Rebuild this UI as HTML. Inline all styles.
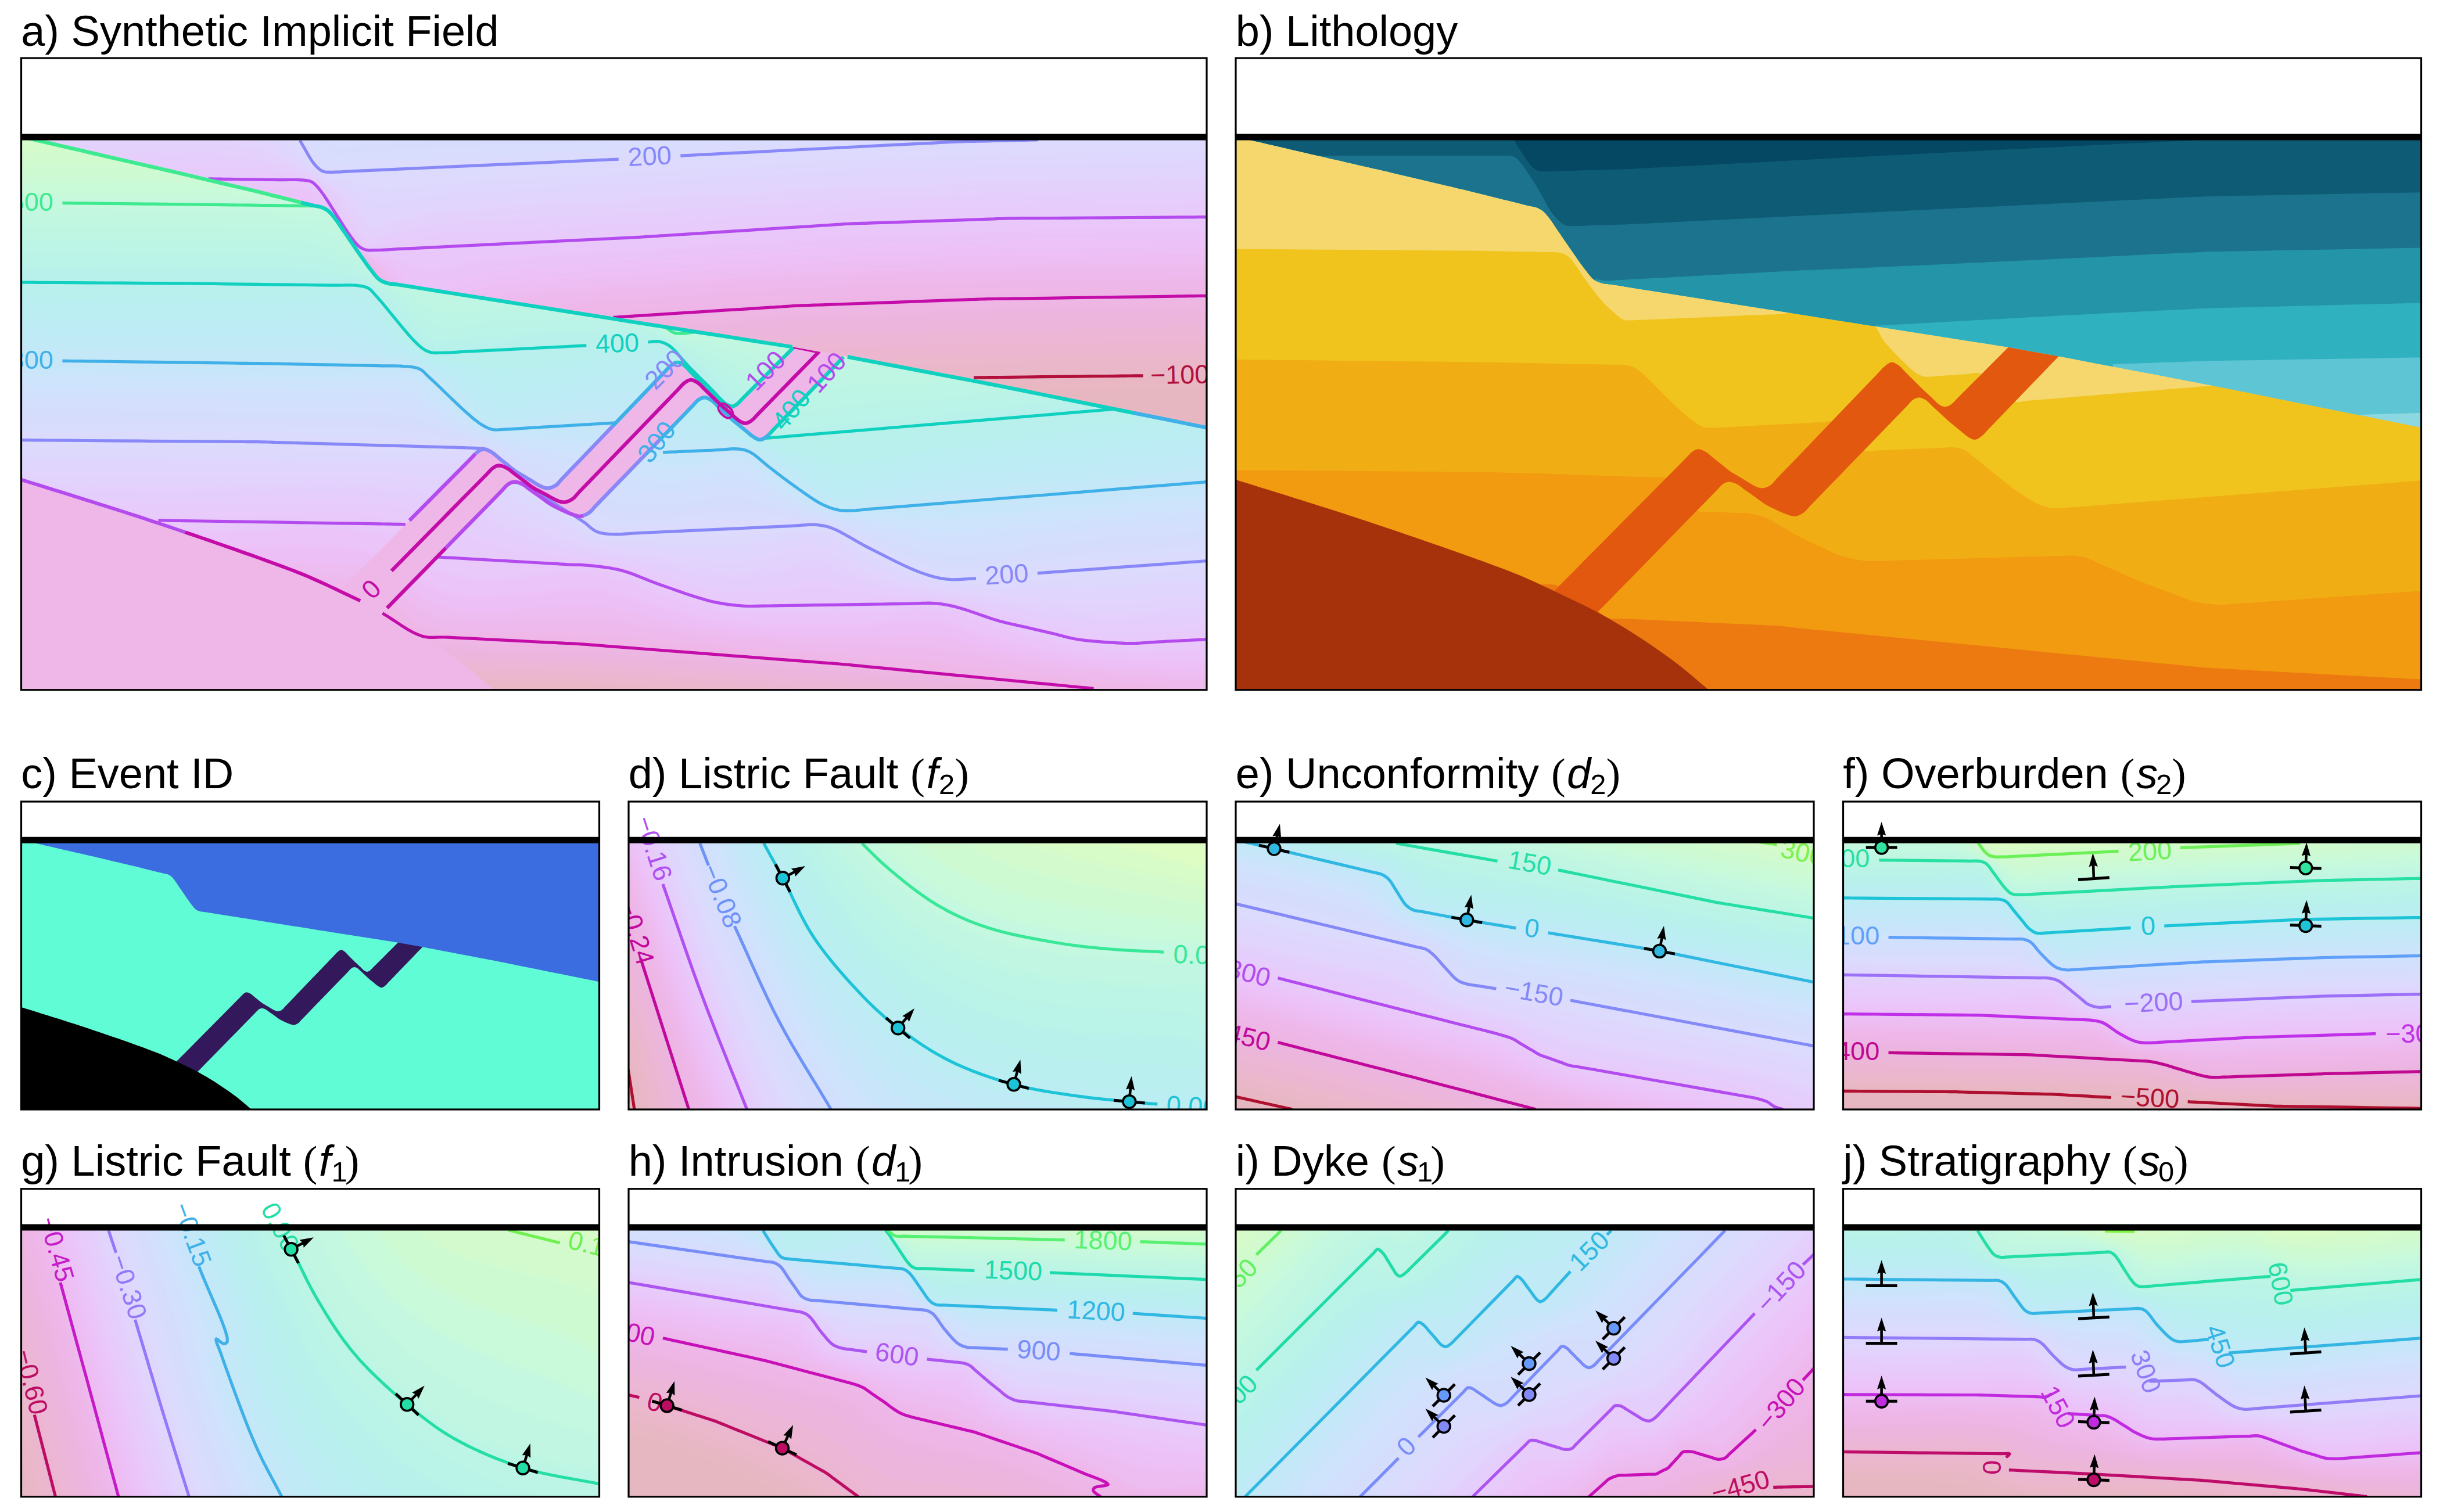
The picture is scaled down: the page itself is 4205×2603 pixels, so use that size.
<!DOCTYPE html><html><head><meta charset="utf-8"><title>Synthetic implicit field figure</title><style>html,body{margin:0;padding:0;background:#fff}svg{display:block}</style></head><body><svg width="4205" height="2603" viewBox="0 0 4205 2603" font-family="Liberation Sans, Arial, Helvetica, sans-serif">
<rect width="4205" height="2603" fill="#fff"/>
<defs><filter id="bl" x="-5%" y="-5%" width="110%" height="110%"><feGaussianBlur stdDeviation="6"/></filter>
<clipPath id="cpa"><rect x="36.5" y="100" width="2040.5" height="1087.7"/></clipPath>
<clipPath id="csa"><rect x="36.5" y="236.0" width="2040.5" height="951.7"/></clipPath>
<clipPath id="cpb"><rect x="2127" y="100" width="2040.5" height="1087.7"/></clipPath>
<clipPath id="csb"><rect x="2127" y="236.0" width="2040.5" height="951.7"/></clipPath>
<clipPath id="cpc"><rect x="36.5" y="1380" width="995.0" height="530.0"/></clipPath>
<clipPath id="csc"><rect x="36.5" y="1446.2" width="995.0" height="463.8"/></clipPath>
<clipPath id="cpd"><rect x="1082" y="1380" width="995.0" height="530.0"/></clipPath>
<clipPath id="csd"><rect x="1082" y="1446.2" width="995.0" height="463.8"/></clipPath>
<clipPath id="cpe"><rect x="2127" y="1380" width="995.0" height="530.0"/></clipPath>
<clipPath id="cse"><rect x="2127" y="1446.2" width="995.0" height="463.8"/></clipPath>
<clipPath id="cpf"><rect x="3172.5" y="1380" width="995.0" height="530.0"/></clipPath>
<clipPath id="csf"><rect x="3172.5" y="1446.2" width="995.0" height="463.8"/></clipPath>
<clipPath id="cpg"><rect x="36.5" y="2046.7" width="995.0" height="530.0"/></clipPath>
<clipPath id="csg"><rect x="36.5" y="2112.9" width="995.0" height="463.8"/></clipPath>
<clipPath id="cph"><rect x="1082" y="2046.7" width="995.0" height="530.0"/></clipPath>
<clipPath id="csh"><rect x="1082" y="2112.9" width="995.0" height="463.8"/></clipPath>
<clipPath id="cpi"><rect x="2127" y="2046.7" width="995.0" height="530.0"/></clipPath>
<clipPath id="csi"><rect x="2127" y="2112.9" width="995.0" height="463.8"/></clipPath>
<clipPath id="cpj"><rect x="3172.5" y="2046.7" width="995.0" height="530.0"/></clipPath>
<clipPath id="csj"><rect x="3172.5" y="2112.9" width="995.0" height="463.8"/></clipPath>
<clipPath id="ova"><path d="M38.2 235.5L43.3 236.7 48.6 238 53.8 239.2 58.9 240.4 63.9 241.5 69.1 242.8 74 243.9 79.2 245.1 85.4 246.5 92.7 248.2 101.6 250.3 111.5 252.6 122 255 132.4 257.4 142.3 259.7 151.2 261.8 158.6 263.5 164.8 265 170.1 266.2 174.9 267.3 180 268.5 185 269.6 189.9 270.8 195.2 272 201.4 273.4 208.8 275.1 217.7 277.1 227.6 279.4 238 281.8 248.4 284.2 258.3 286.5 267.2 288.5 274.6 290.2 280.8 291.6 286.1 292.8 291 294 296 295.1 301 296.3 305.8 297.4 311 298.7 317.4 300.2 327 302.4 339.1 305.3 352.9 308.6 367.7 312 382.4 315.5 396.2 318.8 408.4 321.6 417.9 323.9 424.4 325.4 429.6 326.6 434.3 327.7 439.3 328.9 444.4 330.2 449.3 331.4 454.6 332.7 460.6 334.2 466.7 335.8 473.7 337.5 481.4 339.4 489.4 341.4 497.5 343.4 505.2 345.3 512.2 347.1 518.2 348.6 524.4 350.1 529.8 351.5 534.8 352.7 539.6 353.9 544.7 354.9 549.4 355.7 553.9 357 557.9 358.7 561.7 360.8 565.4 363.3 569.3 367.1 573.1 371.5 576.8 376.2 580 380.5 583.2 385.2 586.3 389.9 589.3 394.4 592.5 399 595.6 403.5 598.8 408.2 601.6 412.4 604.6 416.7 607.7 421.3 611.2 426.4 614.3 430.8 617.7 435.8 621.4 441.1 625.3 446.7 629.2 452.2 633 457.5 636.6 462.3 639.9 466.5 643.6 471.2 647.1 475.5 650.5 479.2 654.2 482.2 658.9 484.8 663.7 486.6 668.5 488 672.5 488.7 676.5 488.9 680.8 489.4 685.2 490 689.6 490.7 695.1 491.6 702.5 492.8 731.2 497.4 776.6 504.6 833.1 513.5 895.1 523.4 957.2 533.2 1013.7 542.2 1059.1 549.4 1087.8 554 1095.1 555.1 1100.3 556 1104.7 556.6 1109.5 557.4 1114.4 558.2 1119 558.9 1124.2 559.7 1131.2 560.8 1148.7 563.5 1173.8 567.5 1203.9 572.2 1236.6 577.3 1269.3 582.4 1299.4 587.2 1324.5 591.1 1341.9 593.8 1348.9 594.9 1354.2 595.7 1358.8 596.4 1363.7 597.2 1368.9 598.1 1374 599 1379.3 600 1385.3 601.1 1390.5 602 1396.2 603.1 1402.4 604.2 1408.8 605.3 1415.2 606.5 1421.4 607.6 1427.2 608.6 1432.3 609.5 1438.3 610.6 1443.6 611.6 1448.7 612.5 1453.9 613.4 1458.8 614.3 1463.3 615.2 1468.6 616.2 1475.6 617.6 1493.4 621 1519 625.9 1550 631.8 1583.6 638.2 1617.2 644.6 1648.1 650.5 1673.8 655.4 1691.6 658.8 1698.6 660.2 1703.8 661.2 1708.3 662 1713.2 663 1718 663.9 1722.4 664.8 1727.6 665.9 1734.8 667.3 1759.8 672.3 1798.4 680.1 1846.1 689.7 1898.4 700.2 1950.6 710.7 1998.3 720.3 2037 728.1 2062 733.2 2069.2 734.6 2074.4 735.7 2078.8 736.5 2083.6 737.5 2137 737.5 2137 50 -23.5 50 -23.5 235.5Z"/></clipPath>
<clipPath id="una"><path d="M38.2 235.5L43.3 236.7 48.6 238 53.8 239.2 58.9 240.4 63.9 241.5 69.1 242.8 74 243.9 79.2 245.1 85.4 246.5 92.7 248.2 101.6 250.3 111.5 252.6 122 255 132.4 257.4 142.3 259.7 151.2 261.8 158.6 263.5 164.8 265 170.1 266.2 174.9 267.3 180 268.5 185 269.6 189.9 270.8 195.2 272 201.4 273.4 208.8 275.1 217.7 277.1 227.6 279.4 238 281.8 248.4 284.2 258.3 286.5 267.2 288.5 274.6 290.2 280.8 291.6 286.1 292.8 291 294 296 295.1 301 296.3 305.8 297.4 311 298.7 317.4 300.2 327 302.4 339.1 305.3 352.9 308.6 367.7 312 382.4 315.5 396.2 318.8 408.4 321.6 417.9 323.9 424.4 325.4 429.6 326.6 434.3 327.7 439.3 328.9 444.4 330.2 449.3 331.4 454.6 332.7 460.6 334.2 466.7 335.8 473.7 337.5 481.4 339.4 489.4 341.4 497.5 343.4 505.2 345.3 512.2 347.1 518.2 348.6 524.4 350.1 529.8 351.5 534.8 352.7 539.6 353.9 544.7 354.9 549.4 355.7 553.9 357 557.9 358.7 561.7 360.8 565.4 363.3 569.3 367.1 573.1 371.5 576.8 376.2 580 380.5 583.2 385.2 586.3 389.9 589.3 394.4 592.5 399 595.6 403.5 598.8 408.2 601.6 412.4 604.6 416.7 607.7 421.3 611.2 426.4 614.3 430.8 617.7 435.8 621.4 441.1 625.3 446.7 629.2 452.2 633 457.5 636.6 462.3 639.9 466.5 643.6 471.2 647.1 475.5 650.5 479.2 654.2 482.2 658.9 484.8 663.7 486.6 668.5 488 672.5 488.7 676.5 488.9 680.8 489.4 685.2 490 689.6 490.7 695.1 491.6 702.5 492.8 731.2 497.4 776.6 504.6 833.1 513.5 895.1 523.4 957.2 533.2 1013.7 542.2 1059.1 549.4 1087.8 554 1095.1 555.1 1100.3 556 1104.7 556.6 1109.5 557.4 1114.4 558.2 1119 558.9 1124.2 559.7 1131.2 560.8 1148.7 563.5 1173.8 567.5 1203.9 572.2 1236.6 577.3 1269.3 582.4 1299.4 587.2 1324.5 591.1 1341.9 593.8 1348.9 594.9 1354.2 595.7 1358.8 596.4 1363.7 597.2 1368.9 598.1 1374 599 1379.3 600 1385.3 601.1 1390.5 602 1396.2 603.1 1402.4 604.2 1408.8 605.3 1415.2 606.5 1421.4 607.6 1427.2 608.6 1432.3 609.5 1438.3 610.6 1443.6 611.6 1448.7 612.5 1453.9 613.4 1458.8 614.3 1463.3 615.2 1468.6 616.2 1475.6 617.6 1493.4 621 1519 625.9 1550 631.8 1583.6 638.2 1617.2 644.6 1648.1 650.5 1673.8 655.4 1691.6 658.8 1698.6 660.2 1703.8 661.2 1708.3 662 1713.2 663 1718 663.9 1722.4 664.8 1727.6 665.9 1734.8 667.3 1759.8 672.3 1798.4 680.1 1846.1 689.7 1898.4 700.2 1950.6 710.7 1998.3 720.3 2037 728.1 2062 733.2 2069.2 734.6 2074.4 735.7 2078.8 736.5 2083.6 737.5 2137 737.5 2137 1237.7 -23.5 1237.7 -23.5 235.5Z"/></clipPath>
<clipPath id="ovb"><path d="M2128.7 235.5L2133.8 236.7 2139.1 238 2144.3 239.2 2149.4 240.4 2154.4 241.5 2159.6 242.8 2164.5 243.9 2169.7 245.1 2175.9 246.5 2183.2 248.2 2192.1 250.3 2202 252.6 2212.5 255 2222.9 257.4 2232.8 259.7 2241.7 261.8 2249.1 263.5 2255.3 265 2260.6 266.2 2265.4 267.3 2270.5 268.5 2275.5 269.6 2280.4 270.8 2285.7 272 2291.9 273.4 2299.3 275.1 2308.2 277.1 2318.1 279.4 2328.5 281.8 2338.9 284.2 2348.8 286.5 2357.7 288.5 2365.1 290.2 2371.3 291.6 2376.6 292.8 2381.5 294 2386.5 295.1 2391.5 296.3 2396.3 297.4 2401.5 298.7 2407.9 300.2 2417.5 302.4 2429.6 305.3 2443.4 308.6 2458.2 312 2472.9 315.5 2486.7 318.8 2498.9 321.6 2508.4 323.9 2514.9 325.4 2520.1 326.6 2524.8 327.7 2529.8 328.9 2534.9 330.2 2539.8 331.4 2545.1 332.7 2551.1 334.2 2557.2 335.8 2564.2 337.5 2571.9 339.4 2579.9 341.4 2588 343.4 2595.7 345.3 2602.7 347.1 2608.7 348.6 2614.9 350.1 2620.3 351.5 2625.3 352.7 2630.1 353.9 2635.2 354.9 2639.9 355.7 2644.4 357 2648.4 358.7 2652.2 360.8 2655.9 363.3 2659.8 367.1 2663.6 371.5 2667.3 376.2 2670.5 380.5 2673.7 385.2 2676.8 389.9 2679.8 394.4 2683 399 2686.1 403.5 2689.3 408.2 2692.1 412.4 2695.1 416.7 2698.2 421.3 2701.7 426.4 2704.8 430.8 2708.2 435.8 2711.9 441.1 2715.8 446.7 2719.7 452.2 2723.5 457.5 2727.1 462.3 2730.4 466.5 2734.1 471.2 2737.6 475.5 2741 479.2 2744.7 482.2 2749.4 484.8 2754.2 486.6 2759 488 2763 488.7 2767 488.9 2771.3 489.4 2775.7 490 2780.1 490.7 2785.6 491.6 2793 492.8 2821.7 497.4 2867.1 504.6 2923.6 513.5 2985.6 523.4 3047.7 533.2 3104.2 542.2 3149.6 549.4 3178.3 554 3185.6 555.1 3190.8 556 3195.2 556.6 3200 557.4 3204.9 558.2 3209.5 558.9 3214.7 559.7 3221.7 560.8 3239.2 563.5 3264.3 567.5 3294.4 572.2 3327.1 577.3 3359.8 582.4 3389.9 587.2 3415 591.1 3432.4 593.8 3439.4 594.9 3444.7 595.7 3449.3 596.4 3454.2 597.2 3459.4 598.1 3464.5 599 3469.8 600 3475.8 601.1 3481 602 3486.7 603.1 3492.9 604.2 3499.3 605.3 3505.7 606.5 3511.9 607.6 3517.7 608.6 3522.8 609.5 3528.8 610.6 3534.1 611.6 3539.2 612.5 3544.4 613.4 3549.3 614.3 3553.8 615.2 3559.1 616.2 3566.1 617.6 3583.9 621 3609.5 625.9 3640.5 631.8 3674.1 638.2 3707.7 644.6 3738.6 650.5 3764.3 655.4 3782.1 658.8 3789.1 660.2 3794.3 661.2 3798.8 662 3803.7 663 3808.5 663.9 3812.9 664.8 3818.1 665.9 3825.3 667.3 3850.3 672.3 3888.9 680.1 3936.6 689.7 3988.9 700.2 4041.1 710.7 4088.8 720.3 4127.5 728.1 4152.5 733.2 4159.7 734.6 4164.9 735.7 4169.3 736.5 4174.1 737.5 4227.5 737.5 4227.5 50 2067 50 2067 235.5Z"/></clipPath>
<clipPath id="unb"><path d="M2128.7 235.5L2133.8 236.7 2139.1 238 2144.3 239.2 2149.4 240.4 2154.4 241.5 2159.6 242.8 2164.5 243.9 2169.7 245.1 2175.9 246.5 2183.2 248.2 2192.1 250.3 2202 252.6 2212.5 255 2222.9 257.4 2232.8 259.7 2241.7 261.8 2249.1 263.5 2255.3 265 2260.6 266.2 2265.4 267.3 2270.5 268.5 2275.5 269.6 2280.4 270.8 2285.7 272 2291.9 273.4 2299.3 275.1 2308.2 277.1 2318.1 279.4 2328.5 281.8 2338.9 284.2 2348.8 286.5 2357.7 288.5 2365.1 290.2 2371.3 291.6 2376.6 292.8 2381.5 294 2386.5 295.1 2391.5 296.3 2396.3 297.4 2401.5 298.7 2407.9 300.2 2417.5 302.4 2429.6 305.3 2443.4 308.6 2458.2 312 2472.9 315.5 2486.7 318.8 2498.9 321.6 2508.4 323.9 2514.9 325.4 2520.1 326.6 2524.8 327.7 2529.8 328.9 2534.9 330.2 2539.8 331.4 2545.1 332.7 2551.1 334.2 2557.2 335.8 2564.2 337.5 2571.9 339.4 2579.9 341.4 2588 343.4 2595.7 345.3 2602.7 347.1 2608.7 348.6 2614.9 350.1 2620.3 351.5 2625.3 352.7 2630.1 353.9 2635.2 354.9 2639.9 355.7 2644.4 357 2648.4 358.7 2652.2 360.8 2655.9 363.3 2659.8 367.1 2663.6 371.5 2667.3 376.2 2670.5 380.5 2673.7 385.2 2676.8 389.9 2679.8 394.4 2683 399 2686.1 403.5 2689.3 408.2 2692.1 412.4 2695.1 416.7 2698.2 421.3 2701.7 426.4 2704.8 430.8 2708.2 435.8 2711.9 441.1 2715.8 446.7 2719.7 452.2 2723.5 457.5 2727.1 462.3 2730.4 466.5 2734.1 471.2 2737.6 475.5 2741 479.2 2744.7 482.2 2749.4 484.8 2754.2 486.6 2759 488 2763 488.7 2767 488.9 2771.3 489.4 2775.7 490 2780.1 490.7 2785.6 491.6 2793 492.8 2821.7 497.4 2867.1 504.6 2923.6 513.5 2985.6 523.4 3047.7 533.2 3104.2 542.2 3149.6 549.4 3178.3 554 3185.6 555.1 3190.8 556 3195.2 556.6 3200 557.4 3204.9 558.2 3209.5 558.9 3214.7 559.7 3221.7 560.8 3239.2 563.5 3264.3 567.5 3294.4 572.2 3327.1 577.3 3359.8 582.4 3389.9 587.2 3415 591.1 3432.4 593.8 3439.4 594.9 3444.7 595.7 3449.3 596.4 3454.2 597.2 3459.4 598.1 3464.5 599 3469.8 600 3475.8 601.1 3481 602 3486.7 603.1 3492.9 604.2 3499.3 605.3 3505.7 606.5 3511.9 607.6 3517.7 608.6 3522.8 609.5 3528.8 610.6 3534.1 611.6 3539.2 612.5 3544.4 613.4 3549.3 614.3 3553.8 615.2 3559.1 616.2 3566.1 617.6 3583.9 621 3609.5 625.9 3640.5 631.8 3674.1 638.2 3707.7 644.6 3738.6 650.5 3764.3 655.4 3782.1 658.8 3789.1 660.2 3794.3 661.2 3798.8 662 3803.7 663 3808.5 663.9 3812.9 664.8 3818.1 665.9 3825.3 667.3 3850.3 672.3 3888.9 680.1 3936.6 689.7 3988.9 700.2 4041.1 710.7 4088.8 720.3 4127.5 728.1 4152.5 733.2 4159.7 734.6 4164.9 735.7 4169.3 736.5 4174.1 737.5 4227.5 737.5 4227.5 1237.7 2067 1237.7 2067 235.5Z"/></clipPath>
<clipPath id="ovc"><path d="M37.3 1446.1L41.5 1447.1 45.8 1448.1 49.9 1449 54.8 1450.2 60.3 1451.4 64.5 1452.4 69.6 1453.6 75.3 1454.9 81.1 1456.3 86.8 1457.6 91.8 1458.8 96 1459.7 101.6 1461 106.5 1462.2 111.3 1463.3 116.9 1464.6 121.1 1465.5 126.2 1466.7 131.8 1468 137.7 1469.3 143.3 1470.6 148.4 1471.8 152.6 1472.7 158.2 1474 163.1 1475.1 167.8 1476.3 173.5 1477.6 178.1 1478.7 184 1480.1 190.8 1481.7 198 1483.4 205.2 1485.1 211.9 1486.7 217.8 1488.1 222.5 1489.2 228.2 1490.5 232.9 1491.6 237.8 1492.8 243.3 1494.2 248.3 1495.5 254.2 1496.9 260.5 1498.5 266.4 1500 271.4 1501.2 277.1 1502.6 281.8 1503.8 285.5 1504.5 288.8 1505.3 291.7 1506.6 294.4 1508.4 297.3 1511.3 300 1514.7 303.1 1519.1 306 1523.5 308.4 1526.9 310.7 1530.3 313.5 1534.4 316.7 1539.1 319.2 1542.7 322.1 1546.9 325.1 1551.2 328.1 1555.3 330.7 1558.7 334.2 1563.1 337.7 1566.4 341.2 1568.1 344.7 1569.2 347.6 1569.6 350.7 1569.9 355 1570.5 361.3 1571.5 375.3 1573.8 397.4 1577.3 424.9 1581.6 455.2 1586.5 485.5 1591.3 513 1595.6 535.1 1599.1 549.1 1601.4 555.2 1602.3 559.7 1603 564.3 1603.8 570.3 1604.7 578.8 1606 591.1 1608 605.8 1610.3 621.7 1612.8 637.6 1615.2 652.3 1617.5 664.5 1619.5 673.1 1620.8 679 1621.7 683.7 1622.5 688.7 1623.3 694.2 1624.4 699.5 1625.3 705.7 1626.4 711.8 1627.5 717.1 1628.5 722.7 1629.4 727.7 1630.4 732.3 1631.2 738.2 1632.4 746.9 1634 759.4 1636.4 774.5 1639.3 790.9 1642.4 807.3 1645.6 822.4 1648.4 834.9 1650.8 843.6 1652.5 849.5 1653.6 854.1 1654.5 858.6 1655.4 864.6 1656.6 876.8 1659.1 895.7 1662.9 918.9 1667.6 944.4 1672.7 969.9 1677.8 993.1 1682.5 1012 1686.3 1024.2 1688.7 1030.2 1690 1034.7 1690.9 1091.5 1690.9 1091.5 1330 -23.5 1330 -23.5 1446.1Z"/></clipPath>
<clipPath id="unc"><path d="M37.3 1446.1L41.5 1447.1 45.8 1448.1 49.9 1449 54.8 1450.2 60.3 1451.4 64.5 1452.4 69.6 1453.6 75.3 1454.9 81.1 1456.3 86.8 1457.6 91.8 1458.8 96 1459.7 101.6 1461 106.5 1462.2 111.3 1463.3 116.9 1464.6 121.1 1465.5 126.2 1466.7 131.8 1468 137.7 1469.3 143.3 1470.6 148.4 1471.8 152.6 1472.7 158.2 1474 163.1 1475.1 167.8 1476.3 173.5 1477.6 178.1 1478.7 184 1480.1 190.8 1481.7 198 1483.4 205.2 1485.1 211.9 1486.7 217.8 1488.1 222.5 1489.2 228.2 1490.5 232.9 1491.6 237.8 1492.8 243.3 1494.2 248.3 1495.5 254.2 1496.9 260.5 1498.5 266.4 1500 271.4 1501.2 277.1 1502.6 281.8 1503.8 285.5 1504.5 288.8 1505.3 291.7 1506.6 294.4 1508.4 297.3 1511.3 300 1514.7 303.1 1519.1 306 1523.5 308.4 1526.9 310.7 1530.3 313.5 1534.4 316.7 1539.1 319.2 1542.7 322.1 1546.9 325.1 1551.2 328.1 1555.3 330.7 1558.7 334.2 1563.1 337.7 1566.4 341.2 1568.1 344.7 1569.2 347.6 1569.6 350.7 1569.9 355 1570.5 361.3 1571.5 375.3 1573.8 397.4 1577.3 424.9 1581.6 455.2 1586.5 485.5 1591.3 513 1595.6 535.1 1599.1 549.1 1601.4 555.2 1602.3 559.7 1603 564.3 1603.8 570.3 1604.7 578.8 1606 591.1 1608 605.8 1610.3 621.7 1612.8 637.6 1615.2 652.3 1617.5 664.5 1619.5 673.1 1620.8 679 1621.7 683.7 1622.5 688.7 1623.3 694.2 1624.4 699.5 1625.3 705.7 1626.4 711.8 1627.5 717.1 1628.5 722.7 1629.4 727.7 1630.4 732.3 1631.2 738.2 1632.4 746.9 1634 759.4 1636.4 774.5 1639.3 790.9 1642.4 807.3 1645.6 822.4 1648.4 834.9 1650.8 843.6 1652.5 849.5 1653.6 854.1 1654.5 858.6 1655.4 864.6 1656.6 876.8 1659.1 895.7 1662.9 918.9 1667.6 944.4 1672.7 969.9 1677.8 993.1 1682.5 1012 1686.3 1024.2 1688.7 1030.2 1690 1034.7 1690.9 1091.5 1690.9 1091.5 1960 -23.5 1960 -23.5 1446.1Z"/></clipPath>
</defs>
<g clip-path="url(#csd)"><g filter="url(#bl)">
<rect x="1042" y="1340" width="1075.0" height="610.0" fill="#e7b7c1"/>
<path d="M1058 1422l1044 0 0 512 -1001 0 -12 -76 -7 -34 -10 -34 -14 -23z" fill="#e8b7c5"/>
<path d="M1058 1422l1044 0 0 512 -984 0 -16 -88 -12 -44 -8 -22 -24 -47z" fill="#eab7cb"/>
<path d="M1058 1422l1044 0 0 512 -967 0 -20 -92 -12 -44 -11 -28 -34 -77z" fill="#ebb6d0"/>
<path d="M1058 1422l1044 0 0 512 -951 0 -24 -96 -14 -48 -55 -143z" fill="#ecb6d6"/>
<path d="M1058 1422l1044 0 0 512 -934 0 -43 -148 -67 -191z" fill="#ecb5dc"/>
<path d="M1058 1422l1044 0 0 512 -918 0 -48 -156 -78 -237z" fill="#ecb5e1"/>
<path d="M1058 1422l1044 0 0 512 -902 0 -50 -154 -84 -266 -4 -12 -4 -6z" fill="#eeb6e6"/>
<path d="M1058 1422l1044 0 0 512 -885 0 -55 -162 -81 -254 -9 -24 -14 -22z" fill="#eeb8eb"/>
<path d="M1058 1422l1044 0 0 512 -867 0 -60 -168 -82 -252 -15 -36 -20 -32z" fill="#edbdf2"/>
<path d="M1061 1422l1041 0 0 512 -850 0 -22 -57 -44 -122 -82 -249 -20 -44z" fill="#ecc1f8"/>
<path d="M1079 1422l1023 0 0 512 -833 0 -31 -80 -41 -112 -82 -240 -18 -44z" fill="#eac6f9"/>
<path d="M1097 1422l1005 0 0 512 -815 0 -77 -197 -76 -219z" fill="#e7cbfb"/>
<path d="M1111 1422l991 0 0 512 -796 0 -48 -115 -41 -105z" fill="#e4cffc"/>
<path d="M1125 1422l977 0 0 512 -775 0 -13 -25 -20 -46 -60 -145 -32 -83z" fill="#e1d4fd"/>
<path d="M1139 1422l963 0 0 512 -753 0 -16 -28 -19 -40 -36 -80 -28 -67 -52 -134z" fill="#dfd7fd"/>
<path d="M1152 1422l950 0 0 512 -731 0 -19 -32 -22 -43 -32 -68 -28 -63 -68 -170 -30 -80z" fill="#dcdbfd"/>
<path d="M1166 1422l936 0 0 512 -708 0 -20 -33 -24 -44 -32 -63 -28 -60 -32 -74 -44 -108 -29 -74z" fill="#d8dcfd"/>
<path d="M1179 1422l923 0 0 512 -684 0 -28 -46 -36 -64 -24 -45 -24 -50 -32 -71 -48 -113 -28 -70z" fill="#d5ddfd"/>
<path d="M1194 1422l908 0 0 512 -658 0 -82 -136 -20 -36 -20 -40 -32 -69 -48 -108 -28 -67z" fill="#d2e0fd"/>
<path d="M1210 1422l892 0 0 512 -609 0 -3 -1 -20 -15 -16 -19 -60 -91 -40 -67 -36 -70 -48 -104 -39 -89z" fill="#cfe3fd"/>
<path d="M1228 1422l874 0 0 512 -536 0 -26 -12 -22 -12 -16 -10 -12 -10 -12 -12 -16 -19 -48 -66 -40 -62 -32 -57 -32 -65 -60 -130z" fill="#c9e5fa"/>
<path d="M1247 1422l855 0 0 512 -446 0 -62 -24 -48 -24 -18 -12 -18 -13 -32 -32 -44 -54 -44 -63 -28 -46 -28 -53 -68 -143z" fill="#c4e8f8"/>
<path d="M1266 1422l836 0 0 512 -324 0 -62 -16 -58 -19 -50 -21 -42 -22 -20 -14 -20 -15 -36 -33 -44 -51 -44 -58 -25 -39 -23 -40 -72 -148z" fill="#bfeaf6"/>
<path d="M1286 1422l816 0 0 512 -41 0 -115 -12 -92 -12 -80 -14 -52 -13 -52 -18 -44 -19 -40 -22 -44 -31 -24 -20 -20 -18 -44 -48 -40 -50 -20 -28 -18 -31 -40 -80z" fill="#bbedf3"/>
<path d="M1309 1422l793 0 0 466 -204 -14 -56 -7 -56 -8 -44 -10 -48 -16 -44 -17 -36 -19 -48 -32 -44 -34 -44 -42 -44 -49 -22 -30 -18 -28 -37 -72z" fill="#b9efef"/>
<path d="M1334 1422l768 0 0 425 -28 -6 -32 -4 -168 -10 -48 -5 -40 -7 -44 -10 -44 -13 -40 -17 -36 -18 -48 -30 -40 -30 -40 -35 -40 -43 -24 -30 -20 -30 -53 -93z" fill="#b8f1eb"/>
<path d="M1359 1422l743 0 0 383 -32 -9 -36 -6 -36 -3 -128 -6 -44 -4 -40 -6 -40 -9 -40 -12 -36 -13 -36 -17 -44 -25 -40 -28 -40 -34 -36 -36 -28 -33 -28 -40 -36 -58z" fill="#baf3e8"/>
<path d="M1384 1422l718 0 0 338 -32 -10 -36 -5 -36 -3 -124 -5 -40 -4 -40 -5 -40 -8 -36 -10 -36 -12 -36 -15 -40 -22 -36 -23 -36 -27 -36 -33 -32 -35 -32 -40 -30 -45z" fill="#bcf5e5"/>
<path d="M1410 1422l692 0 0 290 -24 -7 -28 -4 -156 -7 -44 -3 -40 -5 -40 -7 -40 -9 -36 -11 -32 -12 -36 -17 -36 -21 -32 -23 -32 -26 -36 -35 -36 -40 -28 -36z" fill="#c0f6e2"/>
<path d="M1437 1422l665 0 0 240 -32 -3 -140 -5 -80 -7 -48 -7 -48 -9 -40 -10 -32 -10 -32 -13 -28 -14 -28 -17 -29 -21 -35 -29 -28 -25 -44 -45z" fill="#c4f8e0"/>
<path d="M1481 1422l621 0 0 203 -160 -11 -76 -7 -44 -7 -52 -9 -36 -9 -32 -9 -28 -10 -28 -13 -24 -13 -24 -15 -32 -23 -30 -25 -26 -23z" fill="#c9fad9"/>
<path d="M1540 1422l562 0 0 173 -44 -7 -128 -14 -68 -10 -72 -13 -60 -16 -52 -19 -24 -12 -24 -13 -24 -16 -24 -17z" fill="#cefad2"/>
<path d="M1610 1422l492 0 0 143 -56 -12 -180 -30 -48 -10 -44 -12 -46 -15 -42 -18 -40 -22z" fill="#d2facd"/>
<path d="M1700 1422l402 0 0 113 -56 -15 -148 -31 -72 -18 -36 -11 -32 -12 -32 -13z" fill="#d8fcc7"/>
<path d="M1815 1422l287 0 0 83 -64 -20 -152 -40z" fill="#defdc3"/>
</g></g>
<g clip-path="url(#cse)"><g filter="url(#bl)">
<rect x="2087" y="1340" width="1075.0" height="610.0" fill="#e7b7c1"/>
<path d="M2103 1422l1044 0 0 512 -800 0 -88 -22 -156 -36z" fill="#e8b7c5"/>
<path d="M2103 1422l1044 0 0 512 -732 0 -108 -29 -204 -48z" fill="#eab7cb"/>
<path d="M2103 1422l1044 0 0 512 -661 0 -175 -47 -208 -50z" fill="#ebb6d0"/>
<path d="M2103 1422l1044 0 0 512 -586 0 -250 -65 -208 -51z" fill="#ecb6d6"/>
<path d="M2103 1422l1044 0 0 512 -511 0 -533 -136z" fill="#ecb5dc"/>
<path d="M2103 1422l1044 0 0 512 -442 0 -602 -155z" fill="#ecb5e1"/>
<path d="M2103 1422l1044 0 0 512 -382 0 -26 -8 -228 -61 -408 -105z" fill="#eeb6e6"/>
<path d="M2103 1422l1044 0 0 512 -321 0 -167 -45 -140 -42 -188 -47 -228 -59z" fill="#eeb8eb"/>
<path d="M2103 1422l1044 0 0 512 -244 0 -224 -55 -40 -12 -72 -26 -48 -14 -172 -41 -244 -64z" fill="#edbdf2"/>
<path d="M2103 1422l1044 0 0 512 -159 0 -53 -13 -244 -54 -40 -12 -72 -30 -40 -13 -44 -11 -140 -32 -252 -66z" fill="#ecc1f8"/>
<path d="M2103 1422l1044 0 0 512 -96 0 -32 -13 -40 -11 -279 -56 -45 -14 -20 -9 -44 -22 -40 -13 -52 -14 -140 -32 -256 -66z" fill="#eac6f9"/>
<path d="M2103 1422l1044 0 0 512 -56 0 -24 -18 -32 -16 -16 -5 -84 -16 -236 -42 -24 -7 -24 -10 -44 -25 -21 -9 -60 -16 -148 -36 -275 -70z" fill="#e7cbfb"/>
<path d="M2103 1422l1044 0 0 491 -26 -3 -14 -3 -56 -26 -16 -5 -20 -5 -80 -15 -232 -38 -36 -12 -52 -27 -24 -9 -96 -24 -112 -36 -280 -68z" fill="#e4cffc"/>
<path d="M2103 1422l1044 0 0 463 -28 -7 -64 -21 -40 -10 -88 -16 -184 -30 -36 -7 -32 -10 -68 -26 -84 -20 -25 -8 -29 -12 -46 -23 -28 -11 -26 -6 -122 -25 -144 -35z" fill="#e1d4fd"/>
<path d="M2103 1422l1044 0 0 434 -88 -23 -48 -10 -292 -52 -32 -8 -76 -22 -84 -17 -20 -6 -17 -8 -18 -12 -37 -27 -12 -6 -16 -6 -24 -5 -76 -13 -52 -10 -80 -18 -72 -18z" fill="#dfd7fd"/>
<path d="M2103 1422l1044 0 0 407 -132 -28 -272 -50 -124 -25 -92 -17 -16 -5 -12 -6 -15 -12 -33 -33 -11 -7 -13 -5 -36 -9 -84 -15 -64 -13 -140 -32z" fill="#dcdbfd"/>
<path d="M2103 1422l1044 0 0 383 -396 -75 -88 -15 -135 -21 -13 -4 -8 -5 -44 -46 -8 -5 -11 -4 -41 -12 -56 -14 -244 -55z" fill="#d8dcfd"/>
<path d="M2103 1422l1044 0 0 364 -375 -72 -81 -13 -124 -18 -27 -5 -12 -4 -9 -4 -12 -9 -32 -27 -13 -8 -15 -6 -52 -16 -60 -22 -36 -10 -74 -18 -122 -25z" fill="#d5ddfd"/>
<path d="M2103 1422l1044 0 0 346 -340 -66 -96 -16 -128 -18 -40 -8 -20 -9 -40 -25 -15 -8 -65 -23 -56 -27 -28 -11 -36 -10 -52 -13 -128 -25z" fill="#d2e0fd"/>
<path d="M2103 1422l1044 0 0 329 -316 -62 -104 -18 -136 -19 -24 -5 -20 -5 -20 -7 -52 -24 -48 -16 -16 -7 -19 -10 -41 -26 -31 -14 -37 -10 -58 -14 -58 -12 -64 -11z" fill="#cfe3fd"/>
<path d="M2103 1422l1044 0 0 312 -298 -60 -110 -18 -144 -21 -28 -5 -24 -7 -61 -21 -47 -13 -16 -7 -19 -12 -38 -32 -15 -8 -16 -6 -36 -11 -66 -15 -57 -12 -69 -12z" fill="#c9e5fa"/>
<path d="M2103 1422l1044 0 0 295 -200 -41 -100 -20 -92 -15 -184 -28 -128 -31 -16 -6 -12 -7 -13 -11 -27 -31 -8 -6 -15 -7 -26 -8 -49 -12 -98 -21 -76 -15z" fill="#c4e8f8"/>
<path d="M2103 1422l1044 0 0 278 -184 -39 -108 -21 -100 -17 -176 -27 -112 -19 -28 -6 -12 -5 -10 -8 -27 -40 -7 -7 -8 -4 -28 -9 -32 -8 -212 -47z" fill="#bfeaf6"/>
<path d="M2103 1422l1044 0 0 259 -216 -44 -112 -21 -152 -25 -192 -27 -24 -5 -12 -4 -8 -5 -31 -40 -10 -8 -11 -6 -40 -11 -168 -37 -68 -19z" fill="#bbedf3"/>
<path d="M2122 1422l1025 0 0 239 -276 -54 -124 -22 -104 -17 -148 -20 -24 -4 -12 -4 -12 -5 -8 -6 -24 -23 -11 -8 -13 -7 -12 -5 -44 -11 -144 -30z" fill="#b9efef"/>
<path d="M2153 1422l994 0 0 219 -444 -84 -64 -10 -125 -17 -27 -4 -16 -5 -12 -4 -48 -29 -28 -11 -44 -11 -144 -29 -16 -4z" fill="#b8f1eb"/>
<path d="M2175 1422l972 0 0 199 -196 -35 -260 -51 -192 -29 -32 -9 -56 -22 -28 -8 -48 -11 -132 -25 -16 -4z" fill="#baf3e8"/>
<path d="M2201 1422l946 0 0 179 -200 -35 -264 -53 -176 -28 -36 -7 -88 -22z" fill="#bcf5e5"/>
<path d="M2255 1422l892 0 0 158 -196 -33 -268 -54 -116 -18 -176 -29z" fill="#c0f6e2"/>
<path d="M2323 1422l824 0 0 138 -48 -9 -150 -25 -186 -38 -76 -14 -188 -28 -112 -14z" fill="#c4f8e0"/>
<path d="M2436 1422l711 0 0 117 -60 -11 -136 -23 -168 -34 -72 -13 -188 -26z" fill="#c9fad9"/>
<path d="M2585 1422l562 0 0 97 -68 -14 -132 -22 -176 -34 -84 -13z" fill="#cefad2"/>
<path d="M2728 1422l419 0 0 76 -72 -15 -112 -18 -168 -33z" fill="#d2facd"/>
<path d="M2849 1422l298 0 0 56 -80 -17 -76 -12z" fill="#d8fcc7"/>
<path d="M2956 1422l191 0 0 36 -76 -16z" fill="#defdc3"/>
</g></g>
<g clip-path="url(#csf)"><g filter="url(#bl)">
<rect x="3132.5" y="1340" width="1075.0" height="610.0" fill="#e7b7c1"/>
<path d="M3148 1422l1044 0 0 483 -296 -4 -80 -4 -252 -16 -80 -3 -148 -3 -188 -1z" fill="#e8b7c5"/>
<path d="M3148 1422l1044 0 0 471 -224 -1 -92 -2 -84 -4 -116 -12 -156 -7 -156 -4 -216 -1z" fill="#eab7cb"/>
<path d="M3148 1422l1044 0 0 459 -260 1 -108 -2 -40 -3 -80 -14 -36 -4 -244 -7 -276 -3z" fill="#ebb6d0"/>
<path d="M3148 1422l1044 0 0 446 -284 4 -92 -1 -32 -3 -76 -18 -36 -4 -80 -1 -168 -6 -276 -3z" fill="#ecb6d6"/>
<path d="M3148 1422l1044 0 0 434 -380 7 -16 -2 -15 -3 -73 -20 -36 -4 -236 -8 -288 -3z" fill="#ecb5dc"/>
<path d="M3148 1422l1044 0 0 421 -184 4 -200 6 -20 -3 -76 -21 -20 -3 -76 -6 -184 -7 -284 -3z" fill="#ecb5e1"/>
<path d="M3148 1422l1044 0 0 407 -188 5 -192 7 -24 -3 -72 -17 -52 -6 -56 -10 -20 -3 -196 -4 -244 -2z" fill="#eeb6e6"/>
<path d="M3148 1422l1044 0 0 392 -200 6 -180 7 -20 -2 -64 -10 -56 -6 -28 -7 -36 -12 -20 -4 -76 1 -136 -3 -228 -3z" fill="#eeb8eb"/>
<path d="M3148 1422l1044 0 0 377 -208 6 -156 6 -28 1 -108 -7 -16 -2 -27 -9 -37 -18 -8 -3 -12 -2 -76 2 -148 -4 -220 -2z" fill="#edbdf2"/>
<path d="M3148 1422l1044 0 0 361 -260 7 -152 7 -88 1 -12 -1 -19 -7 -17 -8 -28 -18 -8 -3 -20 -2 -216 -6 -224 -1z" fill="#ecc1f8"/>
<path d="M3148 1422l1044 0 0 345 -320 9 -64 3 -88 8 -28 1 -12 -1 -12 -5 -35 -20 -13 -5 -100 -19 -212 -2 -160 -1z" fill="#eac6f9"/>
<path d="M3148 1422l1044 0 0 328 -188 4 -140 5 -64 4 -80 9 -24 1 -20 -3 -48 -18 -48 -10 -18 -8 -30 -16 -12 -3 -80 5 -292 -2z" fill="#e7cbfb"/>
<path d="M3148 1422l1044 0 0 312 -172 3 -144 5 -72 4 -88 8 -24 1 -84 -13 -16 -3 -10 -5 -14 -8 -30 -24 -14 -4 -84 5 -292 -2z" fill="#e4cffc"/>
<path d="M3148 1422l1044 0 0 296 -212 5 -160 6 -128 8 -76 1 -12 -2 -15 -6 -12 -8 -32 -28 -8 -4 -9 -2 -20 -1 -360 -1z" fill="#e1d4fd"/>
<path d="M3148 1422l1044 0 0 283 -172 4 -160 5 -144 8 -100 8 -12 -2 -12 -5 -37 -29 -13 -8 -14 -4 -28 -4 -32 -3 -28 -1 -292 -1z" fill="#dfd7fd"/>
<path d="M3148 1422l1044 0 0 272 -188 4 -196 7 -100 6 -92 8 -8 -1 -12 -4 -38 -24 -17 -8 -53 -15 -20 -3 -28 -1 -292 -2z" fill="#dcdbfd"/>
<path d="M3148 1422l1044 0 0 261 -184 4 -184 6 -108 6 -96 9 -12 -2 -8 -2 -49 -22 -33 -12 -30 -12 -20 -6 -20 -1 -300 -1z" fill="#d8dcfd"/>
<path d="M3148 1422l1044 0 0 250 -176 4 -168 5 -120 6 -108 9 -24 -4 -56 -17 -20 -9 -36 -21 -16 -4 -320 -1z" fill="#d5ddfd"/>
<path d="M3148 1422l1044 0 0 240 -172 3 -152 5 -120 5 -132 9 -20 -2 -32 -5 -24 -6 -10 -5 -13 -8 -29 -24 -12 -4 -16 -1 -180 1 -132 -1z" fill="#d2e0fd"/>
<path d="M3148 1422l1044 0 0 228 -164 3 -120 3 -144 7 -144 9 -60 0 -12 -2 -10 -4 -7 -4 -18 -16 -19 -20 -6 -4 -12 -2 -32 -1 -296 -1z" fill="#cfe3fd"/>
<path d="M3148 1422l1044 0 0 215 -196 4 -180 6 -172 10 -88 8 -12 -2 -8 -5 -32 -32 -11 -8 -5 -2 -12 -4 -28 -5 -36 -2 -136 1 -128 -2z" fill="#c9e5fa"/>
<path d="M3148 1422l1044 0 0 200 -220 4 -188 7 -148 9 -28 4 -40 7 -12 2 -8 -2 -5 -3 -29 -24 -19 -12 -51 -23 -12 -3 -16 -1 -52 2 -64 1 -152 -1z" fill="#c4e8f8"/>
<path d="M3148 1422l1044 0 0 183 -220 4 -172 7 -160 10 -28 3 -40 7 -12 1 -8 -1 -8 -3 -55 -27 -18 -12 -27 -22 -8 -3 -12 -1 -40 3 -32 1 -204 0z" fill="#bfeaf6"/>
<path d="M3148 1422l1044 0 0 167 -192 2 -104 4 -204 10 -136 11 -44 -5 -8 -2 -8 -4 -18 -15 -26 -31 -4 -3 -8 -2 -72 1 -220 0z" fill="#bbedf3"/>
<path d="M3148 1422l1044 0 0 151 -180 2 -112 4 -204 10 -120 7 -68 6 -8 -3 -7 -5 -31 -36 -10 -8 -12 -4 -16 -3 -24 -4 -20 -1 -232 1z" fill="#b9efef"/>
<path d="M3148 1422l1044 0 0 135 -184 3 -124 4 -280 16 -92 8 -12 -4 -30 -26 -18 -12 -40 -18 -16 -5 -16 -1 -80 2 -152 1z" fill="#b8f1eb"/>
<path d="M3148 1422l1044 0 0 121 -172 2 -120 4 -216 11 -96 6 -60 6 -12 0 -16 -5 -36 -18 -29 -19 -27 -20 -12 -4 -96 4 -152 0z" fill="#baf3e8"/>
<path d="M3148 1422l1044 0 0 106 -164 3 -112 3 -208 10 -176 11 -20 0 -32 -6 -20 -7 -20 -16 -24 -28 -6 -4 -6 -1 -12 -1 -52 3 -48 1 -144 0z" fill="#bcf5e5"/>
<path d="M3148 1422l1044 0 0 91 -156 3 -100 3 -196 9 -212 12 -52 1 -12 -2 -8 -5 -8 -8 -23 -32 -9 -7 -8 -3 -12 -2 -32 -1 -216 0z" fill="#c0f6e2"/>
<path d="M3148 1422l1044 0 0 75 -192 5 -236 10 -212 12 -80 7 -4 -1 -8 -4 -24 -28 -16 -14 -12 -5 -32 -8 -24 -4 -24 -1 -180 0z" fill="#c4f8e0"/>
<path d="M3148 1422l1044 0 0 59 -192 7 -252 10 -188 11 -80 7 -8 -1 -8 -3 -28 -22 -24 -14 -36 -17 -20 -6 -16 -2 -24 -1 -168 2z" fill="#c9fad9"/>
<path d="M3148 1422l1044 0 0 43 -444 18 -176 10 -88 7 -8 -1 -12 -3 -40 -17 -14 -9 -34 -24 -8 -4 -12 -5 -20 -2 -24 -1 -164 3z" fill="#cefad2"/>
<path d="M3362 1422l830 0 0 28 -440 18 -252 15 -24 0 -40 -4 -13 -5 -11 -8 -32 -35 -8 -5z" fill="#d2facd"/>
<path d="M3390 1422l802 0 0 13 -228 10 -220 9 -308 17 -12 -3 -6 -6 -18 -28z" fill="#d8fcc7"/>
<path d="M3407 1422l1 0 743 0 -191 9 -224 9 -232 12 -64 5 -8 -2 -4 -2z" fill="#defdc3"/>
</g></g>
<g clip-path="url(#csg)"><g filter="url(#bl)">
<rect x="-3.5" y="2006.7" width="1075.0" height="610.0" fill="#e7b7c1"/>
<path d="M12 2089l1044 0 0 512 -1015 0 -29 -115z" fill="#e8b7c5"/>
<path d="M12 2089l1044 0 0 512 -990 0 -18 -76 -36 -135z" fill="#eab7cb"/>
<path d="M12 2089l1044 0 0 512 -965 0 -31 -120 -48 -182z" fill="#ebb6d0"/>
<path d="M12 2089l1044 0 0 512 -943 0 -81 -312 -5 -16 -15 -32z" fill="#ecb6d6"/>
<path d="M12 2089l1044 0 0 512 -923 0 -81 -312 -12 -35 -28 -69z" fill="#ecb5dc"/>
<path d="M12 2089l1044 0 0 512 -904 0 -24 -95 -60 -227 -28 -82 -28 -72z" fill="#ecb5e1"/>
<path d="M22 2089l1034 0 0 512 -884 0 -89 -336 -40 -124 -11 -30z" fill="#eeb6e6"/>
<path d="M49 2089l1007 0 0 512 -865 0 -88 -332 -43 -146z" fill="#eeb8eb"/>
<path d="M72 2089l984 0 0 512 -845 0z" fill="#edbdf2"/>
<path d="M90 2089l966 0 0 512 -826 0 -88 -320z" fill="#ecc1f8"/>
<path d="M107 2089l949 0 0 512 -806 0 -86 -302z" fill="#eac6f9"/>
<path d="M124 2089l932 0 0 512 -787 0 -85 -294z" fill="#e7cbfb"/>
<path d="M141 2089l915 0 0 512 -767 0 -85 -288z" fill="#e4cffc"/>
<path d="M157 2089l899 0 0 512 -747 0 -86 -284 -40 -144z" fill="#e1d4fd"/>
<path d="M174 2089l882 0 0 512 -728 0 -76 -248 -53 -184z" fill="#dfd7fd"/>
<path d="M192 2089l864 0 0 512 -707 0 -58 -180 -73 -248z" fill="#dcdbfd"/>
<path d="M210 2089l846 0 0 512 -685 0 -23 -60 -39 -120 -47 -164z" fill="#d8dcfd"/>
<path d="M229 2089l827 0 0 512 -663 0 -26 -64 -41 -120 -15 -48 -27 -104z" fill="#d5ddfd"/>
<path d="M248 2089l808 0 0 512 -639 0 -17 -34 -16 -39 -41 -115 -15 -48 -15 -68 -9 -32 -46 -140z" fill="#d2e0fd"/>
<path d="M266 2089l790 0 0 512 -615 0 -18 -36 -19 -41 -24 -60 -21 -59 -14 -48 -11 -60 -7 -28 -51 -147z" fill="#cfe3fd"/>
<path d="M285 2089l771 0 0 512 -590 0 -26 -49 -19 -43 -29 -68 -18 -48 -9 -28 -4 -20 -5 -48 -6 -24z" fill="#c9e5fa"/>
<path d="M305 2089l751 0 0 512 -563 0 -49 -96 -32 -71 -20 -50 -8 -23 -6 -24 0 -12 3 -16 0 -8 -4 -20 -10 -28z" fill="#c4e8f8"/>
<path d="M328 2089l728 0 0 512 -522 0 -10 -10 -10 -14 -35 -60 -27 -53 -29 -67 -11 -28 -6 -24 -2 -12 -1 -36 -6 -24 -10 -28 -35 -88z" fill="#bfeaf6"/>
<path d="M352 2089l704 0 0 512 -465 0 -33 -28 -14 -15 -12 -17 -19 -28 -17 -28 -32 -62 -16 -36 -10 -30 -6 -24 -9 -48 -8 -28 -44 -112z" fill="#bbedf3"/>
<path d="M376 2089l680 0 0 512 -398 0 -34 -24 -38 -32 -30 -33 -32 -46 -30 -53 -14 -29 -12 -29 -30 -102 -45 -112z" fill="#b9efef"/>
<path d="M401 2089l655 0 0 512 -319 0 -52 -32 -41 -29 -36 -31 -32 -35 -29 -41 -27 -44 -16 -31 -12 -28 -34 -93 -42 -100z" fill="#b8f1eb"/>
<path d="M426 2089l630 0 0 512 -219 0 -53 -25 -44 -25 -40 -25 -36 -27 -36 -32 -31 -34 -29 -37 -25 -39 -19 -35 -20 -43 -63 -146 -9 -24z" fill="#baf3e8"/>
<path d="M451 2089l605 0 0 512 -59 0 -93 -29 -48 -17 -49 -22 -45 -24 -38 -24 -40 -32 -36 -32 -32 -33 -28 -34 -24 -35 -24 -40 -24 -46 -52 -110z" fill="#bcf5e5"/>
<path d="M482 2089l574 0 0 453 -124 -24 -32 -9 -35 -12 -41 -17 -36 -18 -32 -20 -32 -24 -44 -36 -36 -33 -28 -30 -24 -30 -24 -35 -24 -40 -44 -86z" fill="#c0f6e2"/>
<path d="M526 2089l530 0 0 398 -44 -18 -118 -36 -58 -22 -32 -15 -28 -16 -32 -20 -32 -23 -32 -26 -28 -26 -24 -26 -24 -30 -22 -32 -21 -36 -21 -40z" fill="#c4f8e0"/>
<path d="M576 2089l480 0 0 337 -40 -23 -40 -19 -36 -14 -88 -32 -44 -19 -44 -22 -40 -25 -24 -18 -24 -21 -20 -20 -20 -23 -18 -25 -16 -24 -14 -25z" fill="#c9fad9"/>
<path d="M633 2089l423 0 0 263 -40 -30 -20 -12 -20 -10 -38 -15 -82 -25 -40 -14 -40 -18 -32 -17 -36 -26 -28 -26 -15 -18 -11 -16z" fill="#cefad2"/>
<path d="M697 2089l359 0 0 167 -12 -12 -13 -11 -15 -9 -16 -6 -30 -9 -82 -19 -44 -11 -40 -12 -32 -13 -24 -13 -20 -15 -16 -17z" fill="#d2facd"/>
<path d="M796 2089l260 0 0 61 -68 -11 -44 -9 -76 -20z" fill="#d8fcc7"/>
<path d="M1014 2089l42 0 0 15 -20 -8z" fill="#defdc3"/>
</g></g>
<g clip-path="url(#csh)"><g filter="url(#bl)">
<rect x="1042" y="2006.7" width="1075.0" height="610.0" fill="#e7b7c1"/>
<path d="M1058 2089l1044 0 0 512 -693 0 -43 -26 -36 -20 -40 -19 -40 -18 -44 -18 -48 -18 -52 -17 -48 -13z" fill="#e8b7c5"/>
<path d="M1058 2089l1044 0 0 512 -653 0 -43 -29 -40 -25 -40 -21 -44 -20 -52 -22 -52 -19 -68 -22 -52 -14z" fill="#eab7cb"/>
<path d="M1058 2089l1044 0 0 512 -615 0 -37 -30 -40 -27 -44 -26 -48 -24 -56 -24 -64 -23 -88 -28 -52 -12z" fill="#ebb6d0"/>
<path d="M1058 2089l1044 0 0 512 -371 0 -45 -9 -44 -5 -40 -2 -64 2 -16 -1 -8 -3 -8 -5 -52 -40 -36 -25 -35 -20 -37 -18 -60 -23 -77 -27 -95 -28 -56 -13z" fill="#ecb6d6"/>
<path d="M1058 2089l1044 0 0 512 -291 0 -61 -22 -52 -14 -44 -6 -80 -7 -28 -4 -16 -5 -16 -7 -20 -13 -64 -44 -25 -14 -28 -12 -47 -16 -120 -38 -84 -23 -68 -16z" fill="#ecb5dc"/>
<path d="M1058 2089l1044 0 0 512 -233 0 -79 -35 -32 -12 -32 -11 -52 -12 -92 -13 -20 -4 -16 -6 -16 -7 -20 -11 -64 -45 -20 -10 -24 -9 -216 -58 -128 -31z" fill="#ecb5e1"/>
<path d="M1058 2089l1044 0 0 512 -185 0 -39 -22 -40 -19 -52 -23 -41 -16 -51 -15 -100 -19 -20 -5 -20 -7 -16 -7 -16 -10 -52 -39 -16 -8 -16 -6 -28 -8 -84 -19 -128 -32 -140 -32z" fill="#eeb6e6"/>
<path d="M1058 2089l1044 0 0 499 -32 -2 -28 1 -36 3 -44 7 -12 -1 -12 -7 -36 -26 -16 -9 -65 -29 -48 -20 -44 -16 -39 -12 -104 -24 -32 -9 -20 -12 -48 -35 -17 -8 -27 -9 -44 -11 -155 -36 -185 -41z" fill="#eeb8eb"/>
<path d="M1058 2089l1044 0 0 472 -48 -2 -76 4 -20 -2 -12 -5 -48 -26 -63 -25 -117 -41 -80 -31 -20 -6 -44 -9 -16 -4 -16 -7 -40 -22 -16 -8 -72 -21 -64 -25 -24 -6 -96 -18 -172 -36z" fill="#edbdf2"/>
<path d="M1058 2089l1044 0 0 445 -40 -4 -68 -3 -28 -4 -20 -6 -80 -27 -112 -32 -24 -8 -24 -11 -18 -10 -34 -22 -16 -8 -16 -3 -40 -4 -24 -4 -67 -23 -45 -12 -20 -6 -27 -14 -37 -26 -16 -6 -96 -13 -192 -36z" fill="#ecc1f8"/>
<path d="M1058 2089l1044 0 0 416 -96 -11 -32 -5 -100 -22 -96 -20 -28 -7 -20 -7 -20 -11 -17 -13 -31 -27 -8 -6 -8 -3 -16 -2 -48 -1 -24 -3 -104 -24 -21 -6 -11 -5 -12 -9 -12 -10 -20 -23 -8 -6 -8 -3 -12 -3 -48 -3 -36 -4 -208 -37z" fill="#eac6f9"/>
<path d="M1058 2089l1044 0 0 389 -104 -15 -110 -18 -102 -14 -32 -6 -20 -7 -15 -9 -21 -18 -28 -27 -12 -8 -16 -3 -52 -1 -32 -3 -96 -16 -24 -6 -11 -6 -9 -7 -11 -13 -20 -28 -6 -4 -7 -3 -20 -4 -76 -8 -220 -37z" fill="#e7cbfb"/>
<path d="M1058 2089l1044 0 0 364 -188 -28 -128 -11 -32 -5 -12 -4 -12 -7 -50 -41 -10 -7 -8 -3 -12 -3 -76 -10 -111 -13 -21 -5 -8 -5 -8 -7 -32 -38 -8 -5 -12 -4 -52 -13 -32 -6 -232 -37z" fill="#e4cffc"/>
<path d="M1058 2089l1044 0 0 342 -160 -22 -56 -6 -92 -7 -32 -5 -16 -5 -12 -6 -60 -35 -12 -4 -40 -10 -40 -15 -24 -4 -80 -5 -16 -2 -12 -4 -16 -9 -26 -23 -14 -10 -35 -14 -37 -18 -12 -4 -16 -3 -100 -12 -136 -21z" fill="#e1d4fd"/>
<path d="M1058 2089l1044 0 0 321 -44 -7 -96 -11 -68 -7 -96 -7 -36 -6 -28 -9 -53 -22 -35 -10 -16 -6 -15 -8 -25 -17 -12 -5 -16 -2 -40 1 -28 -1 -24 -3 -16 -4 -16 -8 -37 -21 -36 -16 -18 -12 -21 -17 -12 -6 -16 -3 -44 -3 -40 -4 -156 -22z" fill="#dfd7fd"/>
<path d="M1058 2089l1044 0 0 301 -152 -17 -160 -14 -40 -6 -92 -24 -16 -6 -11 -6 -11 -8 -26 -28 -8 -4 -12 -1 -48 2 -36 -2 -28 -4 -28 -8 -52 -20 -13 -7 -18 -16 -19 -24 -10 -6 -12 -2 -48 -2 -40 -4 -164 -22z" fill="#dcdbfd"/>
<path d="M1058 2089l1044 0 0 282 -168 -17 -160 -13 -84 -12 -28 -4 -16 -7 -13 -9 -15 -16 -16 -23 -8 -6 -12 -1 -60 0 -48 -3 -40 -7 -48 -12 -8 -4 -9 -8 -13 -16 -15 -24 -4 -4 -7 -4 -16 -3 -96 -9 -160 -21z" fill="#d8dcfd"/>
<path d="M1058 2089l1044 0 0 264 -260 -23 -104 -7 -56 -2 -20 -3 -12 -5 -6 -4 -18 -21 -18 -23 -5 -4 -8 -4 -17 -4 -24 -2 -140 -10 -20 -3 -8 -3 -8 -5 -4 -5 -24 -36 -7 -8 -9 -6 -8 -2 -15 -4 -53 -9 -200 -26z" fill="#d5ddfd"/>
<path d="M1058 2089l1044 0 0 247 -288 -23 -72 -3 -60 1 -16 -2 -8 -3 -8 -5 -40 -40 -16 -9 -44 -15 -16 -3 -116 -2 -24 -4 -7 -3 -5 -4 -19 -24 -14 -16 -12 -8 -11 -5 -40 -14 -40 -10 -188 -26z" fill="#d2e0fd"/>
<path d="M1058 2089l1044 0 0 231 -156 -13 -128 -8 -60 -2 -68 2 -16 -1 -16 -7 -48 -34 -31 -16 -33 -20 -16 -3 -44 2 -52 0 -20 0 -12 -2 -12 -6 -30 -27 -22 -15 -40 -22 -28 -12 -20 -7 -24 -4 -120 -16 -48 -7z" fill="#cfe3fd"/>
<path d="M1085 2089l1017 0 0 215 -148 -11 -116 -7 -72 -2 -72 1 -20 -2 -20 -8 -59 -30 -17 -12 -24 -25 -7 -3 -13 -1 -40 3 -40 1 -32 -1 -16 -3 -12 -5 -52 -30 -56 -40 -12 -7 -12 -6 -16 -4 -20 -4z" fill="#c9e5fa"/>
<path d="M1211 2089l891 0 0 200 -180 -13 -128 -5 -100 -1 -16 -1 -16 -3 -40 -12 -21 -9 -14 -12 -10 -12 -15 -21 -8 -6 -12 -2 -52 2 -48 0 -24 -2 -20 -5 -52 -19 -14 -11 -42 -43 -16 -12 -20 -6z" fill="#c4e8f8"/>
<path d="M1290 2089l812 0 0 185 -184 -12 -120 -5 -120 -2 -32 -3 -24 -3 -16 -5 -8 -6 -30 -41 -8 -8 -10 -4 -24 -3 -124 -8 -44 -6 -12 -3 -12 -12z" fill="#bfeaf6"/>
<path d="M1308 2089l794 0 0 171 -152 -10 -124 -5 -128 -3 -68 0 -15 -1 -9 -4 -4 -4 -18 -24 -19 -20 -15 -9 -27 -11 -10 -8 -11 -15 -8 -6 -4 -1 -8 1 -28 11 -24 5 -60 5 -12 0 -8 -2 -8 -8 -22 -42z" fill="#bbedf3"/>
<path d="M1326 2089l776 0 0 157 -156 -9 -148 -6 -100 -2 -64 3 -12 -1 -8 -2 -4 -3 -17 -17 -13 -12 -18 -14 -28 -18 -7 -8 -14 -28 -7 -8 -8 -5 -8 -3 -12 0 -13 4 -31 12 -24 8 -32 6 -16 1 -6 -3 -6 -8 -14 -28z" fill="#b9efef"/>
<path d="M1348 2089l754 0 0 143 -160 -9 -144 -5 -96 -2 -64 2 -12 -1 -12 -4 -40 -24 -27 -20 -10 -12 -13 -24 -10 -14 -12 -13 -8 -5 -12 -3 -16 1 -56 13 -24 2 -12 -2 -8 -5z" fill="#b8f1eb"/>
<path d="M1491 2089l611 0 0 129 -284 -13 -112 -3 -68 1 -20 -3 -44 -14 -12 -9 -18 -20 -17 -28 -21 -28 -8 -8z" fill="#baf3e8"/>
<path d="M1503 2089l599 0 0 115 -268 -12 -216 -5 -36 -3 -8 -2 -8 -5 -7 -8 -22 -32 -7 -10 -6 -6 -12 -16 -2 -6z" fill="#bcf5e5"/>
<path d="M1508 2089l594 0 0 101 -268 -11 -160 -5 -40 1 -44 3 -12 -1 -8 -4 -21 -28 -15 -15 -3 -5 -5 -4 -11 -16z" fill="#c0f6e2"/>
<path d="M1512 2089l590 0 0 86 -232 -8 -196 -6 -36 0 -44 5 -12 0 -8 -4 -17 -17 -19 -14 -10 -10 -11 -16z" fill="#c4f8e0"/>
<path d="M1516 2089l586 0 0 72 -168 -7 -260 -6 -32 -1 -44 4 -12 -1 -12 -4 -36 -17 -8 -8 -12 -17 -2 -3z" fill="#c9fad9"/>
<path d="M1519 2089l583 0 0 56 -152 -5 -276 -6 -80 0 -24 -1 -24 -3 -8 -4 -8 -7 -12 -18z" fill="#cefad2"/>
<path d="M1524 2089l578 0 0 41 -152 -5 -292 -6 -48 1 -60 5 -12 -3 -6 -5 -6 -8 -4 -8z" fill="#d2facd"/>
<path d="M1529 2093l1 -4 572 0 0 26 -160 -6 -284 -5 -52 3 -20 3 -28 7 -12 2 -8 -3 -7 -7 -3 -8z" fill="#d8fcc7"/>
<path d="M1541 2089l1 0 93 0 -25 2 -20 3 -40 12 -8 -1 -2 -4zM1738 2089l364 0 0 10 -144 -5z" fill="#defdc3"/>
</g></g>
<g clip-path="url(#csi)"><g filter="url(#bl)">
<rect x="2087" y="2006.7" width="1075.0" height="610.0" fill="#e7b7c1"/>
<path d="M2103 2089l1044 0 0 512 -1044 0z" fill="#e8b7c5"/>
<path d="M2103 2089l1044 0 0 501 -20 5 -24 2 -76 1 -25 3 -899 0z" fill="#eab7cb"/>
<path d="M2103 2089l1044 0 0 477 -20 4 -20 2 -80 -1 -28 2 -18 4 -14 5 -12 7 -17 12 -835 0z" fill="#ebb6d0"/>
<path d="M2103 2089l1044 0 0 446 -16 5 -16 4 -96 8 -40 8 -16 5 -18 8 -20 12 -23 16 -799 0z" fill="#ecb6d6"/>
<path d="M2103 2089l1044 0 0 403 -20 13 -24 10 -96 25 -52 14 -20 7 -24 12 -47 28 -761 0z" fill="#ecb5dc"/>
<path d="M2103 2089l1044 0 0 356 -18 16 -18 14 -20 12 -24 12 -80 34 -20 6 -36 7 -16 6 -52 27 -52 22 -708 0z" fill="#ecb5e1"/>
<path d="M2103 2089l1044 0 0 306 -33 34 -32 28 -45 32 -45 28 -17 8 -12 3 -40 3 -16 3 -32 18 -16 8 -20 6 -32 7 -16 6 -16 9 -16 13 -656 0z" fill="#eeb6e6"/>
<path d="M2103 2089l1044 0 0 255 -61 65 -35 36 -52 48 -20 16 -12 6 -12 1 -40 -8 -12 0 -8 4 -22 21 -18 9 -16 3 -40 2 -16 2 -9 4 -11 8 -43 40 -617 0z" fill="#eeb8eb"/>
<path d="M2103 2089l1044 0 0 208 -48 51 -104 115 -24 23 -8 4 -8 2 -36 -6 -16 1 -8 2 -8 4 -24 19 -16 9 -16 2 -36 2 -20 5 -21 11 -76 60 -575 0z" fill="#edbdf2"/>
<path d="M2103 2089l1044 0 0 164 -66 68 -94 106 -12 12 -13 10 -19 10 -48 13 -40 21 -12 5 -16 3 -36 5 -24 8 -16 8 -40 26 -51 29 -34 24 -523 0z" fill="#ecc1f8"/>
<path d="M2103 2089l1044 0 0 121 -40 39 -39 40 -101 112 -17 16 -16 12 -20 12 -59 32 -20 6 -40 4 -16 4 -16 7 -36 23 -16 9 -64 23 -12 6 -16 12 -38 34 -478 0z" fill="#eac6f9"/>
<path d="M2103 2089l1044 0 0 79 -48 46 -50 51 -119 128 -30 28 -36 28 -14 8 -15 4 -12 -1 -28 -5 -12 0 -8 3 -8 5 -41 34 -11 8 -8 3 -16 4 -40 -2 -8 1 -8 3 -12 7 -12 10 -70 70 -438 0z" fill="#e7cbfb"/>
<path d="M2103 2089l1044 0 0 38 -116 115 -148 158 -20 20 -16 14 -8 4 -8 -1 -32 -17 -9 -3 -8 0 -7 2 -8 6 -13 12 -35 38 -8 8 -8 5 -4 1 -8 0 -44 -12 -8 -1 -8 2 -12 8 -21 19 -95 96 -400 0z" fill="#e4cffc"/>
<path d="M2103 2089l1044 0 0 1 -93 91 -67 68 -96 103 -20 20 -16 13 -12 7 -12 5 -40 3 -20 5 -22 12 -38 28 -16 8 -16 3 -40 4 -12 4 -12 6 -30 19 -30 24 -30 28 -60 60 -362 0z" fill="#e1d4fd"/>
<path d="M2103 2089l4 0 1002 0 -100 100 -130 137 -19 19 -15 12 -11 8 -15 7 -56 20 -72 34 -68 24 -68 34 -20 14 -23 19 -83 84 -326 0z" fill="#dfd7fd"/>
<path d="M2103 2089l4 0 965 0 -87 88 -125 132 -21 20 -16 13 -29 19 -35 17 -20 8 -38 11 -18 6 -84 43 -16 5 -36 11 -20 9 -16 12 -20 17 -99 101 -289 0z" fill="#dcdbfd"/>
<path d="M2103 2089l4 0 928 0 -71 72 -133 140 -29 28 -25 20 -22 14 -16 7 -16 2 -28 -1 -8 1 -12 4 -16 10 -45 35 -13 8 -10 4 -16 3 -40 -1 -12 4 -8 4 -16 12 -16 15 -128 131 -252 0z" fill="#d8dcfd"/>
<path d="M2103 2089l4 0 891 0 -191 199 -48 49 -14 12 -10 5 -4 -1 -6 -4 -26 -26 -8 -4 -4 0 -8 5 -13 13 -62 68 -14 12 -7 1 -9 -1 -39 -26 -8 -2 -7 4 -10 8 -15 15 -88 94 -90 91 -214 0z" fill="#d5ddfd"/>
<path d="M2103 2089l4 0 854 0 -146 154 -28 27 -20 18 -16 10 -12 4 -12 1 -32 -2 -12 2 -12 4 -12 7 -14 11 -42 37 -16 9 -16 3 -28 -2 -16 1 -13 4 -15 8 -23 16 -27 24 -92 96 -79 80 -175 0z" fill="#d2e0fd"/>
<path d="M2103 2089l4 0 817 0 -125 133 -28 26 -20 15 -12 7 -12 5 -44 11 -24 9 -27 14 -37 24 -16 9 -16 6 -40 10 -24 9 -31 14 -29 19 -20 16 -22 21 -158 164 -136 0z" fill="#cfe3fd"/>
<path d="M2103 2089l4 0 780 0 -113 120 -27 24 -22 16 -32 16 -78 28 -56 32 -25 12 -35 13 -52 16 -16 7 -18 12 -20 16 -26 26 -166 174 -98 0z" fill="#c9e5fa"/>
<path d="M2103 2089l4 0 743 0 -71 74 -45 46 -27 24 -23 16 -13 6 -12 5 -12 2 -32 4 -20 6 -20 12 -49 37 -23 12 -20 5 -36 0 -12 1 -16 6 -20 13 -24 20 -32 32 -179 191 -61 0z" fill="#c4e8f8"/>
<path d="M2103 2089l4 0 704 0 -91 92 -45 48 -14 12 -10 2 -8 -1 -9 -5 -19 -17 -4 -2 -8 0 -12 7 -16 14 -66 70 -10 8 -8 3 -8 1 -8 -4 -10 -8 -18 -19 -4 -2 -8 1 -12 7 -32 27 -44 43 -220 235 -24 0z" fill="#bfeaf6"/>
<path d="M2103 2089l4 0 660 0 -56 51 -20 16 -16 10 -12 6 -8 2 -32 1 -12 2 -12 3 -12 7 -17 14 -47 47 -20 15 -8 3 -8 1 -36 -5 -12 1 -20 7 -23 15 -29 24 -36 35 -176 189 -52 53z" fill="#bbedf3"/>
<path d="M2103 2089l4 0 609 0 -29 22 -22 14 -22 10 -40 15 -24 13 -20 15 -44 40 -20 13 -20 8 -40 8 -24 8 -24 11 -24 15 -24 20 -25 24 -151 161 -60 61z" fill="#b9efef"/>
<path d="M2103 2089l4 0 548 0 -60 34 -24 15 -24 18 -46 41 -23 16 -15 7 -16 7 -72 21 -19 9 -18 12 -19 16 -21 20 -131 139 -64 65z" fill="#b8f1eb"/>
<path d="M2103 2089l4 0 486 0 -42 30 -68 62 -16 13 -17 11 -15 8 -16 5 -16 3 -28 2 -16 4 -16 6 -20 14 -16 13 -21 21 -103 109 -80 81z" fill="#baf3e8"/>
<path d="M2103 2089l4 0 434 0 -90 88 -14 12 -14 10 -8 3 -12 1 -8 -3 -24 -12 -12 -2 -8 2 -8 4 -16 11 -40 38 -104 112 -80 81z" fill="#bcf5e5"/>
<path d="M2103 2089l4 0 387 0 -39 33 -12 9 -12 6 -8 2 -8 0 -28 -5 -16 -1 -16 5 -20 12 -13 11 -19 19 -128 140 -72 73z" fill="#c0f6e2"/>
<path d="M2103 2089l4 0 314 0 -54 15 -16 5 -23 12 -23 16 -33 32 -105 114 -64 67z" fill="#c4f8e0"/>
<path d="M2103 2089l4 0 221 0 -33 20 -32 28 -160 168z" fill="#c9fad9"/>
<path d="M2103 2089l4 0 168 0 -16 12 -20 19 -136 138z" fill="#cefad2"/>
<path d="M2103 2089l4 0 123 0 -127 125z" fill="#d2facd"/>
<path d="M2103 2089l4 0 83 0 -87 83z" fill="#d8fcc7"/>
<path d="M2103 2089l4 0 42 0 -46 43z" fill="#defdc3"/>
</g></g>
<g clip-path="url(#csj)"><g filter="url(#bl)">
<rect x="3132.5" y="2006.7" width="1075.0" height="610.0" fill="#e7b7c1"/>
<path d="M3148 2089l1044 0 0 512 -210 0 -270 -20 -60 -1 -120 1 -32 -1 -20 -2 -20 -3 -19 -6 -45 -16 -20 -4 -20 -3 -60 -3 -148 0z" fill="#e8b7c5"/>
<path d="M3148 2089l1044 0 0 512 -108 0 -56 -8 -48 -6 -260 -19 -76 -3 -124 1 -32 -1 -20 -3 -16 -5 -36 -17 -16 -6 -20 -4 -24 -3 -56 -1 -152 1z" fill="#eab7cb"/>
<path d="M3148 2089l1044 0 0 512 -19 0 -110 -16 -75 -9 -228 -19 -64 -4 -80 -3 -108 1 -28 -2 -16 -3 -12 -5 -24 -20 -8 -4 -12 -3 -20 -3 -68 -2 -172 3z" fill="#ebb6d0"/>
<path d="M3148 2089l1044 0 0 501 -168 -21 -176 -19 -244 -15 -96 -1 -28 -2 -13 -3 -6 -4 -11 -20 -5 -4 -13 -5 -16 -2 -60 -2 -208 4z" fill="#ecb6d6"/>
<path d="M3148 2089l1044 0 0 486 -188 -18 -140 -19 -160 -8 -100 -10 -88 -6 -20 -4 -12 -4 -26 -17 -14 -6 -12 -3 -16 -2 -64 -2 -204 5z" fill="#ecb5dc"/>
<path d="M3148 2089l1044 0 0 471 -188 -12 -40 -6 -72 -15 -28 -3 -132 -3 -48 -4 -72 -11 -60 -7 -24 -4 -28 -7 -47 -19 -33 -6 -64 -1 -208 3z" fill="#ecb5e1"/>
<path d="M3148 2089l1044 0 0 457 -144 -4 -40 -3 -36 -6 -76 -19 -28 -4 -28 -1 -100 2 -44 -3 -24 -4 -56 -13 -68 -10 -20 -6 -56 -18 -20 -5 -24 -3 -68 -2 -212 3z" fill="#eeb6e6"/>
<path d="M3148 2089l1044 0 0 442 -140 1 -44 -2 -20 -3 -24 -5 -72 -22 -24 -4 -24 0 -100 4 -44 -2 -25 -5 -59 -19 -48 -7 -16 -3 -16 -5 -28 -12 -16 -5 -40 -7 -36 -2 -48 -1 -220 2z" fill="#eeb8eb"/>
<path d="M3148 2089l1044 0 0 427 -132 5 -44 1 -20 -3 -20 -4 -80 -28 -16 -3 -32 -1 -108 6 -36 -1 -12 -2 -16 -5 -40 -19 -16 -5 -12 -2 -36 -3 -16 -3 -12 -6 -28 -16 -12 -4 -16 -2 -120 -4 -220 1z" fill="#edbdf2"/>
<path d="M3148 2089l1044 0 0 411 -140 10 -40 2 -12 -2 -19 -5 -85 -30 -12 -3 -28 0 -120 5 -32 0 -12 -3 -12 -5 -48 -28 -12 -3 -44 -1 -16 -3 -9 -5 -24 -20 -9 -4 -18 -3 -352 -1z" fill="#ecc1f8"/>
<path d="M3148 2089l1044 0 0 393 -144 15 -24 1 -16 -1 -22 -4 -75 -24 -23 -5 -100 -3 -64 1 -20 -2 -20 -7 -34 -20 -14 -6 -16 -4 -36 -2 -16 -3 -12 -5 -24 -15 -12 -6 -16 -5 -20 -4 -24 -1 -88 2 -224 0z" fill="#eac6f9"/>
<path d="M3148 2089l1044 0 0 375 -140 16 -36 1 -28 -3 -68 -17 -24 -4 -56 -4 -68 -9 -56 -2 -24 -6 -40 -19 -16 -5 -16 -3 -36 -3 -16 -4 -12 -5 -36 -19 -20 -9 -16 -5 -16 -2 -20 -1 -96 4 -204 0z" fill="#e7cbfb"/>
<path d="M3148 2089l1044 0 0 357 -140 15 -32 2 -32 -2 -84 -12 -56 -4 -22 -4 -54 -16 -16 -2 -36 -1 -20 -3 -16 -5 -32 -14 -16 -4 -52 -5 -16 -3 -12 -4 -14 -7 -46 -28 -12 -5 -12 -2 -20 -1 -60 4 -44 1 -200 1z" fill="#e4cffc"/>
<path d="M3148 2089l1044 0 0 339 -140 13 -36 3 -36 0 -120 -5 -16 -3 -16 -5 -44 -23 -12 -4 -16 -2 -32 2 -16 -1 -20 -5 -32 -14 -12 -4 -16 -1 -44 -1 -20 -3 -14 -6 -13 -8 -37 -30 -8 -4 -8 -2 -24 -1 -112 4 -200 1z" fill="#e1d4fd"/>
<path d="M3148 2089l1044 0 0 321 -192 17 -80 3 -60 1 -12 -3 -16 -7 -18 -12 -26 -19 -12 -6 -12 -1 -40 4 -16 0 -16 -3 -28 -17 -12 -4 -16 -1 -56 4 -12 -1 -8 -3 -10 -5 -10 -8 -31 -32 -13 -5 -36 -2 -312 2z" fill="#dfd7fd"/>
<path d="M3148 2089l1044 0 0 306 -272 24 -32 3 -24 -1 -12 -2 -8 -4 -20 -13 -28 -22 -12 -6 -8 -3 -12 0 -44 2 -16 -1 -12 -5 -24 -15 -8 -3 -8 -2 -20 0 -52 5 -16 -2 -8 -4 -8 -6 -33 -31 -7 -4 -8 -2 -52 -5 -52 -2 -248 0z" fill="#dcdbfd"/>
<path d="M3148 2089l1044 0 0 292 -136 12 -144 15 -24 2 -16 0 -12 -2 -12 -5 -46 -30 -18 -8 -16 -3 -40 -1 -16 -2 -12 -4 -32 -16 -16 -5 -20 -1 -44 3 -16 -2 -16 -6 -27 -19 -13 -7 -20 -6 -72 -12 -36 -3 -240 1z" fill="#d8dcfd"/>
<path d="M3148 2089l1044 0 0 278 -132 12 -144 17 -24 1 -16 0 -16 -3 -12 -5 -44 -25 -20 -8 -16 -3 -36 -2 -16 -3 -12 -5 -32 -16 -20 -6 -20 -1 -40 1 -20 -2 -12 -4 -32 -15 -16 -7 -40 -8 -60 -16 -20 -2 -24 -1 -220 2z" fill="#d5ddfd"/>
<path d="M3148 2089l1044 0 0 265 -120 11 -152 18 -24 1 -16 0 -16 -3 -16 -5 -44 -22 -16 -6 -16 -3 -32 -3 -20 -4 -16 -7 -28 -16 -16 -6 -20 -3 -48 1 -24 -3 -48 -15 -44 -10 -48 -19 -20 -6 -36 -2 -224 2z" fill="#d2e0fd"/>
<path d="M3148 2089l1044 0 0 252 -100 9 -172 20 -24 1 -20 -1 -16 -3 -16 -4 -52 -23 -16 -3 -32 -3 -16 -4 -19 -9 -33 -21 -12 -5 -20 -3 -48 1 -24 -1 -80 -15 -23 -8 -41 -24 -16 -4 -32 -3 -124 3 -108 0z" fill="#cfe3fd"/>
<path d="M3148 2089l1044 0 0 239 -76 6 -192 22 -28 1 -24 0 -20 -4 -16 -4 -32 -15 -12 -4 -12 -2 -32 -2 -16 -4 -20 -12 -32 -26 -12 -5 -20 -2 -52 4 -24 0 -64 -7 -16 -3 -12 -4 -10 -6 -34 -28 -8 -4 -12 -3 -28 -1 -120 2 -120 1z" fill="#c9e5fa"/>
<path d="M3148 2089l1044 0 0 225 -56 5 -208 22 -36 2 -32 0 -16 -3 -12 -3 -28 -16 -8 -3 -12 -1 -32 1 -16 -4 -8 -5 -10 -8 -30 -32 -6 -4 -6 -2 -20 0 -60 5 -32 1 -52 -1 -20 -3 -9 -4 -10 -8 -29 -33 -8 -5 -8 -2 -36 -2 -244 3z" fill="#c4e8f8"/>
<path d="M3148 2089l1044 0 0 211 -249 25 -55 3 -28 1 -12 -1 -16 -3 -20 -16 -12 -5 -12 0 -32 3 -8 0 -6 -2 -14 -11 -29 -33 -11 -8 -20 -2 -20 0 -124 9 -28 -1 -8 -4 -4 -3 -29 -39 -7 -6 -8 -3 -20 -3 -64 -3 -208 1z" fill="#bfeaf6"/>
<path d="M3148 2089l1044 0 0 194 -220 23 -76 4 -40 0 -16 -4 -24 -12 -12 -3 -12 -2 -32 2 -12 -3 -12 -7 -33 -28 -11 -6 -8 -2 -48 -5 -28 -2 -24 2 -60 7 -20 -1 -8 -3 -4 -3 -20 -23 -13 -12 -11 -6 -16 -4 -56 -9 -40 -4 -188 2z" fill="#bbedf3"/>
<path d="M3148 2089l1044 0 0 178 -212 22 -48 2 -60 -3 -20 -2 -44 -11 -40 -3 -12 -2 -12 -4 -30 -17 -18 -7 -80 -19 -24 -1 -60 7 -20 -1 -12 -5 -31 -22 -17 -8 -80 -22 -20 -4 -20 -2 -24 -1 -108 3 -52 0z" fill="#b9efef"/>
<path d="M3148 2089l1044 0 0 160 -176 20 -56 3 -32 -1 -104 -13 -64 -5 -16 -4 -38 -12 -42 -9 -44 -21 -12 -3 -12 -2 -12 1 -52 6 -12 0 -12 -3 -45 -17 -43 -12 -52 -23 -24 -6 -36 -2 -100 4 -60 0z" fill="#b8f1eb"/>
<path d="M3148 2089l1044 0 0 142 -176 20 -52 3 -28 -2 -44 -11 -20 -3 -32 -2 -80 0 -72 -9 -16 -4 -12 -6 -11 -8 -25 -21 -12 -5 -20 -1 -52 7 -24 1 -20 -3 -60 -12 -12 -4 -10 -6 -42 -29 -12 -6 -12 -3 -28 -1 -104 6 -68 1z" fill="#baf3e8"/>
<path d="M3148 2089l1044 0 0 125 -44 4 -128 15 -52 4 -20 -2 -12 -2 -9 -4 -23 -13 -8 -3 -12 -1 -32 1 -100 7 -64 0 -13 -3 -11 -8 -11 -12 -17 -24 -4 -5 -8 -4 -8 -1 -16 1 -60 7 -28 2 -32 0 -36 -3 -12 -4 -8 -5 -12 -12 -32 -36 -12 -7 -8 -2 -16 0 -116 10 -80 2z" fill="#bcf5e5"/>
<path d="M3148 2089l4 0 156 0 -80 7 -72 3 -8 0zM3392 2089l800 0 0 107 -48 5 -116 13 -48 4 -20 0 -16 -2 -8 -4 -13 -11 -11 -6 -8 -2 -16 -2 -52 3 -120 15 -28 3 -8 -2 -4 -3 -8 -9 -22 -33 -8 -8 -6 -2 -12 -2 -28 -1 -52 3 -80 6 -20 -1 -5 -3 -7 -8z" fill="#c0f6e2"/>
<path d="M3411 2089l781 0 0 90 -48 5 -108 13 -44 3 -20 0 -16 -2 -48 -18 -20 -3 -20 -1 -48 3 -100 15 -24 1 -8 -2 -8 -6 -21 -22 -9 -8 -10 -6 -8 -3 -32 -4 -36 -3 -36 0 -56 2 -12 -1 -8 -2 -5 -3 -7 -6z" fill="#c4f8e0"/>
<path d="M3432 2089l760 0 0 74 -48 4 -108 13 -40 3 -20 0 -16 -2 -64 -16 -20 -3 -20 -1 -40 2 -84 13 -24 1 -12 -2 -8 -4 -36 -21 -20 -7 -68 -14 -72 -5 -20 -4 -12 -5 -8 -6z" fill="#c9fad9"/>
<path d="M3460 2089l732 0 0 57 -156 17 -44 3 -24 0 -20 -2 -72 -16 -24 -3 -32 1 -84 12 -28 1 -16 -3 -40 -14 -38 -9 -42 -14 -80 -15 -16 -5z" fill="#cefad2"/>
<path d="M3504 2089l688 0 0 41 -160 17 -48 3 -28 0 -28 -3 -20 -4 -36 -11 -20 -3 -32 1 -88 12 -28 0 -20 -2 -60 -10 -13 -5 -19 -10 -16 -7z" fill="#d2facd"/>
<path d="M3560 2089l632 0 0 24 -168 18 -60 4 -28 0 -20 -3 -10 -3 -26 -12 -12 -3 -12 -1 -40 2 -108 12 -64 0 -12 -1 -12 -4 -9 -5 -19 -15z" fill="#d8fcc7"/>
<path d="M3596 2089l596 0 0 8 -164 17 -68 6 -24 0 -16 -2 -8 -3 -28 -14 -12 -3 -16 -1 -52 3 -112 13 -52 5 -10 -1 -8 -4 -18 -19z" fill="#defdc3"/>
</g></g>
<g clip-path="url(#csa)">
<g clip-path="url(#una)"><g filter="url(#bl)">
<rect x="-3.5" y="60" width="2120.5" height="1167.7" fill="#e7b7c1"/>
<path d="M6 206l2104 0 0 1016 -705 0 -175 -15 -200 -13 -72 -3 -120 -1 -48 -3 -24 -4 -24 -7 -72 -35 -40 -15 -40 -9 -48 -5 -128 -5 -304 2 -104 -2z" fill="#e8b7c4"/>
<path d="M6 206l2104 0 0 1016 -602 0 -206 -19 -176 -12 -136 -8 -152 -3 -48 -3 -24 -4 -24 -7 -80 -37 -32 -12 -40 -9 -48 -6 -120 -4 -312 1 -104 -2z" fill="#e9b7c8"/>
<path d="M6 206l2104 0 0 1016 -501 0 -243 -23 -168 -14 -200 -12 -160 -3 -48 -3 -32 -6 -24 -8 -72 -33 -32 -12 -40 -10 -48 -6 -120 -4 -320 1 -96 -2z" fill="#eab7cd"/>
<path d="M6 206l2104 0 0 1016 -390 0 -354 -33 -152 -12 -224 -14 -184 -4 -40 -6 -32 -9 -80 -37 -32 -12 -40 -8 -48 -5 -120 -4 -312 2 -96 -3z" fill="#ebb6d1"/>
<path d="M6 206l2104 0 0 1016 -278 0 -602 -54 -232 -15 -160 -3 -40 -2 -32 -5 -32 -8 -32 -14 -48 -25 -32 -11 -40 -8 -48 -5 -120 -4 -320 2 -88 -3z" fill="#ecb6d6"/>
<path d="M6 206l2104 0 0 1016 -174 0 -690 -64 -248 -15 -160 -3 -48 -3 -32 -5 -32 -9 -24 -11 -48 -27 -24 -9 -40 -9 -48 -5 -120 -4 -328 1 -88 -2z" fill="#ecb5db"/>
<path d="M6 206l2104 0 0 1016 -75 0 -213 -22 -424 -39 -168 -14 -240 -15 -160 -3 -46 -3 -34 -6 -32 -10 -17 -8 -39 -25 -24 -10 -40 -10 -48 -5 -128 -5 -328 2 -88 -3z" fill="#ecb5e0"/>
<path d="M6 206l2104 0 0 1012 -640 -62 -208 -18 -264 -18 -168 -2 -48 -3 -32 -5 -32 -9 -16 -9 -32 -25 -24 -11 -40 -9 -56 -7 -120 -5 -336 2 -88 -1z" fill="#edb6e3"/>
<path d="M6 206l2104 0 0 1000 -528 -52 -384 -33 -199 -14 -57 -2 -120 0 -56 -3 -32 -7 -16 -6 -16 -10 -27 -25 -21 -10 -48 -11 -48 -5 -112 -5 -352 1 -88 -1z" fill="#eeb7e7"/>
<path d="M6 206l2104 0 0 985 -48 -3 -200 -18 -264 -32 -336 -24 -232 -22 -72 -3 -144 1 -48 -3 -24 -5 -16 -6 -10 -6 -38 -31 -24 -11 -40 -10 -48 -6 -112 -5 -360 2 -64 -1 -24 -3z" fill="#eeb9ec"/>
<path d="M6 206l2104 0 0 967 -24 1 -48 -3 -176 -14 -113 -15 -111 -20 -40 -5 -184 -6 -168 -12 -72 -8 -112 -18 -40 -4 -56 -1 -136 4 -53 -2 -27 -5 -16 -7 -48 -33 -32 -16 -32 -10 -48 -7 -48 -3 -72 -1 -376 2 -40 -1 -32 -5z" fill="#edbcf1"/>
<path d="M6 206l2104 0 0 949 -40 1 -88 -3 -63 -4 -65 -6 -104 -17 -48 -11 -64 -17 -32 -5 -32 -1 -80 3 -64 0 -104 -4 -72 -5 -72 -10 -120 -27 -40 -6 -40 0 -136 8 -56 -1 -24 -4 -24 -9 -56 -35 -32 -17 -32 -9 -40 -7 -96 -3 -392 3 -56 -3 -32 -5z" fill="#ecc0f7"/>
<path d="M6 206l2104 0 0 930 -48 2 -96 -1 -64 -3 -48 -5 -48 -8 -56 -12 -48 -13 -64 -21 -32 -6 -31 0 -89 6 -64 2 -112 -2 -56 -4 -72 -13 -43 -12 -77 -25 -32 -6 -40 0 -136 11 -32 1 -32 -3 -24 -5 -24 -10 -64 -41 -24 -12 -32 -9 -32 -5 -80 -3 -216 5 -184 0 -64 -2 -39 -5z" fill="#ebc4f9"/>
<path d="M6 206l2104 0 0 910 -64 3 -80 2 -48 -1 -48 -4 -48 -8 -62 -14 -50 -14 -64 -23 -32 -6 -40 -1 -112 6 -72 2 -96 0 -40 -3 -32 -5 -32 -9 -56 -18 -64 -25 -41 -8 -39 -1 -136 9 -56 -2 -32 -6 -24 -10 -20 -14 -36 -31 -16 -9 -24 -7 -32 -6 -40 -2 -48 0 -256 7 -192 -2 -72 -4z" fill="#e9c8fa"/>
<path d="M6 206l2104 0 0 888 -144 9 -48 0 -40 -3 -41 -6 -47 -10 -72 -18 -64 -21 -40 -7 -168 -3 -152 4 -40 -2 -48 -11 -127 -44 -33 -7 -56 -5 -144 -3 -40 -4 -32 -6 -16 -5 -14 -10 -18 -24 -17 -16 -23 -9 -40 -7 -32 -3 -56 -1 -280 9 -272 -4z" fill="#e7ccfb"/>
<path d="M6 206l2104 0 0 865 -144 11 -72 0 -40 -5 -48 -8 -176 -38 -120 -13 -88 -14 -32 0 -96 11 -48 -2 -40 -8 -136 -37 -168 -25 -56 -11 -48 -16 -50 -30 -22 -10 -32 -10 -32 -4 -96 -4 -272 6 -288 -3z" fill="#e4cffc"/>
<path d="M6 206l2104 0 0 840 -168 13 -48 0 -48 -4 -112 -15 -192 -30 -46 -12 -66 -25 -24 -6 -24 2 -56 13 -32 5 -32 2 -40 -4 -128 -24 -79 -13 -85 -22 -44 -13 -32 -13 -24 -13 -39 -25 -17 -8 -32 -8 -40 -5 -56 -4 -80 -2 -280 4 -280 -3z" fill="#e2d3fd"/>
<path d="M6 206l2104 0 0 815 -184 13 -56 0 -72 -4 -160 -14 -62 -10 -31 -8 -35 -12 -32 -14 -48 -28 -24 -6 -24 2 -88 20 -40 3 -56 -3 -160 -18 -24 -5 -30 -11 -106 -45 -30 -19 -42 -37 -8 -3 -16 -4 -240 -6 -264 1 -272 -2z" fill="#e0d6fd"/>
<path d="M6 206l2104 0 0 789 -224 15 -160 1 -80 -2 -48 -7 -48 -14 -56 -26 -60 -36 -20 -6 -16 -1 -16 1 -88 15 -56 5 -96 -2 -104 -6 -16 -4 -16 -7 -136 -71 -16 -13 -28 -39 -12 -5 -8 -1 -112 2 -223 -4 -465 -3z" fill="#ddd9fd"/>
<path d="M6 206l2104 0 0 765 -408 27 -56 2 -24 -1 -32 -8 -23 -9 -73 -35 -51 -29 -19 -8 -18 -3 -40 1 -120 9 -112 5 -72 1 -32 -4 -8 -3 -104 -67 -16 -8 -16 -4 -8 -4 -12 -11 -28 -40 -16 -7 -128 -2 -288 -6 -400 -3z" fill="#dbdbfd"/>
<path d="M6 206l2104 0 0 743 -248 18 -200 21 -32 0 -24 -4 -27 -10 -136 -64 -21 -7 -16 -3 -72 -5 -56 -1 -192 14 -32 0 -16 -3 -16 -8 -40 -29 -40 -26 -24 -13 -32 -13 -16 -13 -28 -29 -20 -8 -120 -12 -56 -3 -280 -6 -360 -2z" fill="#d8dcfd"/>
<path d="M6 206l2104 0 0 723 -232 18 -96 10 -112 15 -40 1 -16 -2 -24 -8 -160 -63 -24 -6 -96 -16 -32 -3 -24 -1 -144 14 -32 0 -24 -2 -24 -10 -73 -46 -63 -28 -40 -28 -16 -8 -16 -6 -128 -27 -48 -4 -640 -7z" fill="#d5ddfd"/>
<path d="M6 206l2104 0 1 704 -233 18 -96 10 -112 16 -40 1 -32 -6 -171 -55 -149 -39 -32 -1 -80 10 -40 2 -40 0 -24 -4 -24 -9 -72 -38 -72 -28 -56 -27 -57 -18 -71 -26 -24 -5 -32 -3 -128 1 -520 -7z" fill="#d3dffd"/>
<path d="M6 206l2104 0 0 684 -264 22 -176 22 -24 2 -24 -2 -32 -5 -136 -32 -38 -11 -48 -16 -74 -31 -24 -6 -24 0 -64 9 -40 3 -40 -1 -29 -6 -23 -8 -75 -32 -81 -23 -89 -33 -36 -16 -51 -27 -16 -7 -16 -3 -32 -2 -144 2 -504 -7z" fill="#d0e1fd"/>
<path d="M6 206l2104 0 0 664 -256 22 -184 20 -32 2 -32 -2 -144 -20 -31 -7 -23 -7 -37 -16 -31 -16 -46 -27 -16 -7 -24 -1 -88 13 -24 0 -24 -2 -35 -8 -61 -23 -28 -9 -140 -29 -24 -7 -25 -12 -40 -24 -47 -33 -24 -9 -24 -2 -88 3 -64 1 -512 -8z" fill="#cde4fc"/>
<path d="M6 206l2104 0 0 644 -464 41 -56 1 -128 -6 -24 -4 -14 -4 -35 -16 -40 -24 -55 -40 -16 -7 -24 0 -72 12 -40 0 -32 -7 -64 -27 -24 -7 -40 -5 -112 -8 -16 -2 -16 -4 -18 -9 -25 -16 -76 -64 -17 -6 -24 -1 -152 3 -520 -8z" fill="#c8e6f9"/>
<path d="M6 206l2104 0 0 623 -464 39 -136 9 -56 2 -16 -2 -19 -7 -15 -8 -47 -32 -55 -42 -16 -9 -16 -5 -88 9 -24 0 -16 -3 -16 -5 -16 -7 -48 -32 -8 -4 -8 0 -176 8 -16 0 -16 -4 -17 -10 -19 -16 -76 -70 -16 -6 -32 -3 -48 -2 -624 -7z" fill="#c4e8f8"/>
<path d="M6 206l2104 0 0 597 -440 40 -72 8 -128 18 -24 0 -23 -7 -14 -8 -101 -72 -22 -12 -24 -6 -72 -6 -32 -6 -24 -11 -40 -26 -24 -10 -16 -2 -24 0 -155 23 -21 1 -8 -1 -16 -8 -61 -56 -35 -27 -24 -10 -64 -14 -40 -6 -40 -2 -208 -1 -352 -5z" fill="#c0eaf6"/>
<path d="M6 206l2104 0 0 570 -192 17 -248 26 -88 12 -112 23 -24 0 -24 -8 -58 -40 -70 -39 -32 -13 -64 -19 -19 -9 -21 -13 -32 -25 -24 -12 -24 -3 -40 1 -56 9 -96 20 -16 3 -16 -1 -16 -6 -57 -45 -41 -24 -110 -45 -32 -9 -32 -3 -192 3 -304 -3 -64 -3z" fill="#bdecf5"/>
<path d="M6 206l2104 0 0 543 -48 2 -144 14 -240 28 -88 13 -105 24 -31 3 -24 -6 -54 -29 -66 -30 -96 -50 -32 -24 -48 -51 -16 -6 -24 1 -87 13 -121 23 -24 1 -24 -7 -48 -25 -69 -29 -44 -24 -55 -38 -24 -8 -24 -1 -96 4 -96 1 -304 -2 -72 -3z" fill="#baeef2"/>
<path d="M6 206l2104 0 0 514 -64 4 -184 19 -248 33 -136 25 -32 1 -16 -3 -104 -32 -16 -6 -19 -11 -75 -56 -31 -32 -35 -45 -8 -7 -8 -4 -16 1 -56 10 -160 21 -40 2 -24 -3 -88 -19 -24 -9 -17 -11 -21 -16 -58 -58 -8 -5 -16 -4 -208 5 -392 -4z" fill="#b9f0ee"/>
<path d="M6 206l2104 0 0 487 -232 20 -376 49 -72 5 -64 -2 -48 -9 -13 -6 -12 -8 -9 -8 -22 -27 -26 -21 -30 -30 -45 -50 -11 -8 -16 -7 -8 -1 -64 6 -192 11 -120 2 -16 -5 -20 -14 -22 -24 -47 -56 -15 -11 -16 -5 -56 -2 -552 -2z" fill="#b8f1eb"/>
<path d="M6 206l2104 0 0 465 -48 2 -144 11 -312 37 -136 12 -96 12 -40 0 -16 -4 -12 -7 -8 -8 -28 -36 -49 -44 -48 -40 -23 -16 -24 -8 -72 -7 -72 0 -104 6 -104 11 -24 1 -11 -3 -13 -8 -50 -56 -38 -35 -16 -7 -16 -5 -56 -9 -72 -4 -472 -2z" fill="#baf3e8"/>
<path d="M6 206l2104 0 0 445 -72 1 -136 10 -248 26 -168 12 -40 5 -72 12 -32 1 -16 -4 -8 -5 -38 -39 -30 -24 -23 -16 -67 -40 -26 -12 -24 -9 -48 -14 -56 -4 -120 5 -112 13 -24 -2 -16 -8 -48 -41 -48 -36 -48 -22 -40 -13 -32 -4 -40 -2 -472 -2z" fill="#bcf4e5"/>
<path d="M6 206l2104 0 0 425 -64 0 -96 5 -272 23 -72 4 -120 2 -40 4 -64 8 -24 1 -16 -4 -16 -7 -61 -37 -34 -16 -81 -34 -56 -33 -24 -11 -32 -7 -48 -2 -96 4 -104 10 -32 -1 -24 -9 -56 -32 -96 -61 -24 -12 -24 -6 -56 -3 -472 -3z" fill="#bef6e3"/>
<path d="M6 206l2104 0 0 405 -64 -1 -80 3 -312 20 -72 0 -120 -7 -80 5 -24 -1 -32 -6 -72 -21 -80 -18 -16 -6 -10 -5 -11 -8 -35 -34 -16 -13 -16 -8 -16 -5 -32 -3 -56 1 -184 10 -24 -2 -24 -5 -40 -13 -24 -10 -21 -14 -75 -62 -16 -8 -16 -4 -64 -4 -472 -2z" fill="#c1f7e1"/>
<path d="M6 206l2104 0 0 385 -56 -1 -72 1 -248 13 -87 1 -89 -5 -104 -17 -112 3 -168 -8 -16 -4 -12 -8 -12 -16 -32 -54 -8 -8 -16 -7 -24 -2 -48 0 -232 8 -48 -2 -48 -7 -16 -8 -18 -16 -62 -70 -8 -7 -16 -5 -96 -4 -456 -3z" fill="#c5f8df"/>
<path d="M6 206l2104 0 0 366 -112 -2 -256 9 -96 0 -48 -4 -40 -5 -40 -7 -48 -14 -16 -2 -144 7 -80 7 -56 8 -8 -1 -8 -2 -11 -16 -15 -56 -12 -24 -10 -10 -8 -6 -8 -3 -24 0 -384 15 -8 -1 -16 -9 -16 -18 -53 -72 -11 -10 -16 -6 -48 -5 -72 -2 -440 -3z" fill="#c9fad9"/>
<path d="M6 206l2104 0 0 346 -112 -3 -240 5 -88 -1 -80 -6 -48 -8 -72 -15 -48 -3 -64 2 -64 4 -48 5 -64 10 -8 -3 -3 -5 -15 -48 -13 -24 -15 -16 -10 -7 -24 -10 -24 -3 -24 0 -352 19 -16 -4 -16 -13 -49 -62 -23 -22 -24 -13 -32 -9 -40 -4 -56 -2 -432 -2z" fill="#cdfad3"/>
<path d="M6 206l2104 0 0 326 -112 -3 -216 2 -88 -2 -96 -7 -115 -20 -45 -5 -56 -2 -120 3 -32 -2 -16 -3 -16 -10 -40 -42 -24 -19 -32 -14 -32 -6 -48 0 -287 19 -33 -1 -16 -5 -16 -10 -16 -15 -48 -51 -24 -19 -32 -17 -32 -9 -40 -4 -56 -2 -416 0z" fill="#d1facf"/>
<path d="M6 206l2104 0 0 306 -104 -3 -224 -1 -88 -3 -88 -8 -160 -23 -176 -10 -24 -4 -24 -9 -16 -9 -51 -36 -29 -15 -24 -8 -24 -5 -56 0 -272 18 -40 -1 -24 -7 -16 -9 -24 -19 -40 -41 -24 -22 -24 -16 -24 -9 -40 -7 -64 -3 -424 1z" fill="#d4fbca"/>
<path d="M6 206l2104 0 0 287 -112 -5 -224 -3 -80 -4 -88 -8 -152 -22 -152 -14 -32 -6 -32 -10 -104 -53 -24 -9 -24 -5 -56 0 -272 17 -48 -1 -32 -9 -24 -14 -16 -15 -56 -63 -21 -15 -22 -8 -45 -6 -72 -3 -416 0z" fill="#dafcc6"/>
<path d="M6 206l2104 0 0 267 -104 -5 -224 -5 -88 -5 -80 -8 -144 -21 -136 -16 -40 -7 -40 -11 -32 -12 -88 -41 -32 -12 -8 -1 -312 15 -56 1 -40 -3 -21 -8 -11 -9 -54 -71 -18 -19 -16 -8 -32 -7 -56 -5 -72 -2 -400 0z" fill="#defdc3"/>
</g>
<path d="M518.6 1084.1L522 1080.6 525.5 1077.1 529.8 1072.7 534.4 1068.1 540.1 1062.4 546.5 1055.8 553.4 1048.9 560.2 1042 566.6 1035.5 572.3 1029.7 576.9 1025.1 581.2 1020.7 584.7 1017.2 588.2 1013.7 591.4 1010.4 594.6 1007.2 599.4 1002.3 615 986.7 639.8 961.6 670.8 930.4 704.8 896 738.9 861.7 769.9 830.4 794.7 805.4 810.2 789.7 815 784.7 818.2 781.2 821.5 778.3 826.4 774.9 831.7 773 836.4 773.7 841.3 775.8 846 778.3 850.3 781.3 854.3 784.7 858.5 788.3 862.4 791.5 866.5 794.7 870.6 798 874.5 801.1 878.7 804.6 882.8 807.9 887 811.1 891.5 814 896.1 816.7 900.7 819.3 905.2 822 909.7 824.7 914.2 827.4 918.7 830.3 923.2 833.1 927.9 835.7 932.6 837.9 937.4 839.8 942.2 840.6 947.1 839.9 952 838.1 956.6 835.7 960 832.8 963.1 829.2 967.6 824.1 980.9 810.3 1001.5 788.9 1026.9 762.4 1054.8 733.3 1082.7 704.3 1108.1 677.8 1128.7 656.3 1142 642.5 1146.6 637.5 1149.7 634 1153 631 1157 627.8 1161.1 625 1165.3 623.6 1169.4 624.3 1173.6 626.4 1177.6 628.9 1181.5 632.2 1185.1 636.2 1188.9 640.3 1192.4 643.7 1196 647.4 1199.6 651 1203.1 654.5 1207 658.3 1210.7 662.1 1214.4 665.8 1218.3 669.5 1222.3 673.2 1226.1 676.7 1229.3 679.7 1232.3 682.6 1235.5 685.5 1239.3 689.3 1243.2 693.3 1247.2 696.5 1252.3 699.3 1257.4 700.6 1262.6 699.3 1267.6 696.5 1271.1 693.6 1274.5 689.9 1279 685.2 1285.7 678.5 1294.7 669.4 1305.4 658.8 1316.8 647.4 1328.2 635.9 1338.8 625.3 1347.9 616.3 1354.6 609.6 1359.1 605 1362.5 601.6 1365.9 598.2 1515.9 448.2 1601.8 464.6 1451.8 614.6 1448.6 618 1445.3 621.4 1440.7 626.1 1431.7 635.5 1418.8 648.9 1403.2 665 1386.4 682.6 1369.5 700.1 1353.9 716.2 1341 729.7 1332 739 1327.5 743.9 1324.3 747.5 1320.9 750.5 1316.9 753.4 1312.8 755.9 1308.6 757.1 1304.5 756.3 1300.3 754.2 1296.3 751.7 1292 748.6 1287.8 745 1283.9 741.7 1279.9 738.4 1276 735.2 1272 732.1 1267.7 728.6 1263.6 725.1 1259.6 721.6 1255.8 718 1251.8 714.3 1248.1 710.8 1244.1 707.1 1240.2 703.5 1236.4 700 1232.4 696 1228.7 692.3 1224.7 689.1 1220.6 686.8 1216.5 684.9 1212.4 684.2 1207.2 685.4 1202.2 688.3 1198.8 691.1 1195.7 694.7 1191 699.8 1178.3 712.9 1158.7 733.2 1134.5 758.2 1108 785.5 1081.5 812.9 1057.3 837.8 1037.7 858.1 1025 871.2 1020.4 876.3 1017.3 879.8 1013.9 882.7 1009.3 885.5 1004.5 887.7 999.5 888.9 995 888.6 990.4 887.4 985.2 885.6 980.6 883.9 975.3 881.7 969.5 879.1 963.6 876.3 957.9 873.5 952.7 870.8 948.4 868.4 943.6 865.3 939.6 862.4 935.3 859.2 931 856.1 926.3 852.7 921.4 849.3 916.6 845.9 912.3 842.9 907.7 839.4 903.6 836.2 899.2 833.6 894.5 831.5 889.6 830 884.9 829.5 879.6 830.8 874.7 833.6 871.4 836.4 868.2 839.9 863.5 845 849.1 859.8 826.4 883 798.2 911.8 767.2 943.5 736.3 975.2 708.1 1004 685.4 1027.2 671 1042 666.2 1046.8 663 1050.1 659.8 1053.4 656.3 1056.9 652.9 1060.4 648.5 1064.8 644 1069.4 638.3 1075.2 631.8 1081.7 625 1088.6 618.2 1095.5 611.7 1102.1 606 1107.8 601.4 1112.4 597.1 1116.8 593.7 1120.3 590.2 1123.8Z" fill="#eeb7e7"/>
<path d="M27.5 822.9L31.8 824.3 37.4 826.1 44.8 828.4 54.8 831.5 66.8 835.2 80.1 839.4 94.3 843.8 108.6 848.2 122.6 852.6 135.6 856.7 147.9 860.6 160.2 864.4 172.4 868.3 184.7 872.2 197 876.1 209.4 880 221.9 884.1 234.6 888.2 248.4 892.7 262.3 897.3 276.3 902 290.5 906.7 304.7 911.5 318.9 916.3 333.1 921.2 347.2 926 361.5 930.9 376 936 390.7 941.1 405.3 946.2 419.7 951.3 433.7 956.2 447.1 961 459.7 965.6 469 969 477.9 972.3 486.4 975.4 494.7 978.5 502.8 981.5 510.9 984.7 519 987.9 527.3 991.3 535.8 994.9 544.2 998.7 552.7 1002.5 561.1 1006.4 569.6 1010.4 578 1014.3 586.4 1018.4 594.8 1022.4 603.3 1026.4 611.8 1030.4 620.2 1034.4 628.7 1038.5 637.2 1042.7 645.6 1046.9 654 1051.2 662.4 1055.7 670.9 1060.4 679.4 1065.2 687.9 1070.2 696.3 1075.2 704.7 1080.3 713.2 1085.5 721.5 1090.8 729.9 1096.2 738.5 1101.8 747.2 1107.6 755.8 1113.5 764.5 1119.5 773 1125.5 781.4 1131.6 789.6 1137.6 797.4 1143.5 804.4 1148.9 811.5 1154.7 818.5 1160.5 825.3 1166.3 831.8 1171.8 837.8 1177 843.2 1181.5 847.9 1185.4 852.7 1189.2 856.6 1192.2 860.5 1195.3 860.5 1227.7 -3.5 1227.7 -3.5 822.9Z" fill="#eeb7e7"/>
</g>
<g clip-path="url(#ova)"><g filter="url(#bl)">
<rect x="-3.5" y="60" width="2120.5" height="1167.7" fill="#e7b7c1"/>
<path d="M6 206l2104 0 0 456 -464 5 -352 13 -336 16 -88 1 -72 -8 -24 -10 -11 -9 -21 -24 -16 -23 -23 -41 -16 -16 -17 -8 -32 -2 -112 5 -520 3z" fill="#e8b7c3"/>
<path d="M6 206l2104 0 0 438 -472 6 -312 12 -432 19 -96 2 -16 -4 -16 -11 -17 -22 -36 -56 -23 -24 -20 -11 -16 -3 -80 -6 -80 -2 -488 3z" fill="#e9b7c7"/>
<path d="M6 206l2104 0 0 422 -360 3 -191 5 -585 26 -80 5 -96 8 -16 -3 -13 -10 -44 -64 -14 -16 -18 -16 -15 -9 -16 -7 -72 -17 -24 -4 -32 -1 -528 4z" fill="#eab7cb"/>
<path d="M6 206l2104 0 0 405 -392 4 -256 8 -504 25 -72 5 -88 12 -14 -3 -10 -7 -34 -49 -24 -24 -21 -16 -25 -16 -72 -29 -24 -7 -32 -3 -112 3 -424 3z" fill="#ebb6cf"/>
<path d="M6 206l2104 0 0 389 -400 4 -296 10 -448 23 -63 5 -89 13 -16 1 -8 -2 -7 -5 -34 -38 -17 -16 -23 -16 -39 -26 -40 -22 -32 -20 -24 -10 -24 -1 -120 5 -424 3z" fill="#ecb6d3"/>
<path d="M6 206l2104 0 0 372 -400 5 -288 10 -448 24 -72 6 -80 11 -16 0 -16 -5 -49 -39 -39 -22 -49 -34 -22 -16 -33 -30 -8 -5 -16 -4 -136 7 -432 2z" fill="#ecb6d7"/>
<path d="M6 206l2104 0 0 356 -384 5 -272 8 -448 24 -87 7 -89 10 -24 -1 -16 -5 -36 -20 -60 -28 -52 -44 -44 -50 -16 -6 -88 7 -48 2 -440 3z" fill="#ecb5db"/>
<path d="M6 206l2104 0 0 339 -376 5 -264 9 -168 7 -296 18 -168 14 -32 -1 -16 -3 -80 -26 -16 -7 -21 -19 -23 -24 -18 -24 -18 -29 -8 -10 -8 -4 -8 -2 -136 8 -448 3z" fill="#ecb5df"/>
<path d="M6 206l2104 0 0 323 -351 4 -233 7 -240 11 -448 29 -32 0 -32 -3 -64 -11 -17 -8 -17 -16 -19 -24 -43 -69 -16 -9 -24 -1 -112 4 -456 2z" fill="#edb6e3"/>
<path d="M6 206l2104 0 0 306 -352 4 -256 7 -184 9 -488 31 -56 2 -56 0 -24 -7 -15 -16 -11 -16 -42 -72 -12 -13 -16 -7 -32 -4 -64 -1 -496 1z" fill="#eeb6e6"/>
<path d="M6 206l2104 0 0 287 -400 6 -304 10 -528 34 -64 6 -80 11 -24 0 -9 -2 -7 -4 -11 -12 -38 -72 -12 -16 -16 -16 -19 -9 -31 -7 -49 -7 -40 -3 -472 2z" fill="#eeb7e9"/>
<path d="M6 206l2104 0 0 268 -440 7 -176 5 -152 8 -464 31 -56 7 -88 21 -24 3 -8 -2 -15 -12 -28 -64 -12 -16 -26 -24 -23 -13 -80 -26 -24 -4 -24 -1 -200 3 -192 0 -72 -1z" fill="#eebaee"/>
<path d="M6 206l2104 0 0 248 -368 5 -240 7 -168 8 -392 26 -64 6 -48 7 -40 11 -64 24 -16 3 -8 -2 -8 -7 -8 -16 -13 -40 -10 -16 -16 -16 -22 -16 -27 -16 -72 -38 -16 -6 -32 -4 -160 5 -240 1 -72 -2z" fill="#edbef3"/>
<path d="M6 206l2104 0 0 228 -360 4 -240 7 -160 8 -424 28 -64 6 -48 10 -40 15 -48 25 -16 3 -9 -6 -7 -15 -9 -33 -9 -16 -8 -8 -10 -8 -44 -25 -34 -23 -54 -42 -16 -7 -24 -2 -88 5 -80 2 -240 0 -72 -2z" fill="#ecc1f8"/>
<path d="M6 206l2104 0 0 207 -352 4 -232 7 -152 7 -456 30 -64 6 -40 7 -40 15 -40 21 -8 3 -8 1 -8 -9 -12 -27 -13 -16 -15 -10 -32 -13 -29 -17 -37 -32 -38 -43 -8 -6 -8 -4 -24 -1 -80 6 -72 2 -264 -1 -72 -2z" fill="#eac4f9"/>
<path d="M6 206l2104 0 0 187 -376 3 -288 10 -576 36 -56 6 -64 14 -16 2 -16 -5 -32 -14 -48 -10 -24 -12 -17 -17 -20 -24 -35 -49 -7 -7 -9 -4 -16 -2 -88 4 -72 2 -344 -3z" fill="#e9c7fa"/>
<path d="M6 206l2104 0 0 166 -328 2 -240 6 -128 6 -368 24 -408 20 -19 -8 -8 -8 -13 -16 -42 -64 -14 -15 -16 -8 -64 -4 -456 -4z" fill="#e7cbfb"/>
<path d="M6 206l2104 0 0 144 -368 3 -264 9 -384 24 -320 16 -48 5 -88 16 -16 -6 -9 -11 -29 -48 -25 -32 -17 -13 -16 -8 -64 -13 -64 -5 -392 -5z" fill="#e5cefb"/>
<path d="M6 206l2104 0 0 122 -392 4 -288 11 -328 21 -320 17 -56 7 -72 19 -16 3 -8 -2 -8 -7 -24 -43 -13 -16 -17 -16 -34 -23 -56 -21 -48 -13 -56 -5 -368 -3z" fill="#e3d1fc"/>
<path d="M6 206l2104 0 0 100 -408 5 -272 11 -640 37 -56 7 -72 19 -16 2 -8 -3 -8 -6 -22 -28 -27 -24 -47 -28 -56 -31 -40 -17 -31 -6 -49 -3 -352 -1z" fill="#e1d5fd"/>
<path d="M6 206l2104 0 0 78 -400 5 -232 9 -672 38 -64 7 -80 14 -16 -2 -8 -3 -38 -26 -50 -24 -36 -24 -52 -41 -16 -8 -16 -4 -32 -5 -48 -2 -344 0z" fill="#dfd7fd"/>
<path d="M458 206l1652 0 0 56 -392 6 -152 5 -752 41 -152 14 -24 -4 -72 -20 -21 -10 -19 -16 -15 -16 -33 -43 -8 -7z" fill="#dddafd"/>
<path d="M504 206l1606 0 0 34 -472 9 -960 50 -56 1 -56 -3 -8 -2 -15 -9 -13 -16 -15 -24 -6 -16z" fill="#dbdcfd"/>
<path d="M526 206l1584 0 0 14 -384 6 -122 4 -670 34 -256 11 -112 11 -16 -7 -10 -17 -9 -24z" fill="#d8dcfd"/>
<path d="M549 206l1 0 1170 0 -178 7 -624 30 -240 8 -96 9 -8 -1 -8 -5 -5 -8z" fill="#d6ddfd"/>
<path d="M583 206l7 0 667 0 -371 17 -224 3 -32 -1 -22 -3 -17 -8z" fill="#d3defd"/>
</g></g></g>
<g clip-path="url(#csb)">
<g clip-path="url(#unb)">
<rect x="2127" y="100" width="2040.5" height="1087.7" fill="#ec7a10"/>
<path d="M2076.9 1001.4L2081.8 1001.5 2086.1 1001.5 2091.4 1001.6 2098.9 1001.6 2136.4 1001.9 2198.4 1002.5 2276.8 1003.1 2363.5 1003.9 2450.1 1004.6 2528.5 1005.3 2590.6 1005.8 2628 1006.2 2635.5 1006.2 2640.6 1006.2 2645 1006.2 2650 1006.3 2655.6 1006.3 2661.6 1006.1 2667.6 1006.1 2673.4 1006.5 2678.7 1007.6 2683.5 1009.7 2687.8 1012.4 2692.1 1015.7 2697.3 1019.3 2702.8 1022.7 2709.2 1026.7 2716.3 1031.2 2723.7 1035.8 2731.1 1040.4 2738.1 1044.9 2744.6 1048.9 2750.1 1052.4 2755.3 1056 2759.8 1059.3 2764 1062 2768.7 1064.1 2773.4 1065 2778 1065.2 2783.4 1065 2790.7 1065.1 2810.6 1065.9 2839.9 1067.3 2875.4 1068.9 2914 1070.6 2952.7 1072.4 2988.2 1074 3017.5 1075.3 3037.4 1076.2 3044.4 1076.4 3049.4 1076.6 3053.9 1076.8 3059.3 1077.2 3064.6 1077.6 3070.4 1078.3 3076.6 1079 3082.8 1079.8 3088.9 1080.5 3094.7 1081.2 3100 1081.8 3105.3 1082.4 3109.7 1082.8 3114.7 1083.2 3121.9 1083.9 3151.9 1086.8 3199.8 1091.5 3259.5 1097.3 3325.1 1103.6 3390.8 1110 3450.5 1115.8 3498.3 1120.4 3528.4 1123.4 3535.7 1124.1 3541 1124.6 3545.4 1125 3550.2 1125.5 3555.2 1126 3559.8 1126.4 3565.1 1126.9 3572.1 1127.6 3589.3 1129.3 3613.8 1131.7 3643.3 1134.5 3675.2 1137.6 3707.1 1140.7 3736.5 1143.6 3761.1 1146 3778.2 1147.7 3785.3 1148.4 3790.6 1148.9 3795.2 1149.4 3800.1 1149.8 3805 1150.1 3809.5 1150.4 3814.8 1150.6 3822.1 1151 3846.9 1152.3 3884.9 1154.4 3931.8 1156.9 3983.2 1159.7 4034.5 1162.5 4081.4 1165 4119.4 1167.1 4144.2 1168.4 4151.6 1168.8 4157.1 1169.1 4161.6 1169.3 4166.2 1169.6 4171.2 1169.9 4175.9 1170.2 4180.6 1170.5 4180.6 50 2076.9 50Z" fill="#f29a10"/>
<path d="M2118 809.4L2122.7 809.4 2127.9 809.4 2132.2 809.4 2136.7 809.5 2142.3 809.5 2149.9 809.6 2178.2 809.8 2222.8 810.1 2278.2 810.5 2339.1 811 2399.9 811.4 2455.4 811.9 2499.9 812.2 2528.2 812.4 2535.6 812.4 2540.9 812.5 2545.4 812.5 2550.2 812.6 2555.5 812.7 2560.6 812.8 2566 813 2572.2 813.1 2578.2 813.3 2585 813.5 2592.4 813.7 2600.1 813.9 2607.8 814.1 2615.3 814.3 2622.1 814.5 2628 814.6 2634.2 814.8 2639.6 814.9 2644.7 815 2650 815.2 2655 815.3 2659.7 815.5 2665 815.7 2672 815.9 2686.9 816.4 2707.5 817.1 2732 818 2758.5 818.9 2784.9 819.8 2809.4 820.6 2830.1 821.3 2845 821.8 2852.1 821.7 2857.7 821.3 2862.4 821.3 2866.9 822.6 2871.2 825.4 2874.8 829.3 2878.3 833.8 2882.2 838.4 2886.1 842.4 2890.2 846.7 2894.6 851.2 2898.9 855.7 2903.1 860 2906.9 864 2910.9 868.6 2914.4 873.1 2918 877 2922.2 879.9 2927.1 881.1 2932.3 881.3 2938 880.9 2944.2 880.9 2949.1 881.1 2954.5 881.4 2960.3 881.6 2966.2 881.9 2972.2 882.2 2977.9 882.5 2983.4 882.7 2988.2 882.9 2994.2 883.1 2999.5 883.2 3004.7 883.4 3010.2 884 3015.8 884.9 3021.8 886 3027.7 887.4 3033.5 889 3038.9 890.9 3044 893.3 3048.6 896 3053.2 898.9 3058 901.8 3062.5 904.3 3067.2 907 3071.9 909.6 3076.6 912.3 3081.1 914.9 3086 917.7 3090.8 920.4 3095.5 923.1 3100.3 925.7 3105.2 928.1 3110.1 930.4 3115.1 932.7 3120.2 935 3125.5 937.5 3131 940 3136.4 942.6 3141.7 945.1 3146.6 947.4 3151.2 949.8 3156.1 952.2 3161.7 954.4 3166.1 955.9 3171 957.4 3176.2 958.8 3181.6 960.3 3187.1 961.6 3192.5 962.8 3197.7 963.8 3202.6 964.6 3208.7 965.3 3214.6 965.7 3220.3 965.8 3225.8 965.8 3231.3 965.8 3236.4 965.8 3240.9 965.7 3246 965.4 3253.2 965.2 3276.3 964.6 3311.3 963.6 3354.3 962.4 3401.1 961.1 3448 959.8 3490.9 958.6 3525.9 957.7 3549 957 3556.3 956.7 3561.6 956.4 3566.2 956.2 3571 956.4 3576.2 957 3581.3 957.9 3586.4 959.1 3591.5 960.5 3596.3 962.3 3601 964.4 3605.9 966.7 3611.6 969.3 3617.3 971.8 3623.8 974.7 3630.9 977.8 3638.4 981.1 3645.8 984.3 3653 987.5 3659.5 990.4 3665.2 992.8 3670.9 995.4 3675.8 997.6 3680.5 999.6 3685.3 1001.7 3690.2 1003.6 3695 1005.4 3700.1 1007.3 3705.9 1009.4 3711.2 1011.4 3717.2 1013.6 3723.6 1016 3730.3 1018.6 3737.1 1021.1 3743.5 1023.5 3749.5 1025.7 3754.8 1027.7 3760.3 1029.9 3765.1 1032 3769.8 1033.8 3775.4 1035.4 3780.2 1036.5 3785.7 1037.6 3791.6 1038.5 3797.7 1039.3 3803.9 1040.1 3809.8 1040.6 3815.4 1041.1 3820.4 1041.3 3825.8 1041.3 3830.3 1040.9 3835.3 1040.4 3842.3 1039.8 3865.8 1038.2 3901.5 1035.7 3945.4 1032.7 3993.3 1029.4 4041.2 1026 4085 1023 4120.7 1020.6 4144.2 1018.9 4151.6 1018.4 4157.1 1018 4161.6 1017.7 4166.2 1017.4 4171.2 1017.1 4175.9 1016.8 4180.6 1016.5 4180.6 50 2118 50Z" fill="#f1ad14"/>
<path d="M2118.5 619L2122.9 619 2127.8 619 2132 619 2136.5 619.1 2142.1 619.1 2149.8 619.2 2178.9 619.5 2225 620 2282.3 620.6 2345.4 621.3 2408.4 622 2465.8 622.6 2511.9 623.1 2541 623.4 2548.4 623.5 2553.7 623.5 2558.1 623.5 2563 623.6 2568 623.7 2572.6 623.8 2577.9 623.9 2585 624.1 2600.9 624.4 2623.2 624.8 2649.9 625.3 2678.7 625.9 2707.5 626.5 2734.2 627 2756.5 627.5 2772.4 627.8 2779.5 627.8 2784.9 627.8 2789.6 627.8 2794.4 628.2 2799.4 628.9 2804.3 629.8 2809 631.1 2813.7 633 2818 635.6 2822.2 638.7 2826.4 642.3 2830.4 645.9 2834.2 649.4 2838.4 653.3 2842.4 657.4 2846.2 661.3 2849.8 665 2853.1 668.3 2856.2 671.4 2859.6 674.8 2863 678.3 2866.7 682 2870.7 686 2875.1 690.3 2879 694 2883.4 698.1 2888.1 702.6 2893.1 707.1 2898.1 711.6 2903 715.9 2907.7 719.8 2912 723.1 2917.4 727 2922.5 730.5 2927.5 733.3 2932.4 735.4 2937.8 736.5 2943.2 736.6 2948.8 736.6 2953.6 736.5 2958.3 736.3 2963.8 735.9 2970.8 735.5 2984.8 734.7 3004 733.7 3026.7 732.5 3051.1 731.3 3075.6 730 3098.3 728.8 3117.5 727.8 3131.5 727.1 3138.6 726.4 3144.1 725.5 3148.8 725.1 3153.5 726 3157.9 728.4 3161.9 732.1 3165.8 736.3 3170 740.5 3173.8 743.8 3177.9 747.4 3182.1 751.1 3186.3 754.8 3190.4 758.4 3194.3 761.8 3198.5 766 3202.4 770.2 3206.3 773.8 3210.8 776.3 3215.5 777.2 3220.4 776.9 3226 776 3232.8 775.4 3242.9 775 3255.8 774.5 3270.7 773.9 3286.5 773.2 3302.3 772.6 3317.2 772 3330.1 771.5 3340.3 771.1 3347 770.7 3352.5 770.3 3357.4 770 3362.2 770.2 3367.8 770.6 3373.1 771.5 3378.6 773.4 3383.2 775.9 3388 779.2 3393.1 783.1 3398.1 787.2 3402.9 791.2 3407.3 794.7 3411.8 798.3 3415.9 801.6 3420 804.9 3424.4 808.5 3428.7 811.8 3433.2 815.5 3438 819.3 3442.7 823.1 3447.3 826.7 3451.5 830.1 3455.9 833.7 3459.8 837 3463.9 840.3 3468.7 843.8 3473 846.8 3477.9 850.1 3483.2 853.5 3488.7 857 3494.3 860.3 3499.8 863.4 3504.9 866.2 3509.6 868.4 3515.1 870.7 3520.2 872.4 3525 873.6 3530.1 874.5 3535.1 875 3540.2 875 3545.4 874.8 3550.5 874.5 3555.3 874.3 3559.6 873.9 3564.9 873.5 3572.5 872.9 3612.4 869.8 3679.4 864.7 3764.4 858.2 3858.4 851 3952.4 843.8 4037.4 837.3 4104.3 832.2 4144.3 829.1 4151.9 828.5 4157.3 828.1 4161.7 827.7 4166.2 827.4 4171.2 827.1 4175.9 826.8 4180.6 826.5 4180.6 50 2118.5 50Z" fill="#f0c41c"/>
<path d="M2117.2 428.7L2122.7 428.6 2128.7 428.7 2133 428.7 2137.6 428.7 2143.1 428.8 2150.7 428.8 2177.6 429 2219.8 429.3 2272 429.7 2329.2 430.1 2386.5 430.5 2438.7 430.9 2480.8 431.2 2507.8 431.4 2515.2 431.4 2520.5 431.4 2524.9 431.5 2529.8 431.5 2534.9 431.6 2539.8 431.7 2545.1 431.8 2551.8 431.9 2561.7 432.1 2574.4 432.4 2588.9 432.7 2604.3 433 2619.7 433.2 2634.2 433.5 2646.9 433.8 2656.8 434 2663.6 434 2669.3 434 2674.2 434.1 2678.8 434.4 2684.8 435 2690.3 436.4 2694.1 438 2697.8 440.3 2701.7 443.6 2704.9 446.9 2708.2 451.2 2711.8 456.2 2715.4 461.6 2719.2 467.3 2722.9 473 2726.7 478.5 2730.4 483.7 2733.9 488.4 2737.5 493.2 2741.1 498 2744.8 502.8 2748.4 507.4 2752 511.9 2755.5 516.1 2759 520.1 2763.5 524.7 2767.9 529.1 2772.3 533.1 2776.5 536.9 2780.6 540.3 2785.3 544.4 2789.8 548 2794.4 550.5 2798.9 551.4 2803.4 551.5 2808.3 551.4 2813 551.3 2817.6 551.1 2823.1 550.8 2830.3 550.5 2847.6 549.8 2872.2 548.7 2901.8 547.5 2933.8 546.2 2965.9 544.8 2995.5 543.6 3020.1 542.6 3037.4 541.8 3044.4 541.6 3049.7 541.4 3054.3 541.2 3059.3 540.9 3064.2 540.5 3069.1 539.9 3074.1 539.4 3079.1 539 3083.9 538.9 3089.1 539.2 3093.9 539.9 3099.2 540.8 3105.7 541.8 3114.9 543 3126.4 544.5 3139.6 546.3 3153.5 548.1 3167.4 549.9 3180.5 551.7 3192.1 553.2 3201.3 554.4 3207.9 554.9 3213.5 554.9 3218.3 555.4 3223.1 557.3 3226.4 560.1 3229.3 563.9 3232 568.3 3234.7 573.3 3237.4 578.4 3240.3 583.4 3243.5 588 3247.2 592.4 3251.2 597 3255.4 601.6 3259.7 606.2 3264 610.6 3268.3 614.9 3272.4 619 3276.3 622.8 3280.6 627.1 3284.8 631.2 3288.9 634.9 3292.8 638.3 3296.7 641.2 3301.6 644.3 3306.3 646.6 3311.1 648.2 3315.7 648.7 3320.4 648.5 3325.4 648.2 3330.4 647.9 3335.7 647.5 3341.3 647.1 3347.3 646.6 3352.3 646.3 3357.7 645.9 3363.4 645.5 3369.2 645.1 3374.9 644.7 3380.3 644.3 3385.3 644 3391.3 643.2 3397 642.2 3402.3 641.7 3407.3 642.4 3411.8 644.7 3415.9 648.2 3420 652.2 3424.4 656.2 3428.7 659.6 3433.2 663.2 3438 667 3442.7 670.8 3447.3 674.4 3451.5 677.8 3455.9 681.8 3460 685.9 3464.1 689.3 3468.7 691.6 3473.4 692.2 3478.2 691.7 3483.7 690.7 3490.6 689.8 3502.9 688.8 3519.4 687.4 3538.7 685.9 3559.3 684.2 3580 682.5 3599.2 681 3615.7 679.6 3628.1 678.6 3634.9 678.1 3640.2 677.6 3645 677.2 3650 676.8 3655.1 676.4 3659.9 676 3665.3 675.6 3671.9 675.1 3682.2 674.2 3695.5 673.1 3710.7 671.9 3726.9 670.6 3743 669.3 3758.3 668 3771.5 667 3781.8 666.1 3788.4 665.6 3793.8 665.2 3798.6 664.8 3803.7 664.4 3808.6 664 3813.1 663.6 3818.3 663.2 3825.6 662.6 3851 660.7 3890.1 657.6 3938.4 653.9 3991.2 649.8 4044.1 645.7 4092.3 641.9 4131.4 638.9 4156.8 636.9 4164.1 636.3 4169.4 635.9 4173.8 635.6 4178.7 635.2 4178.7 50 2117.2 50Z" fill="#f5d76e"/>
<path d="M2609.1 1084.1L2612.5 1080.6 2616 1077.1 2620.3 1072.7 2624.9 1068.1 2630.6 1062.4 2637 1055.8 2643.9 1048.9 2650.7 1042 2657.1 1035.5 2662.8 1029.7 2667.4 1025.1 2671.7 1020.7 2675.2 1017.2 2678.7 1013.7 2681.9 1010.4 2685.1 1007.2 2689.9 1002.3 2705.5 986.7 2730.3 961.6 2761.3 930.4 2795.3 896 2829.4 861.7 2860.4 830.4 2885.2 805.4 2900.7 789.7 2905.5 784.7 2908.7 781.2 2912 778.3 2916.9 774.9 2922.2 773 2926.9 773.7 2931.8 775.8 2936.5 778.3 2940.8 781.3 2944.8 784.7 2949 788.3 2952.9 791.5 2957 794.7 2961.1 798 2965 801.1 2969.2 804.6 2973.3 807.9 2977.5 811.1 2982 814 2986.6 816.7 2991.2 819.3 2995.7 822 3000.2 824.7 3004.7 827.4 3009.2 830.3 3013.7 833.1 3018.4 835.7 3023.1 837.9 3027.9 839.8 3032.7 840.6 3037.6 839.9 3042.5 838.1 3047.1 835.7 3050.5 832.8 3053.6 829.2 3058.1 824.1 3071.4 810.3 3092 788.9 3117.4 762.4 3145.3 733.3 3173.2 704.3 3198.6 677.8 3219.2 656.3 3232.5 642.5 3237.1 637.5 3240.2 634 3243.5 631 3247.5 627.8 3251.6 625 3255.8 623.6 3259.9 624.3 3264.1 626.4 3268.1 628.9 3272 632.2 3275.6 636.2 3279.4 640.3 3282.9 643.7 3286.5 647.4 3290.1 651 3293.6 654.5 3297.5 658.3 3301.2 662.1 3304.9 665.8 3308.8 669.5 3312.8 673.2 3316.6 676.7 3319.8 679.7 3322.8 682.6 3326 685.5 3329.8 689.3 3333.7 693.3 3337.7 696.5 3342.8 699.3 3347.9 700.6 3353.1 699.3 3358.1 696.5 3361.6 693.6 3365 689.9 3369.5 685.2 3376.2 678.5 3385.2 669.4 3395.9 658.8 3407.3 647.4 3418.7 635.9 3429.3 625.3 3438.4 616.3 3445.1 609.6 3449.6 605 3453 601.6 3456.4 598.2 3606.4 448.2 3692.3 464.6 3542.3 614.6 3539.1 618 3535.8 621.4 3531.2 626.1 3522.2 635.5 3509.3 648.9 3493.7 665 3476.9 682.6 3460 700.1 3444.4 716.2 3431.5 729.7 3422.5 739 3418 743.9 3414.8 747.5 3411.4 750.5 3407.4 753.4 3403.3 755.9 3399.1 757.1 3395 756.3 3390.8 754.2 3386.8 751.7 3382.5 748.6 3378.3 745 3374.4 741.7 3370.4 738.4 3366.5 735.2 3362.5 732.1 3358.2 728.6 3354.1 725.1 3350.1 721.6 3346.3 718 3342.3 714.3 3338.6 710.8 3334.6 707.1 3330.7 703.5 3326.9 700 3322.9 696 3319.2 692.3 3315.2 689.1 3311.1 686.8 3307 684.9 3302.9 684.2 3297.7 685.4 3292.7 688.3 3289.3 691.1 3286.2 694.7 3281.5 699.8 3268.8 712.9 3249.2 733.2 3225 758.2 3198.5 785.5 3172 812.9 3147.8 837.8 3128.2 858.1 3115.5 871.2 3110.9 876.3 3107.8 879.8 3104.4 882.7 3099.8 885.5 3095 887.7 3090 888.9 3085.5 888.6 3080.9 887.4 3075.7 885.6 3071.1 883.9 3065.8 881.7 3060 879.1 3054.1 876.3 3048.4 873.5 3043.2 870.8 3038.9 868.4 3034.1 865.3 3030.1 862.4 3025.8 859.2 3021.5 856.1 3016.8 852.7 3011.9 849.3 3007.1 845.9 3002.8 842.9 2998.2 839.4 2994.1 836.2 2989.7 833.6 2985 831.5 2980.1 830 2975.4 829.5 2970.1 830.8 2965.2 833.6 2961.9 836.4 2958.7 839.9 2954 845 2939.6 859.8 2916.9 883 2888.7 911.8 2857.7 943.5 2826.8 975.2 2798.6 1004 2775.9 1027.2 2761.5 1042 2756.7 1046.8 2753.5 1050.1 2750.3 1053.4 2746.8 1056.9 2743.4 1060.4 2739 1064.8 2734.5 1069.4 2728.8 1075.2 2722.3 1081.7 2715.5 1088.6 2708.7 1095.5 2702.2 1102.1 2696.5 1107.8 2691.9 1112.4 2687.6 1116.8 2684.2 1120.3 2680.7 1123.8Z" fill="#e2580e"/>
<path d="M2118 822.9L2122.3 824.3 2127.9 826.1 2135.3 828.4 2145.3 831.5 2157.3 835.2 2170.6 839.4 2184.8 843.8 2199.1 848.2 2213.1 852.6 2226.1 856.7 2238.4 860.6 2250.7 864.4 2262.9 868.3 2275.2 872.2 2287.5 876.1 2299.9 880 2312.4 884.1 2325.1 888.2 2338.9 892.7 2352.8 897.3 2366.8 902 2381 906.7 2395.2 911.5 2409.4 916.3 2423.6 921.2 2437.7 926 2452 930.9 2466.5 936 2481.2 941.1 2495.8 946.2 2510.2 951.3 2524.2 956.2 2537.6 961 2550.2 965.6 2559.5 969 2568.4 972.3 2576.9 975.4 2585.2 978.5 2593.3 981.5 2601.4 984.7 2609.5 987.9 2617.8 991.3 2626.3 994.9 2634.7 998.7 2643.2 1002.5 2651.6 1006.4 2660.1 1010.4 2668.5 1014.3 2676.9 1018.4 2685.3 1022.4 2693.8 1026.4 2702.3 1030.4 2710.7 1034.4 2719.2 1038.5 2727.7 1042.7 2736.1 1046.9 2744.5 1051.2 2752.9 1055.7 2761.4 1060.4 2769.9 1065.2 2778.4 1070.2 2786.8 1075.2 2795.2 1080.3 2803.7 1085.5 2812 1090.8 2820.4 1096.2 2829 1101.8 2837.7 1107.6 2846.3 1113.5 2855 1119.5 2863.5 1125.5 2871.9 1131.6 2880.1 1137.6 2887.9 1143.5 2894.9 1148.9 2902 1154.7 2909 1160.5 2915.8 1166.3 2922.3 1171.8 2928.3 1177 2933.7 1181.5 2938.4 1185.4 2943.2 1189.2 2947.1 1192.2 2951 1195.3 2951 1227.7 2087 1227.7 2087 822.9Z" fill="#a5320a"/>
</g>
<g clip-path="url(#ovb)">
<rect x="2127" y="100" width="2040.5" height="1087.7" fill="#8cd8e1"/>
<path d="M2067 1247.7L4062.7 1247.7 4063 713.9 4068.2 713.7 4073.2 713.6 4078.6 713.4 4085 713.2 4091.8 713 4100 712.8 4109.1 712.5 4118.5 712.3 4128 712 4137 711.7 4145.2 711.5 4152.1 711.3 4158.4 711.1 4163.8 710.9 4168.9 710.8 4174.1 710.6 4174.1 50 2067 50Z" fill="#5dc5d3"/>
<path d="M2067 1247.7L3636.7 1247.7 3637 626.9 3642.1 626.7 3646.9 626.5 3652.3 626.3 3659 626.1 3670 625.7 3684.3 625.2 3700.9 624.7 3718.5 624.1 3736.2 623.5 3752.7 622.9 3767 622.4 3778 622 3784.7 621.8 3790.1 621.6 3794.9 621.4 3800 621.3 3804.9 621.2 3809.4 621.1 3814.7 621.1 3822 620.9 3847.3 620.5 3886.3 619.9 3934.4 619.1 3987 618.3 4039.7 617.4 4087.8 616.7 4126.8 616 4152.1 615.6 4159.4 615.5 4164.7 615.4 4169.2 615.4 4174.1 615.3 4174.1 50 2067 50Z" fill="#2fb1c0"/>
<path d="M2067 1247.7L3222.4 1247.7 3222.7 561.1 3227.6 560.8 3232.2 560.6 3237.5 560.3 3244.7 559.9 3264.8 558.8 3294.4 557.2 3330.5 555.2 3369.7 553 3408.9 550.8 3444.9 548.9 3474.6 547.2 3494.7 546.1 3501.9 545.7 3507.2 545.4 3511.7 545.2 3516.7 544.9 3521.6 544.7 3526.2 544.4 3531.5 544.2 3538.6 543.8 3558.1 542.8 3586.5 541.4 3620.9 539.6 3658.3 537.7 3695.8 535.8 3730.2 534.1 3758.6 532.7 3778 531.7 3785.2 531.3 3790.5 531 3795.1 530.8 3800 530.6 3804.9 530.4 3809.4 530.3 3814.7 530.2 3822 530 3847.3 529.4 3886.3 528.4 3934.4 527.2 3987 525.9 4039.7 524.6 4087.8 523.4 4126.8 522.5 4152.1 521.8 4159.4 521.7 4164.7 521.5 4169.2 521.4 4174.1 521.3 4174.1 50 2067 50Z" fill="#2494a8"/>
<path d="M2067 1247.7L2745.5 1247.7 2745.8 480.1 2751.1 481.3 2756.4 482.5 2762 483.3 2766.6 483.4 2771.1 483.2 2776.5 482.7 2784 482.2 2813.3 480.6 2859.7 478.2 2917.5 475.1 2981 471.8 3044.5 468.4 3102.4 465.3 3148.8 462.9 3178 461.3 3186.5 460.9 3193.5 460.5 3198.2 460.3 3200 460.2 3197.8 460.3 3192.4 460.7 3185.3 461.1 3178 461.5 3172.1 461.9 3165.2 462.3 3157.8 462.7 3150 463.2 3142.2 463.7 3134.8 464.1 3127.9 464.5 3122 464.9 3114.7 465.3 3107.6 465.7 3102.2 466.1 3100 466.2 3101.8 466.1 3106.6 465.9 3113.6 465.6 3122 465.2 3147 464 3185.6 462.2 3233.1 460 3285.2 457.6 3337.2 455.2 3384.8 453 3423.3 451.2 3448.4 450.1 3455.7 449.8 3461 449.5 3465.5 449.3 3470.4 449.1 3475.3 448.8 3479.8 448.6 3485.1 448.4 3492.3 448 3514.8 447 3548.6 445.3 3590 443.4 3635.2 441.2 3680.4 439 3721.8 437.1 3755.6 435.5 3778 434.4 3785.3 434 3790.6 433.7 3795.1 433.5 3800 433.3 3804.9 433.2 3809.4 433.1 3814.7 433 3822 432.9 3847.3 432.5 3886.3 431.7 3934.4 430.8 3987 429.9 4039.7 428.9 4087.8 428 4126.8 427.3 4152.1 426.8 4159.4 426.7 4164.7 426.6 4169.2 426.5 4174.1 426.4 4174.1 50 2067 50Z" fill="#1b738d"/>
<path d="M2100 267.9L2105.1 267.9 2109.8 267.9 2115.2 267.9 2122 267.9 2134.5 267.9 2151.2 267.9 2170.7 267.9 2191.7 267.9 2212.6 267.9 2232.2 267.9 2248.9 267.9 2261.4 267.9 2268.2 267.9 2273.6 267.9 2278.3 267.9 2283.4 267.9 2288.3 267.9 2292.9 267.9 2298.2 267.9 2305.4 267.9 2326.9 267.9 2359 268 2398.2 268 2441 268.1 2483.7 268.1 2522.9 268.1 2555.1 268.2 2576.6 268.2 2584 268.1 2589.6 267.9 2594.3 267.8 2598.6 268.2 2603.9 269.1 2608.6 271.1 2612 273.7 2615.1 277.2 2618.6 281.7 2621.4 285.2 2624.4 289.4 2627.5 294.1 2630.9 299.1 2634.3 304.3 2637.7 309.7 2641.1 315.1 2644.4 320.3 2648 326.3 2651.7 332.8 2655.4 339.5 2659.1 346.2 2662.7 352.8 2666.3 358.9 2669.8 364.4 2673.1 369.1 2676.9 373.6 2680.5 377.4 2684 380.6 2687.4 383.4 2691.6 386.5 2696 388.5 2701.3 389.2 2707.4 389.1 2712.2 389.1 2717.5 388.9 2723.2 388.7 2729.4 388.4 2734.7 388.3 2740.7 388.1 2747.1 387.9 2753.7 387.7 2760.4 387.5 2766.8 387.3 2772.7 387.1 2778 386.9 2784.1 386.7 2789.5 386.6 2794.7 386.4 2800 386.2 2804.9 386 2809.3 385.8 2814.6 385.5 2822 385.2 2848.9 383.9 2890.9 381.8 2942.9 379.2 3000 376.5 3057.1 373.7 3109.1 371.1 3151.1 369.1 3178 367.7 3186.4 367.3 3193.4 367 3198.2 366.8 3200 366.7 3197.8 366.8 3192.4 367 3185.3 367.3 3178 367.7 3172.1 368 3165.2 368.3 3157.8 368.6 3150 369 3142.2 369.3 3134.8 369.7 3127.9 370 3122 370.3 3114.7 370.6 3107.6 370.9 3102.2 371.2 3100 371.3 3101.8 371.2 3106.6 371 3113.6 370.6 3122 370.3 3147 369.1 3185.6 367.2 3233.1 365 3285.2 362.5 3337.2 360 3384.8 357.8 3423.3 355.9 3448.4 354.7 3455.7 354.4 3461 354.1 3465.5 353.9 3470.4 353.7 3475.3 353.5 3479.8 353.3 3485.1 353 3492.3 352.7 3514.8 351.6 3548.6 350 3590 348 3635.2 345.8 3680.4 343.7 3721.8 341.7 3755.6 340.1 3778 339 3785.3 338.7 3790.6 338.4 3795.1 338.2 3800 338 3804.9 337.8 3809.4 337.7 3814.7 337.7 3822 337.6 3847.3 337.1 3886.3 336.4 3934.4 335.5 3987 334.5 4039.7 333.5 4087.8 332.6 4126.8 331.9 4152.1 331.4 4159.4 331.3 4164.7 331.2 4169.2 331.1 4174.1 331 4174.1 50 2100 50Z" fill="#0e5b75"/>
<path d="M2607.2 228.7L2606.9 232.9 2606.6 237.1 2607.2 241.5 2609.1 246.4 2612 251.5 2615.4 256.7 2618.6 261.6 2621.4 266.1 2624.2 270.5 2627.1 274.8 2630.1 278.8 2633.8 283.5 2637.7 287.8 2641.5 291.1 2645.7 293.3 2650.1 294.6 2655.5 295.1 2661.6 295.1 2666.2 295.1 2671.2 294.9 2676.9 294.7 2683.6 294.5 2692.7 294.2 2704.1 293.9 2717.1 293.5 2730.8 293.1 2744.5 292.7 2757.5 292.3 2768.9 292 2778 291.8 2784.6 291.6 2790 291.4 2794.9 291.3 2800 291.1 2804.9 290.9 2809.3 290.7 2814.6 290.4 2822 290 2848.9 288.6 2890.9 286.4 2942.9 283.7 3000 280.7 3057.1 277.8 3109.1 275.1 3151.1 272.9 3178 271.5 3186.4 271.1 3193.4 270.7 3198.2 270.5 3200 270.4 3197.8 270.5 3192.4 270.7 3185.3 271 3178 271.4 3172.1 271.7 3165.2 272 3157.8 272.3 3150 272.7 3142.2 273 3134.8 273.4 3127.9 273.7 3122 274 3114.7 274.3 3107.6 274.7 3102.2 274.9 3100 275 3101.7 274.9 3106.4 274.7 3113.3 274.3 3122 273.9 3165.2 271.8 3238.5 268.1 3332.1 263.5 3435.6 258.3 3539.2 253.2 3632.8 248.5 3706.1 244.9 3749.3 242.8 3756.9 242.4 3762.2 242.1 3766.5 241.9 3771.3 241.7 3776.2 241.4 3780.6 241.2 3785.9 240.9 3793.3 240.6 3820.4 239.2 3862.7 237.1 3915.1 234.6 3972.7 231.7 4030.2 228.9 4082.7 226.3 4125 224.2 4152.1 222.8 4159.5 222.5 4164.7 222.2 4169.2 222 4174.1 221.8 4174.1 50 2607.2 50Z" fill="#054863"/>
</g></g>
<g clip-path="url(#csc)">
<rect x="36.5" y="1380" width="995.0" height="530.0" fill="#5ffcd6"/>
<path d="M271.6 1859.9L274.1 1857.3 277.1 1854.3 280.1 1851.2 284.1 1847.2 288.5 1842.7 292.9 1838.3 296.9 1834.2 300 1831.1 303 1828.1 305.5 1825.5 307.8 1823.2 311 1820 318.6 1812.4 330.7 1800.2 345.8 1784.9 362.4 1768.2 379 1751.4 394.1 1736.2 406.2 1724 413.8 1716.3 416.9 1712.9 419.3 1710.8 421.7 1709.1 424.3 1708.2 427.7 1709 431.2 1710.8 434.3 1713 437.3 1715.7 441.2 1718.8 445.1 1721.9 448.2 1724.4 451.2 1726.7 454.5 1728.8 457.9 1730.8 461.2 1732.7 464.5 1734.7 467.8 1736.8 471.2 1738.7 474.6 1740.3 478.2 1741.1 481.8 1740.4 485.1 1738.7 487.6 1736.5 490.5 1733.1 497 1726.4 507 1715.9 519.4 1703 533 1688.8 546.6 1674.7 559.1 1661.7 569.1 1651.3 575.5 1644.6 578.6 1641.2 580.9 1638.9 583.9 1636.6 586.9 1635.3 590 1636.1 592.9 1637.9 595.7 1640.5 598.4 1643.4 601.9 1646.9 605.4 1650.4 608.2 1653.2 610.9 1655.9 613.8 1658.6 616.6 1661.2 618.9 1663.4 621.2 1665.5 624 1668.4 626.9 1670.9 629.3 1672.2 631.8 1672.9 634.4 1672.3 636.8 1670.9 639.3 1668.6 642.4 1665.3 645.6 1662.1 650 1657.7 655.2 1652.5 660.8 1646.9 666.4 1641.3 671.5 1636.2 676 1631.7 679.2 1628.5 682.3 1625.4 684.7 1623 757.9 1549.8 799.8 1557.8 726.7 1630.9 724.3 1633.4 721.2 1636.6 716.9 1641.1 710.5 1647.7 703 1655.5 694.7 1664.1 686.5 1672.6 678.9 1680.5 672.6 1687 668.2 1691.6 665.2 1694.9 662.8 1697.2 659.9 1699.3 656.8 1700.4 653.8 1699.6 650.8 1697.8 647.7 1695.4 644.8 1692.9 642.8 1691.3 640.9 1689.8 637.9 1687.4 634.8 1684.8 632 1682.2 629.1 1679.5 625.4 1676 621.6 1672.6 618.7 1669.7 615.9 1667.3 612.9 1665.6 609.9 1664.9 607.3 1665.5 604.9 1666.9 602.5 1669 599.5 1672.5 593.3 1678.9 583.7 1688.8 571.9 1700.9 559 1714.3 546.1 1727.6 534.3 1739.8 524.7 1749.7 518.5 1756.1 515.5 1759.4 513.1 1761.7 509.7 1763.6 506.1 1764.7 502.8 1764.3 499.1 1763.1 495 1761.4 490 1759.2 485.2 1756.9 481.1 1754.7 477.8 1752.5 474.8 1750.2 471.2 1747.6 467.2 1744.8 463.6 1742.2 460.3 1739.7 457.2 1737.7 453.7 1736.3 450.2 1735.7 447.6 1736.4 445.2 1737.7 442.9 1739.9 439.8 1743.3 432.7 1750.5 421.7 1761.8 407.9 1775.9 392.8 1791.3 377.7 1806.8 364 1820.8 352.9 1832.1 345.9 1839.3 342.7 1842.5 340.4 1844.9 337.9 1847.4 334.9 1850.5 331.8 1853.6 327.9 1857.6 323.5 1862.1 319.1 1866.5 315.1 1870.6 312 1873.7 309 1876.7 306.5 1879.2Z" fill="#34185c"/>
<path d="M32.1 1732.5L34.2 1733.2 36.9 1734 40.6 1735.2 45.4 1736.7 51.3 1738.5 57.8 1740.5 64.7 1742.7 71.7 1744.9 78.5 1747 84.8 1749 90.8 1750.9 96.8 1752.8 102.8 1754.6 108.8 1756.5 114.8 1758.4 120.8 1760.4 126.9 1762.3 133.1 1764.3 139.8 1766.5 146.6 1768.8 153.5 1771.1 160.4 1773.4 167.3 1775.7 174.2 1778.1 181.1 1780.4 188 1782.8 195 1785.2 202.1 1787.6 209.2 1790.1 216.3 1792.6 223.3 1795.1 230.2 1797.5 236.7 1799.9 242.9 1802.1 248.9 1804.3 254.5 1806.4 259.9 1808.4 265.2 1810.4 270.5 1812.4 275.8 1814.6 280.6 1816.7 285.3 1818.7 290 1820.9 294.7 1823.1 299.4 1825.3 304.1 1827.5 308.8 1829.8 313.5 1832 318.2 1834.3 322.9 1836.5 327.6 1838.8 332.3 1841.1 337 1843.5 341.7 1846 346.4 1848.7 351.2 1851.4 355.9 1854.1 360.6 1857 365.3 1859.8 370 1862.8 374.6 1865.8 379.4 1868.9 384.2 1872.2 389.1 1875.5 393.9 1878.8 398.6 1882.2 403.1 1885.5 407.6 1888.8 412.1 1892.4 416.7 1896.2 421.1 1899.9 425.3 1903.5 429 1906.7 432.1 1909.3 435.5 1911.9 438.3 1914.1 438.3 1950 -3.5 1950 -3.5 1732.5Z" fill="#000000"/>
<g clip-path="url(#ovc)"><rect x="36.5" y="1380" width="995.0" height="530.0" fill="#3b6ce0"/></g>
</g>
<g clip-path="url(#csd)" fill="none" stroke-width="5.2" stroke-linecap="butt" stroke-linejoin="round">
<path d="M1081.3 1841.3L1091.9 1909.8" stroke="#b01030"/>
<path d="M1102.6 1649.7L1185.6 1909.8" stroke="#c1099d"/>
<path d="M1140.9 1522L1149.3 1546.2 1157.7 1570.5 1166.1 1594.7 1174.4 1618.9 1182.9 1643.2 1191.4 1667.4 1200.1 1691.6 1209 1715.7 1218.2 1740 1227.6 1764.3 1237.1 1788.6 1246.8 1812.9 1256.5 1837.1 1266.3 1861.3 1276 1885.6 1285.6 1909.8" stroke="#b050f0"/>
<path d="M1204.7 1451.8L1219.6 1490.1" stroke="#6d93f8"/>
<path d="M1264.3 1594.4L1273.8 1614.9 1283.2 1635.6 1292.4 1656.3 1301.8 1677 1311.2 1697.6 1320.8 1718 1330.7 1738.3 1341 1758.3 1351.5 1777.7 1362.3 1796.9 1373.5 1815.9 1384.8 1834.7 1396.2 1853.4 1407.7 1872.2 1419.1 1891 1430.4 1909.8" stroke="#6d93f8"/>
<path d="M1314.6 1451.8L1318.6 1459.1 1322.6 1466.3 1326.5 1473.4 1330.5 1480.5 1334.5 1487.8 1338.7 1495.3 1342.9 1503.1 1347.3 1511.4 1353.3 1522.9 1359.2 1535.1 1365.3 1548 1371.6 1561.1 1378.2 1574.5 1385.2 1587.8 1392.6 1600.9 1400.6 1613.5 1409.9 1627 1420 1640.5 1430.8 1654.1 1441.9 1667.5 1453.2 1680.5 1464.4 1693 1475.3 1704.8 1485.7 1715.7 1493.3 1723.5 1500.6 1730.7 1507.7 1737.5 1514.8 1743.9 1522 1750.2 1529.4 1756.4 1537.1 1762.6 1545.3 1768.9 1555.3 1776.4 1565.7 1784 1576.6 1791.6 1587.7 1799.1 1599.1 1806.4 1610.8 1813.4 1622.7 1820.1 1634.7 1826.4 1647.7 1832.6 1661 1838.4 1674.7 1844 1688.7 1849.2 1702.7 1854.1 1716.8 1858.7 1730.7 1862.9 1744.5 1866.8 1757.5 1870.2 1770.4 1873.1 1783.4 1875.8 1796.3 1878.1 1809.2 1880.2 1822.1 1882.2 1834.8 1884.1 1847.6 1886 1859.9 1887.7 1872.5 1889.3 1885.1 1890.8 1897.6 1892.1 1909.9 1893.4 1921.7 1894.5 1932.9 1895.6 1943.3 1896.6 1950.2 1897.3 1956.7 1897.9 1962.9 1898.4 1968.8 1898.9 1974.7 1899.4 1980.4 1899.9 1986.3 1900.4 1992.3 1900.9" stroke="#1dc3d7"/>
<path d="M1483.6 1451.8L1489 1457.1 1494.3 1462.3 1499.6 1467.5 1504.8 1472.7 1510.2 1478 1515.9 1483.3 1521.9 1488.8 1528.3 1494.3 1537.4 1502.1 1547.3 1510.2 1557.7 1518.7 1568.6 1527.2 1579.7 1535.6 1591 1543.7 1602.3 1551.3 1613.4 1558.2 1623.7 1564.1 1633.8 1569.6 1644 1574.7 1654.4 1579.5 1664.9 1584.1 1675.7 1588.4 1686.9 1592.5 1698.6 1596.5 1713.3 1601 1729 1605.2 1745.4 1609.1 1762.1 1612.6 1778.9 1615.9 1795.4 1618.9 1811.3 1621.7 1826.3 1624.2 1837.7 1626 1848.6 1627.5 1859.3 1628.9 1869.7 1630.1 1880 1631.2 1890.3 1632.1 1900.7 1633.1 1911.4 1634 1922.7 1634.9 1934.1 1635.6 1945.5 1636.3 1957 1636.9 1968.5 1637.4 1980 1637.9 1991.5 1638.5 2002.9 1639.1" stroke="#38e898"/>
</g>
<g clip-path="url(#cpd)">
<text transform="translate(1096.2,1605.0) rotate(73)" text-anchor="middle" dy="16.0" font-size="45" fill="#c1099d">−0.24</text>
<text transform="translate(1126.0,1460.3) rotate(72)" text-anchor="middle" dy="16.0" font-size="45" fill="#b050f0">−0.16</text>
<text transform="translate(1243.0,1542.0) rotate(68)" text-anchor="middle" dy="16.0" font-size="45" fill="#6d93f8">−0.08</text>
<text transform="translate(2051.5,1903.5) rotate(3)" text-anchor="middle" dy="16.0" font-size="45" fill="#1dc3d7">0.00</text>
<text transform="translate(2063.4,1643.3) rotate(2)" text-anchor="middle" dy="16.0" font-size="45" fill="#38e898">0.08</text>
</g>
<g clip-path="url(#cse)" fill="none" stroke-width="5.2" stroke-linecap="butt" stroke-linejoin="round">
<path d="M2127.1 1888.1L2131.3 1889.1 2135.5 1890 2140.8 1891.2 2147.3 1892.6 2155.7 1894.5 2165.4 1896.7 2175.7 1899 2186 1901.3 2195.6 1903.5 2204 1905.3 2210.5 1906.8 2215.9 1908 2220 1908.9 2224.2 1909.8" stroke="#b01030"/>
<path d="M2199.5 1794.5L2203.5 1795.5 2207.4 1796.5 2213.1 1798 2226.9 1801.5 2247.8 1806.9 2273.3 1813.5 2301.2 1820.7 2329.1 1827.8 2354.7 1834.4 2375.6 1839.8 2389.4 1843.3 2395.1 1844.8 2399 1845.8 2403 1846.8 2406.9 1847.9 2410.8 1848.9 2416.5 1850.4 2432.8 1854.6 2457.9 1861.2 2489.1 1869.4 2523.3 1878.3 2557.4 1887.3 2588.6 1895.4 2613.8 1902 2630 1906.3 2635.7 1907.8 2639.6 1908.8 2643.5 1909.8" stroke="#c1099c"/>
<path d="M2199.5 1683.8L2203.5 1684.8 2207.4 1685.8 2213.1 1687.3 2226.9 1690.8 2247.8 1696.1 2273.4 1702.6 2301.2 1709.8 2329.1 1716.9 2354.7 1723.4 2375.6 1728.7 2389.4 1732.3 2395.1 1733.7 2399 1734.7 2403 1735.7 2407 1736.7 2411 1737.7 2416.6 1739.2 2428.2 1742.1 2445.2 1746.4 2465.8 1751.6 2488.1 1757.2 2510.5 1762.9 2531 1768.1 2548 1772.3 2559.7 1775.3 2565.1 1776.6 2568.9 1777.5 2573.3 1778.7 2577.7 1780 2582.9 1781.4 2588.3 1783 2593.8 1784.7 2598.8 1786.4 2603.1 1788.1 2607.4 1790.3 2611.1 1792.6 2615.1 1795.2 2619.3 1797.7 2624 1800.5 2628.9 1803.4 2633.6 1806.2 2637.9 1808.6 2642.1 1811.3 2645.9 1813.6 2649.9 1815.8 2654.1 1817.5 2658.3 1818.9 2663.1 1820.5 2667.7 1822.1 2672.8 1824 2678.1 1825.9 2683.2 1827.7 2687.8 1829.3 2692.5 1831.1 2696.7 1832.7 2701 1834.1 2705.5 1835 2710.1 1835.7 2714.8 1836.4 2719.8 1837.3 2724.8 1838.1 2729.8 1839 2734.4 1839.7 2739 1840.5 2743.6 1841.3 2747.5 1842 2751.5 1842.7 2757.3 1843.7 2775.8 1847 2805.2 1852.2 2841.7 1858.7 2881.9 1865.8 2922.1 1872.9 2958.7 1879.4 2988 1884.5 3006.5 1887.8 3012.2 1888.8 3016.1 1889.4 3020.3 1890.3 3025.4 1891.5 3031 1893 3036.6 1894.7 3041.6 1896.6 3046.1 1899.4 3050.1 1902.5 3054.3 1905.2 3059.1 1907 3064.2 1908.4 3069.2 1909.8" stroke="#b24cef"/>
<path d="M2127.1 1556.1L2131 1557 2134.9 1557.9 2140.7 1559.3 2162.3 1564.4 2197.5 1572.8 2241.7 1583.4 2290.6 1595 2339.5 1606.7 2383.8 1617.2 2418.9 1625.6 2440.5 1630.7 2446.4 1631.9 2450.3 1632.7 2454.1 1634 2458.4 1636.4 2462.5 1639.6 2466.8 1643.3 2470.2 1646.6 2473.6 1650.3 2477.2 1654.4 2480.9 1658.6 2484.5 1662.8 2488.1 1666.8 2491.6 1670.6 2495.2 1674.5 2498.7 1678.4 2502.3 1682.1 2505.8 1685.4 2509.4 1688 2513.7 1690.4 2518 1692.1 2522.3 1693.3 2526.4 1694.4 2531 1695.4 2535.5 1696 2540.3 1696.6 2545.4 1697.4 2550.9 1698.3 2556.5 1699.1 2561.6 1699.9 2566.4 1700.7 2570.9 1701.4 2575.4 1702.1" stroke="#8489f8"/>
<path d="M2703.1 1722.1L2707 1722.8 2710.9 1723.6 2716.9 1724.7 2743.9 1729.8 2789.8 1738.4 2848.2 1749.3 2913 1761.5 2977.8 1773.6 3036.2 1784.6 3082.1 1793.2 3109.1 1798.3 3115.1 1799.4 3119 1800.1 3122.9 1800.9" stroke="#8489f8"/>
<path d="M2127.1 1445.8L2131.4 1446.8 2135.7 1447.8 2140.8 1449 2145.4 1450.1 2151 1451.4 2157 1452.8 2163.2 1454.2 2169.3 1455.6 2174.8 1456.9 2179.5 1458 2184.5 1459.1 2188.8 1460.1 2193.1 1461.1 2197.1 1462.1 2201.1 1463 2206.7 1464.4 2219.3 1467.4 2238 1471.8 2260.6 1477.2 2285.3 1483.1 2309.9 1488.9 2332.6 1494.3 2351.2 1498.7 2363.8 1501.7 2369.5 1502.9 2373.6 1503.7 2377.4 1505 2381.9 1507.2 2386.2 1510 2390.2 1513.5 2393.6 1517.6 2396.7 1522.3 2399.7 1527.5 2403 1532.7 2405.7 1536.9 2408.4 1541.5 2411.3 1546.2 2414.2 1550.7 2417.1 1554.8 2420 1558.2 2424.2 1561.8 2428.4 1564.6 2432.8 1566.7 2436.9 1567.9 2441.2 1568.5 2446.6 1569.3 2452.6 1570.4 2460.4 1571.8 2469.2 1573.5 2478.6 1575.2 2487.9 1577 2496.8 1578.6 2504.5 1580.1 2510.6 1581.2 2515.9 1582.2 2520.1 1583 2524.3 1583.7 2528.6 1584.5 2532.8 1585.2 2538.1 1586 2543.7 1586.9 2550.7 1588.1 2558.5 1589.4 2566.9 1590.8 2575.2 1592.1 2583.1 1593.4 2590.1 1594.6 2595.6 1595.5 2601 1596.4 2605.2 1597.1 2609.5 1597.8" stroke="#30b8e2"/>
<path d="M2664.8 1605.9L2668.8 1606.5 2672.9 1607.2 2678.6 1608.1 2691.7 1610.2 2711.2 1613.4 2734.8 1617.2 2760.6 1621.4 2786.4 1625.6 2810 1629.4 2829.5 1632.6 2842.6 1634.7 2848.3 1635.6 2852.3 1636.3 2856.4 1637 2860.3 1637.7 2864.3 1638.5 2870.1 1639.7 2887.9 1643.4 2916.1 1649.1 2951.1 1656.2 2989.6 1664 3028.1 1671.8 3063.1 1678.9 3091.3 1684.6 3109.2 1688.2 3115 1689.4 3118.9 1690.2 3122.9 1691" stroke="#30b8e2"/>
<path d="M2403 1451.8L2407 1452.5 2411.1 1453.2 2416.8 1454.2 2428.7 1456.3 2446.2 1459.4 2467.3 1463.1 2490.3 1467.1 2513.2 1471.1 2534.3 1474.8 2551.8 1477.9 2563.7 1480 2569.4 1481 2573.5 1481.7 2577.5 1482.4" stroke="#24dea5"/>
<path d="M2681.8 1497.8L2685.8 1498.6 2689.7 1499.4 2695.5 1500.6 2713.9 1504.3 2743 1510.3 2779.3 1517.7 2819.1 1525.8 2859 1534 2895.2 1541.4 2924.4 1547.4 2942.7 1551.1 2948.5 1552.4 2952.5 1553.2 2956.4 1553.9 2960.5 1554.6 2964.6 1555.3 2970.2 1556.2 2981.7 1558 2998.2 1560.7 3018.1 1563.9 3039.6 1567.4 3061.2 1570.8 3081.1 1574 3097.6 1576.7 3109 1578.5 3114.7 1579.5 3118.8 1580.1 3122.9 1580.8" stroke="#24dea5"/>
<path d="M3020.3 1448.4L3025 1449 3029.6 1449.7 3034.1 1450.4 3039.4 1451.1 3044.7 1451.9 3049.2 1452.5 3053.9 1453.2 3058.6 1453.9" stroke="#78f24a"/>
</g>
<g clip-path="url(#cpe)">
<text transform="translate(2632.9,1485.0) rotate(10)" text-anchor="middle" dy="16.0" font-size="45" fill="#24dea5">150</text>
<text transform="translate(2637.1,1597.4) rotate(9)" text-anchor="middle" dy="16.0" font-size="45" fill="#30b8e2">0</text>
<text transform="translate(2640.5,1708.1) rotate(10)" text-anchor="middle" dy="16.0" font-size="45" fill="#8489f8">−150</text>
<text transform="translate(2136.9,1671.4) rotate(14)" text-anchor="middle" dy="16.0" font-size="45" fill="#b24cef">−300</text>
<text transform="translate(2136.9,1782.1) rotate(14)" text-anchor="middle" dy="16.0" font-size="45" fill="#c1099c">−450</text>
<text transform="translate(3102.9,1467.1) rotate(12)" text-anchor="middle" dy="16.0" font-size="45" fill="#78f24a">300</text>
</g>
<g clip-path="url(#csf)" fill="none" stroke-width="5.2" stroke-linecap="butt" stroke-linejoin="round">
<path d="M3172.6 1878.3L3176.7 1878.4 3180.8 1878.4 3186.6 1878.4 3199.7 1878.5 3219 1878.7 3242.4 1878.8 3268 1879 3293.5 1879.1 3317 1879.3 3336.3 1879.4 3349.3 1879.5 3355.1 1879.6 3359.2 1879.6 3363.3 1879.6 3367.5 1879.7 3371.6 1879.8 3377.3 1880 3389 1880.3 3405.9 1880.7 3426.3 1881.2 3448.5 1881.7 3470.6 1882.3 3491 1882.8 3507.9 1883.2 3519.6 1883.5 3525.4 1883.7 3529.5 1883.7 3533.6 1883.9 3537.9 1884.1 3542.1 1884.3 3547.6 1884.6 3554.3 1885 3563 1885.5 3573 1886.1 3583.7 1886.6 3594.3 1887.2 3604.3 1887.8 3613 1888.3 3619.7 1888.6 3625.2 1888.9 3629.4 1889.2 3633.7 1889.4" stroke="#b01030"/>
<path d="M3765.6 1896.6L3769.8 1896.9 3773.9 1897.1 3779.6 1897.4 3790 1897.9 3804.7 1898.6 3822.2 1899.5 3841.2 1900.5 3860.2 1901.4 3877.7 1902.3 3892.4 1903.1 3902.8 1903.6 3908.5 1903.9 3912.6 1904.1 3916.8 1904.3 3920.8 1904.4 3924.9 1904.4 3930.8 1904.5 3947.7 1904.8 3974.1 1905.2 4006.8 1905.7 4042.6 1906.2 4078.4 1906.8 4111 1907.3 4137.4 1907.7 4154.4 1907.9 4160.3 1908 4164.3 1908.1 4168.4 1908.1" stroke="#b01030"/>
<path d="M3250.5 1812.4L3254.6 1812.4 3258.6 1812.5 3264.5 1812.6 3280.8 1812.8 3305.9 1813.1 3336.9 1813.6 3370.8 1814.1 3404.7 1814.5 3435.7 1815 3460.8 1815.3 3477.1 1815.6 3483 1815.6 3487 1815.7 3491.1 1815.8 3495.1 1815.9 3499.2 1816.2 3505 1816.5 3519.3 1817.3 3540.6 1818.5 3566.8 1819.9 3595.4 1821.5 3623.9 1823.1 3650.1 1824.5 3671.5 1825.7 3685.7 1826.5 3691.4 1826.7 3695.3 1826.8 3699.7 1827.3 3704.4 1828 3709.7 1829.1 3715.2 1830.3 3720.5 1831.6 3725.2 1832.8 3730 1834.1 3734.2 1835.4 3738.6 1836.8 3743.8 1838.4 3749.2 1840 3754.4 1841.5 3758.7 1842.9 3762.9 1844.2 3767.8 1845.6 3772.6 1846.9 3778 1848.5 3783.9 1850.2 3790 1851.8 3796.1 1853.1 3801.8 1854.1 3808.1 1854.6 3814.4 1854.7 3820.6 1854.5 3826.4 1854.2 3831.6 1854.1 3836.1 1854 3840.1 1853.8 3845.6 1853.6 3857.3 1853.2 3874.2 1852.7 3894.6 1852 3916.8 1851.3 3938.9 1850.6 3959.3 1849.9 3976.2 1849.4 3987.9 1849 3993.7 1848.8 3997.8 1848.7 4001.9 1848.5 4006 1848.4 4010.2 1848.3 4015.9 1848.2 4027.3 1848 4043.8 1847.6 4063.6 1847.1 4085.1 1846.6 4106.6 1846.1 4126.5 1845.7 4142.9 1845.3 4154.4 1845 4160.1 1844.9 4164.2 1844.8 4168.4 1844.7" stroke="#c00991"/>
<path d="M3172.6 1745.5L3176.7 1745.6 3180.7 1745.6 3186.6 1745.6 3202.4 1745.8 3226.7 1746 3256.6 1746.3 3289.3 1746.6 3322 1746.9 3351.9 1747.2 3376.1 1747.4 3391.9 1747.5 3397.8 1747.6 3401.9 1747.6 3405.9 1747.6 3410 1747.8 3414.1 1748 3419.9 1748.3 3433 1748.8 3452.4 1749.7 3476 1750.8 3501.7 1751.9 3527.4 1753 3551 1754.1 3570.4 1755 3583.5 1755.5 3589.2 1755.7 3593.2 1755.8 3597.5 1756.2 3602.5 1756.7 3607.8 1757.5 3613.2 1758.6 3618.8 1760.4 3623.6 1762.8 3628.5 1765.8 3633.4 1769.3 3638.5 1773 3643.5 1776.5 3648.6 1779.6 3653.5 1782.3 3658.6 1785.1 3663.6 1787.7 3668.7 1790.1 3673.6 1792.1 3678.4 1793.6 3684 1794.7 3689.4 1795.2 3694.7 1795.3 3699.7 1795.3 3704 1795.2 3708 1795 3713.6 1794.6 3725.6 1793.9 3743 1793 3764.1 1791.9 3786.9 1790.6 3809.8 1789.4 3830.8 1788.3 3848.3 1787.4 3860.2 1786.7 3866 1786.4 3870.1 1786.2 3874.2 1786 3878.3 1785.8 3882.3 1785.7 3888.2 1785.5 3902.8 1785.1 3924.9 1784.5 3952.1 1783.6 3981.7 1782.8 4011.3 1781.9 4038.4 1781.1 4060.6 1780.4 4075.2 1780 4081 1779.8 4085.1 1779.7 4089.2 1779.6" stroke="#c030e8"/>
<path d="M3172.6 1678.3L3176.6 1678.3 3180.6 1678.4 3186.6 1678.5 3209.7 1678.8 3247.8 1679.4 3295.8 1680.2 3348.9 1681 3401.9 1681.9 3450 1682.6 3488 1683.2 3511.1 1683.6 3517.1 1683.5 3521 1683.5 3525.1 1683.8 3530.7 1684.6 3536.5 1686 3542.1 1688 3546.6 1690.7 3551 1694 3555.2 1697.6 3559.2 1700.8 3563 1703.8 3566.5 1706.7 3570 1709.6 3574.1 1713 3578.3 1716.3 3582.4 1719.7 3585.9 1722.8 3589.3 1725.8 3593.2 1728.5 3598.4 1730.9 3604.2 1732.8 3610.3 1734 3615.8 1734.3 3621.7 1733.9 3627.7 1733.3 3633.7 1732.7" stroke="#9c70f8"/>
<path d="M3772 1724.2L3776.1 1724.1 3780.1 1723.9 3786 1723.7 3801.6 1723 3825.5 1722.1 3854.8 1720.9 3887 1719.5 3919.1 1718.2 3948.5 1717 3972.4 1716.1 3987.9 1715.4 3993.8 1715.2 3997.9 1715 4001.9 1714.9 4006 1714.8 4010.2 1714.7 4015.9 1714.6 4027.3 1714.3 4043.8 1714 4063.6 1713.6 4085.1 1713.2 4106.6 1712.7 4126.5 1712.3 4142.9 1712 4154.4 1711.7 4160.1 1711.6 4164.2 1711.5 4168.4 1711.5" stroke="#9c70f8"/>
<path d="M3250.5 1613.5L3254.6 1613.6 3258.7 1613.7 3264.5 1613.8 3280.2 1614 3304.3 1614.3 3334 1614.8 3366.5 1615.2 3399 1615.7 3428.7 1616.2 3452.8 1616.5 3468.5 1616.7 3474.5 1616.6 3478.6 1616.5 3482.5 1617 3486.9 1618 3491.1 1619.6 3495.3 1622.1 3498.7 1625 3501.9 1628.7 3505.2 1632.8 3508.7 1637.1 3512.3 1641.2 3516.3 1645.3 3520.5 1649.6 3524.9 1654 3529.3 1658.2 3533.7 1661.8 3537.9 1664.6 3543.6 1667.3 3549.1 1668.8 3554.9 1669.7 3560.1 1670 3565.7 1669.7 3571.1 1669.3 3576.2 1668.9 3580.5 1668.7 3584.5 1668.4 3590.2 1668.1 3604.7 1667.2 3626.5 1665.9 3653.4 1664.3 3682.6 1662.5 3711.9 1660.7 3738.7 1659.1 3760.6 1657.8 3775.1 1657 3780.9 1656.6 3785 1656.3 3789.1 1656.1 3793.1 1655.9 3797.2 1655.8 3803.1 1655.6 3817.5 1655.1 3839.4 1654.3 3866.2 1653.3 3895.5 1652.3 3924.8 1651.2 3951.6 1650.3 3973.4 1649.5 3987.9 1649 3993.8 1648.7 3997.8 1648.6 4001.9 1648.5 4006 1648.4 4010.2 1648.3 4015.9 1648.2 4027.3 1648 4043.8 1647.7 4063.6 1647.3 4085.1 1647 4106.6 1646.6 4126.5 1646.2 4142.9 1645.9 4154.4 1645.7 4160.1 1645.6 4164.2 1645.5 4168.4 1645.5" stroke="#60a0f8"/>
<path d="M3172.6 1545.9L3176.7 1545.9 3180.7 1545.9 3186.6 1546 3204.6 1546.1 3232.8 1546.3 3267.8 1546.6 3306.3 1546.9 3344.8 1547.2 3379.8 1547.5 3408 1547.7 3426 1547.9 3431.9 1547.8 3436 1547.7 3440 1548 3444.4 1548.7 3448.7 1549.8 3452.7 1551.8 3456.2 1554.8 3459.5 1558.7 3462.6 1562.9 3465.5 1566.7 3468.7 1570.5 3471.6 1574 3474.5 1577.5 3478.3 1582 3482.1 1586.6 3484.9 1590.2 3487.8 1593.9 3491.1 1597.4 3494.9 1600.7 3499.1 1603.7 3503.8 1605.9 3508.8 1606.7 3514.3 1606.6 3520 1606.2 3525.1 1605.9 3529.5 1605.7 3533.5 1605.4 3539.1 1605 3548.9 1604.5 3562.6 1603.6 3578.9 1602.7 3596.4 1601.6 3614 1600.6 3630.3 1599.6 3644 1598.8 3653.8 1598.2 3659.4 1597.9 3663.6 1597.6 3667.7 1597.4" stroke="#1dc3d7"/>
<path d="M3725.2 1594L3729.3 1593.8 3733.3 1593.6 3739.2 1593.3 3755 1592.6 3779.4 1591.4 3809.4 1590 3842.3 1588.4 3875.1 1586.9 3905.2 1585.5 3929.5 1584.3 3945.4 1583.6 3951.2 1583.3 3955.3 1583.1 3959.3 1582.9 3963.4 1582.8 3967.5 1582.7 3973.3 1582.7 3987.6 1582.4 4009 1582.1 4035.2 1581.7 4063.9 1581.2 4092.5 1580.7 4118.7 1580.3 4140.1 1579.9 4154.4 1579.7 4160.2 1579.6 4164.3 1579.6 4168.4 1579.5" stroke="#1dc3d7"/>
<path d="M3234.4 1480.7L3238.5 1480.8 3242.6 1480.8 3248.4 1480.9 3260.1 1481 3277.2 1481.1 3297.8 1481.4 3320.1 1481.6 3342.5 1481.8 3363.1 1482 3380.1 1482.2 3391.9 1482.3 3397.7 1482.2 3401.9 1482.1 3405.9 1482.4 3410.3 1483.3 3414.6 1484.5 3418.7 1486.7 3422 1489.8 3425.1 1493.7 3428.1 1498.2 3431.5 1502.9 3434.8 1507.2 3438.4 1512.2 3442.1 1517.3 3445.8 1522.3 3449.4 1526.8 3452.7 1530.5 3456.3 1534.1 3459.5 1537 3463.4 1539 3467.8 1540.1 3472.7 1540.4 3477.8 1540.4 3482.5 1540.3 3486.7 1540.2 3490.7 1540 3496.5 1539.6 3514.2 1538.6 3542.1 1537.2 3576.6 1535.3 3614.5 1533.3 3652.4 1531.3 3687 1529.4 3714.8 1528 3732.5 1527 3738.4 1526.7 3742.5 1526.5 3746.5 1526.3 3750.5 1526.1 3754.6 1525.9 3760.5 1525.7 3777.7 1525 3804.5 1523.9 3837.7 1522.5 3874.2 1521 3910.7 1519.4 3943.9 1518 3970.7 1516.9 3987.9 1516.2 3993.8 1516 3997.9 1515.8 4001.9 1515.6 4006 1515.5 4010.2 1515.5 4015.9 1515.3 4027.3 1515.1 4043.8 1514.8 4063.6 1514.4 4085.1 1513.9 4106.6 1513.5 4126.5 1513.1 4142.9 1512.7 4154.4 1512.5 4160.1 1512.4 4164.2 1512.3 4168.4 1512.2" stroke="#28e0a3"/>
<path d="M3405.1 1450.9L3407.9 1455 3410.7 1459.3 3413.6 1463.3 3416.6 1466.7 3419.8 1469.7 3423.2 1472.1 3427.2 1473.9 3432 1474.9 3437.6 1475.3 3443.3 1475.2 3448.5 1475.2 3452.8 1475.1 3456.8 1474.8 3462.5 1474.5 3476 1473.8 3496.1 1472.8 3520.7 1471.6 3547.5 1470.3 3574.2 1469 3598.8 1467.8 3618.9 1466.8 3632.5 1466.1 3638.3 1465.8 3642.4 1465.6 3646.4 1465.4" stroke="#6bf056"/>
<path d="M3752.9 1459.4L3757 1459.3 3761 1459.1 3766.9 1458.9 3780.9 1458.4 3802.1 1457.6 3827.9 1456.7 3856.1 1455.6 3884.3 1454.6 3910.1 1453.6 3931.3 1452.8 3945.4 1452.3 3951.2 1452.1 3955.3 1451.9 3959.3 1451.8" stroke="#6bf056"/>
</g>
<g clip-path="url(#cpf)">
<text transform="translate(3700.5,1464.5) rotate(-3)" text-anchor="middle" dy="16.0" font-size="45" fill="#6bf056">200</text>
<text transform="translate(3180.7,1476.5) rotate(0)" text-anchor="middle" dy="16.0" font-size="45" fill="#28e0a3">100</text>
<text transform="translate(3697.5,1593.1) rotate(-2)" text-anchor="middle" dy="16.0" font-size="45" fill="#1dc3d7">0</text>
<text transform="translate(3184.5,1610.1) rotate(0)" text-anchor="middle" dy="16.0" font-size="45" fill="#60a0f8">−100</text>
<text transform="translate(3706.9,1725.1) rotate(-3)" text-anchor="middle" dy="16.0" font-size="45" fill="#9c70f8">−200</text>
<text transform="translate(4156.9,1778.7) rotate(-1)" text-anchor="middle" dy="16.0" font-size="45" fill="#c030e8">−300</text>
<text transform="translate(3184.5,1808.5) rotate(0)" text-anchor="middle" dy="16.0" font-size="45" fill="#c00991">−400</text>
<text transform="translate(3700.5,1889.0) rotate(3)" text-anchor="middle" dy="16.0" font-size="45" fill="#b01030">−500</text>
</g>
<g clip-path="url(#csg)" fill="none" stroke-width="5.2" stroke-linecap="butt" stroke-linejoin="round">
<path d="M59.2 2435.6L95.4 2576.5" stroke="#bd0d63"/>
<path d="M103.9 2207.9L110.3 2231.3 116.7 2254.8 123.1 2278.2 129.5 2301.7 135.9 2325.2 142.3 2348.6 148.7 2371.9 155 2395.2 161.2 2418 167.3 2440.7 173.4 2463.4 179.5 2486 185.6 2508.7 191.7 2531.3 197.8 2553.9 203.9 2576.5" stroke="#c51bc8"/>
<path d="M186.9 2118.5L199.7 2156.8" stroke="#9578f8"/>
<path d="M232.5 2271.7L238.2 2290.9 243.9 2310.1 249.7 2329.2 255.4 2348.4 261.1 2367.6 266.9 2386.7 272.6 2405.9 278.4 2425 284.2 2444 290.1 2463 295.9 2481.9 301.8 2500.8 307.7 2519.8 313.5 2538.7 319.4 2557.6 325.3 2576.5" stroke="#9578f8"/>
<path d="M342.3 2180.2L349.3 2197.7 357.5 2217 366.2 2237.1 374.6 2256.8 382.1 2275.1 387.8 2290.7 391.1 2302.8 391.2 2310 388.6 2312.8 384.9 2313.5 380.3 2310.9 375.3 2306.6 372.1 2304.9 371.8 2307.1 372.9 2311.3 375.1 2317.1 377.9 2324 380.6 2331.3 385.4 2345.1 391.7 2362.6 399 2382.9 407.1 2404.9 415.5 2427.5 424.1 2449.8 432.4 2470.6 440.2 2488.8 445.8 2501.2 451.4 2512.8 457 2523.8 462.6 2534.5 468.2 2544.9 473.7 2555.3 479.3 2565.8 484.9 2576.5" stroke="#40b0e8"/>
<path d="M501.9 2150.4L507.4 2161.3 512.8 2172.2 518.1 2183.1 523.4 2194 528.8 2205 534.5 2215.9 540.4 2226.8 546.6 2237.7 553.7 2249.5 560.9 2261.4 568.4 2273.3 576.2 2285.2 584.2 2297 592.6 2308.7 601.4 2320.2 610.5 2331.3 620.6 2342.9 631.4 2354.3 642.6 2365.6 654.2 2376.7 665.9 2387.5 677.6 2398 689.3 2408.1 700.7 2417.8 710.6 2426 720.2 2433.9 729.8 2441.5 739.4 2448.8 749.1 2455.9 759.2 2462.8 769.7 2469.5 780.8 2476.1 794.2 2483.4 808.3 2490.6 822.9 2497.5 837.9 2504.1 853.2 2510.5 868.8 2516.4 884.4 2522 900 2527.2 916 2531.8 932.3 2535.8 948.8 2539.3 965.5 2542.5 982.2 2545.5 999 2548.5 1015.7 2551.5 1032.4 2554.8" stroke="#24dea5"/>
<path d="M874.4 2117.6L963.8 2139.8" stroke="#70f050"/>
</g>
<g clip-path="url(#cpg)">
<text transform="translate(54.9,2379.0) rotate(76)" text-anchor="middle" dy="16.0" font-size="45" fill="#bd0d63">−0.60</text>
<text transform="translate(98.4,2150.4) rotate(74)" text-anchor="middle" dy="16.0" font-size="45" fill="#c51bc8">−0.45</text>
<text transform="translate(221.8,2215.1) rotate(72)" text-anchor="middle" dy="16.0" font-size="45" fill="#9578f8">−0.30</text>
<text transform="translate(331.6,2124.9) rotate(70)" text-anchor="middle" dy="16.0" font-size="45" fill="#40b0e8">−0.15</text>
<text transform="translate(482.8,2112.1) rotate(62)" text-anchor="middle" dy="16.0" font-size="45" fill="#24dea5">0.00</text>
<text transform="translate(1021.7,2143.6) rotate(14)" text-anchor="middle" dy="16.0" font-size="45" fill="#70f050">0.15</text>
</g>
<g clip-path="url(#csh)" fill="none" stroke-width="5.2" stroke-linecap="butt" stroke-linejoin="round">
<path d="M1082.1 2401.6L1100.4 2405.8" stroke="#bd0d63"/>
<path d="M1148.1 2419.9L1152.2 2421.2 1156.3 2422.5 1161.4 2424.2 1166.8 2425.9 1173.5 2428 1181.1 2430.5 1189.2 2433.1 1197.2 2435.7 1204.9 2438.1 1211.6 2440.3 1216.9 2442 1222.1 2443.6 1226.2 2444.9 1230.3 2446.3 1234.2 2447.8 1238.1 2449.4 1243.3 2451.5 1251.2 2454.7 1262 2459.1 1274.7 2464.2 1288.4 2469.7 1302 2475.2 1314.8 2480.3 1325.6 2484.7 1333.5 2487.9 1338.7 2489.9 1342.7 2491.4 1346.5 2493.1 1350.3 2495.1 1354 2497.3 1358.7 2500 1363.6 2502.8 1369.8 2506.3 1376.8 2510.2 1384.2 2514.4 1391.6 2518.6 1398.6 2522.5 1404.7 2526 1409.7 2528.8 1414.4 2531.4 1418.2 2533.4 1421.8 2535.7 1425.5 2538.2 1429 2540.8 1433.1 2544 1437 2546.9 1441.7 2550.4 1446.9 2554.2 1452.2 2558.1 1457.3 2561.9 1462 2565.3 1465.9 2568.2 1470.1 2571.3 1473.7 2573.9 1477.2 2576.5" stroke="#bd0d63"/>
<path d="M1140.9 2303.7L1144.9 2304.5 1148.9 2305.4 1154.6 2306.7 1166.5 2309.3 1184 2313.1 1205.2 2317.8 1228.1 2322.8 1251.1 2327.9 1272.3 2332.5 1289.8 2336.3 1301.7 2339 1307.4 2340.2 1311.4 2341.1 1315.4 2342 1319.4 2343 1323.4 2344.1 1329 2345.5 1339.5 2348.3 1354.5 2352.3 1372.5 2357 1392 2362.2 1411.6 2367.3 1429.6 2372.1 1444.6 2376.1 1455.1 2378.8 1460.6 2380.2 1464.6 2381.2 1468.7 2382.4 1472.9 2383.8 1477.3 2385.3 1481.7 2387 1485.7 2388.8 1489.8 2391.3 1493.5 2394 1497.2 2396.7 1500.9 2399.3 1504.6 2401.8 1508.2 2404.3 1511.8 2406.8 1515.5 2409.3 1519.8 2412.2 1523.3 2414.7 1527.4 2417.7 1531.7 2421 1536.3 2424.3 1540.9 2427.5 1545.3 2430.3 1549.6 2432.7 1555.1 2435.1 1560.6 2437 1565.9 2438.5 1570.8 2439.9 1575.2 2441 1579.2 2441.9 1584.5 2443.2 1591.7 2444.9 1601.2 2447.2 1612.2 2449.8 1624.1 2452.7 1635.9 2455.5 1646.9 2458.1 1656.4 2460.4 1663.7 2462.2 1669 2463.4 1673.2 2464.4 1677.3 2465.4 1681.3 2466.7 1685.3 2468.1 1690.5 2469.9 1697.8 2472.4 1707.4 2475.7 1718.5 2479.5 1730.5 2483.5 1742.5 2487.6 1753.6 2491.4 1763.2 2494.7 1770.4 2497.1 1775.7 2498.9 1779.7 2500.2 1783.7 2501.6 1787.7 2503.2 1791.6 2504.9 1796.6 2507.1 1802.2 2509.5 1809.4 2512.5 1817.6 2516 1826.3 2519.7 1835 2523.4 1843.1 2526.9 1850.3 2529.9 1856 2532.3 1860.7 2534.4 1864.5 2536 1868.8 2537.8 1873.6 2539.7 1879.4 2541.8 1885.5 2544.1 1891.5 2546.4 1896.8 2548.6 1900.8 2550.6 1905.3 2553.3 1907.2 2555.7 1904.8 2556.9 1899.7 2557.9 1893.3 2558.7 1887.5 2559.7 1883.7 2561.2 1881.9 2563.6 1881.6 2566.3 1884.3 2569.6 1889.4 2573.1 1894.4 2576.5" stroke="#c810b8"/>
<path d="M1082.1 2207.9L1086.1 2208.6 1090 2209.2 1095.9 2210.2 1115.7 2213.6 1147.4 2219.1 1187 2225.9 1230.7 2233.4 1274.4 2240.9 1314 2247.7 1345.7 2253.2 1365.5 2256.6 1371.4 2257.5 1375.4 2258 1379.3 2259 1383.6 2260.5 1387.8 2262.4 1392 2265.3 1395.5 2268.8 1399 2273.1 1402.5 2278.1 1406.1 2283.3 1409.7 2288.4 1413.3 2293 1416.8 2297.2 1420.3 2301.4 1423.8 2305.6 1427.4 2309.4 1431 2312.8 1434.6 2315.6 1438.9 2317.8 1443.2 2319.4 1447.5 2320.6 1451.6 2321.5 1456.4 2322.4 1461 2322.9 1465.5 2323.4 1469.8 2324 1474 2324.6 1478.2 2325.2 1482.8 2325.8 1487.4 2326.4 1492.1 2327.1" stroke="#ad55f1"/>
<path d="M1595.5 2339.8L1600 2340.3 1604.4 2340.8 1609.5 2341.3 1614.3 2341.8 1619.8 2342.4 1625.8 2343 1631.7 2343.7 1637.3 2344.3 1642.1 2344.8 1647.2 2345.2 1651.6 2345.5 1656 2346.2 1660.4 2347.3 1664.7 2348.6 1668.8 2350.5 1672.5 2353.2 1676 2356.5 1679.4 2359.6 1683.7 2363.3 1687.9 2366.9 1691.4 2369.9 1695 2373 1698.6 2376 1702.1 2379 1705.7 2381.9 1709.4 2384.9 1713.5 2388.2 1717.7 2391.6 1721.8 2394.9 1725.3 2397.9 1728.8 2400.9 1732.6 2403.7 1736.6 2406 1740.9 2408.1 1745.3 2410 1749.6 2411.4 1753.8 2412.2 1757.9 2412.4 1763.6 2412.9 1774.7 2414.1 1790.6 2415.9 1809.8 2418 1830.5 2420.3 1851.3 2422.6 1870.5 2424.7 1886.4 2426.5 1897.5 2427.7 1903.2 2428.3 1907.3 2428.8 1911.4 2429.2 1915.5 2429.8 1919.6 2430.4 1925.3 2431.3 1936.7 2432.9 1953.2 2435.3 1973.1 2438.2 1994.6 2441.4 2016.2 2444.5 2036.1 2447.4 2052.6 2449.8 2064 2451.5 2069.7 2452.3 2073.8 2452.9 2077.9 2453.5" stroke="#ad55f1"/>
<path d="M1082.1 2137.6L1086.1 2138.2 1090.1 2138.8 1096 2139.6 1112.8 2142.1 1139.1 2145.9 1171.6 2150.6 1207.3 2155.7 1242.9 2160.9 1275.5 2165.6 1301.7 2169.4 1318.6 2171.8 1324.5 2172.5 1328.6 2172.9 1332.4 2173.8 1336.2 2175.4 1339.6 2177.4 1343.1 2180.2 1346.2 2183.7 1349.3 2188 1352.4 2192.8 1355.3 2197.4 1358 2201.5 1361 2205.7 1363.6 2209.4 1366.1 2212.9 1368.6 2216.4 1371.1 2219.9 1373.5 2223.7 1376.2 2227.8 1379.3 2231.3 1383.1 2234 1387.5 2236.1 1392 2237.7 1396 2238.4 1400.1 2238.6 1406 2238.9 1419.6 2240.1 1440 2242 1464.9 2244.2 1492.1 2246.6 1519.2 2249 1544.1 2251.3 1564.5 2253.1 1578.2 2254.3 1584 2254.7 1588.1 2254.9 1592.1 2255.6 1596.5 2256.7 1600.6 2258.4 1604.9 2261.1 1608.3 2264.4 1611.8 2268.7 1615.3 2273.6 1618.9 2278.9 1622.5 2284 1626.2 2288.8 1630 2293.2 1633.9 2297.9 1637.9 2302.5 1641.9 2306.7 1645.8 2310.5 1649.6 2313.5 1654.6 2316.3 1659.6 2318.2 1664.5 2319.4 1668.9 2320 1673.3 2320 1678.5 2320.1 1682.8 2320.3 1688 2320.6 1693.7 2320.8 1699.6 2321.1 1705.6 2321.4 1711.3 2321.7 1716.4 2321.9 1720.8 2322.1 1726 2322.4 1730.4 2322.6 1734.7 2322.8" stroke="#788df8"/>
<path d="M1841.2 2330.1L1845.2 2330.4 1849.3 2330.8 1855.1 2331.3 1871.1 2332.6 1895.8 2334.8 1926.2 2337.4 1959.5 2340.3 1992.8 2343.1 2023.3 2345.8 2047.9 2347.9 2063.9 2349.3 2069.8 2349.8 2073.8 2350.1 2077.9 2350.5" stroke="#788df8"/>
<path d="M1313.3 2118.5L1316.5 2123.6 1319.8 2128.8 1323 2134 1326.3 2139.1 1329.4 2143.9 1332.4 2148.3 1335.7 2153 1338.7 2157.6 1341.8 2161.5 1345.2 2164.5 1349.3 2166.2 1353.6 2166.9 1358 2167.4 1362 2167.9 1366.1 2168.2 1371.9 2168.6 1385.3 2169.8 1405.2 2171.5 1429.5 2173.6 1455.9 2175.9 1482.3 2178.2 1506.6 2180.4 1526.5 2182.1 1539.9 2183.2 1545.8 2183.5 1549.9 2183.7 1553.8 2184.5 1557.5 2185.9 1560.9 2188 1564.5 2190.8 1567.5 2194 1570.7 2198 1574 2202.5 1577.2 2207.2 1580.5 2212 1583.6 2216.4 1587.1 2221.4 1590.6 2226.6 1594 2231.7 1597.3 2236.2 1600.6 2239.8 1604.1 2242.7 1607.6 2244.7 1611.3 2246.2 1615.2 2246.8 1619.3 2246.8 1625.3 2246.8 1639.5 2247.5 1660.9 2248.4 1687 2249.6 1715.6 2250.9 1744.1 2252.2 1770.3 2253.3 1791.7 2254.3 1805.9 2254.9 1811.7 2255.2 1815.8 2255.4 1819.9 2255.6" stroke="#30b8e2"/>
<path d="M1949.7 2261.1L1953.9 2261.4 1958.1 2261.6 1963.7 2262 1972.5 2262.6 1984.5 2263.4 1998.6 2264.3 2013.8 2265.3 2029 2266.4 2043.1 2267.3 2055.1 2268.1 2063.9 2268.7 2069.5 2269 2073.7 2269.3 2077.9 2269.6" stroke="#30b8e2"/>
<path d="M1524 2118.5L1526.1 2120.4 1528.3 2122.7 1530.8 2126.2 1533.5 2130.4 1536 2134.4 1538.9 2138.7 1541.8 2143 1544.2 2146.6 1546.7 2150.4 1549.6 2154.7 1552.6 2159.1 1556 2164.4 1559.7 2169.7 1563.3 2174.5 1566.6 2178.1 1570.7 2181.3 1575.1 2183.2 1579 2183.8 1583.5 2183.8 1589.1 2183.8 1596 2184.1 1604.9 2184.4 1615.2 2184.9 1626.2 2185.3 1637.2 2185.8 1647.5 2186.2 1656.4 2186.6 1663.3 2186.9 1668.8 2187.1 1673 2187.3 1677.3 2187.4" stroke="#1ddaac"/>
<path d="M1807.1 2190.8L1811.1 2191 1815.2 2191.2 1821.1 2191.5 1839.2 2192.3 1867.8 2193.5 1903.4 2195.1 1942.5 2196.8 1981.6 2198.5 2017.1 2200.1 2045.7 2201.4 2063.9 2202.2 2069.8 2202.4 2073.8 2202.6 2077.9 2202.8" stroke="#1ddaac"/>
<path d="M1528.3 2118.5L1532.5 2121.9 1536.6 2125.4 1541 2127.8 1545.1 2128.5 1549.4 2128.3 1555 2128.2 1562.9 2128.3 1573.3 2128.6 1585.5 2128.8 1598.5 2129.1 1611.6 2129.4 1623.7 2129.7 1634.2 2129.9 1642 2130.1 1647.5 2130.2 1651.8 2130.3 1656 2130.4 1660.1 2130.5 1664.2 2130.6 1670 2130.7 1682.1 2131 1699.8 2131.4 1721.1 2132 1744.3 2132.5 1767.5 2133.1 1788.9 2133.6 1806.5 2134 1818.7 2134.3 1824.4 2134.5 1828.5 2134.6 1832.7 2134.7" stroke="#58f070"/>
<path d="M1962.5 2137.6L1966.7 2137.8 1970.9 2137.9 1976.5 2138.1 1984.3 2138.4 1994.8 2138.8 2007.1 2139.3 2020.2 2139.8 2033.3 2140.2 2045.5 2140.7 2056 2141.1 2063.9 2141.4 2069.4 2141.6 2073.7 2141.7 2077.9 2141.9" stroke="#58f070"/>
</g>
<g clip-path="url(#cph)">
<text transform="translate(1898.6,2134.7) rotate(2)" text-anchor="middle" dy="16.0" font-size="45" fill="#58f070">1800</text>
<text transform="translate(1744.1,2186.6) rotate(2)" text-anchor="middle" dy="16.0" font-size="45" fill="#1ddaac">1500</text>
<text transform="translate(1886.7,2256.0) rotate(3)" text-anchor="middle" dy="16.0" font-size="45" fill="#30b8e2">1200</text>
<text transform="translate(1788.0,2324.1) rotate(4)" text-anchor="middle" dy="16.0" font-size="45" fill="#788df8">900</text>
<text transform="translate(1544.0,2330.9) rotate(8)" text-anchor="middle" dy="16.0" font-size="45" fill="#ad55f1">600</text>
<text transform="translate(1090.2,2293.9) rotate(12)" text-anchor="middle" dy="16.0" font-size="45" fill="#c810b8">300</text>
<text transform="translate(1127.3,2413.1) rotate(15)" text-anchor="middle" dy="16.0" font-size="45" fill="#bd0d63">0</text>
</g>
<g clip-path="url(#csi)" fill="none" stroke-width="5.2" stroke-linecap="butt" stroke-linejoin="round">
<path d="M2205 2118.5L2202.1 2121.3 2198.6 2124.8 2195.3 2128 2191.1 2132.2 2186.2 2136.9 2181.2 2141.8 2176.4 2146.5 2172.2 2150.7 2168.9 2153.9 2165.4 2157.3 2162.5 2160.2" stroke="#62f063"/>
<path d="M2162.5 2359L2165.1 2356.4 2168.8 2352.6 2182.1 2339.3 2205 2316.4 2234.3 2287.2 2266.8 2254.7 2299.2 2222.2 2328.5 2193 2351.4 2170.1 2364.7 2156.8 2368.3 2152.3 2371.1 2150.4 2374.6 2151.9 2378.4 2155.3 2381.7 2158.9 2384.2 2162.5 2386.5 2166.5 2389.2 2170.9 2392.3 2175.9 2395.5 2181 2398.2 2185.3 2400.6 2189.6 2403 2193 2406 2195.8 2409.4 2197.2 2412.8 2196.1 2416.6 2193.5 2420 2190.8 2423 2188.1 2426.4 2184.5 2431.4 2179.5 2438.6 2172.4 2447.3 2163.9 2456.6 2154.7 2466 2145.4 2474.6 2136.9 2481.8 2129.8 2486.8 2124.8 2490.4 2121.2 2493.2 2118.5" stroke="#20dca8"/>
<path d="M2143.3 2576.5L2145.9 2573.9 2149.6 2570.2 2168 2551.7 2201.2 2518.2 2244.3 2474.7 2292.3 2426.3 2340.4 2377.8 2383.4 2334.3 2416.6 2300.9 2435 2282.4 2438.6 2277.9 2441.3 2276 2444.7 2276.9 2448.6 2279.6 2451.9 2282.4 2454.9 2285.5 2457.8 2289.2 2460.6 2292.4 2464 2296.3 2467.6 2300.4 2470.9 2304.3 2473.7 2307.5 2476.7 2311.3 2479.6 2314.3 2483.7 2317.2 2488.1 2318.6 2491.7 2317.4 2495.5 2314.8 2498.8 2312.2 2501.6 2309.5 2505.1 2305.8 2512.7 2298 2524.5 2286 2539.1 2271 2555.2 2254.7 2571.2 2238.4 2585.9 2223.4 2597.7 2211.4 2605.3 2203.7 2608.8 2199.2 2611.6 2197.2 2615.9 2199.5 2620.1 2203.6 2622.8 2207 2625.4 2210.9 2628.4 2214.9 2631.8 2219.6 2635.3 2224.3 2638.2 2228.3 2640.9 2232.2 2643.5 2235.5 2647.1 2239.1 2651.2 2241.1 2656 2239.2 2660.5 2235.5 2663.4 2232.6 2666.6 2228.9 2669.5 2225.8 2673.1 2221.7 2677.3 2217.1 2681.8 2212.1 2686.3 2207.2 2690.5 2202.6 2694.2 2198.5 2697.1 2195.4 2700.4 2191.7 2703.1 2188.7" stroke="#30b8e2"/>
<path d="M2766.1 2125.7L2773.4 2118.5" stroke="#30b8e2"/>
<path d="M2341.3 2576.5L2344 2573.7 2347.6 2570.2 2352.1 2565.6 2358.5 2559.2 2366.1 2551.6 2374.3 2543.3 2382.4 2535.1 2390 2527.5 2396.4 2521.1 2400.9 2516.5 2404.5 2512.9 2407.2 2510.1" stroke="#788df8"/>
<path d="M2441.3 2473.9L2444.1 2471.2 2447.7 2467.6 2453.5 2461.8 2462.1 2453.2 2472.5 2442.7 2483.9 2431.4 2495.2 2420 2505.7 2409.6 2514.3 2401 2520.1 2395.2 2523.6 2391 2526.4 2388.8 2530.6 2389.2 2535 2390.9 2538.5 2393.1 2542.4 2395.9 2546.5 2398.6 2551.5 2401.9 2556.8 2405.5 2561.7 2408.8 2565.8 2411.5 2569.7 2414.3 2573.3 2416.5 2578.5 2418.9 2583.9 2419.9 2589.5 2417.8 2594.6 2414.3 2597.4 2411.7 2600.8 2407.9 2607.2 2401.3 2616.8 2391.4 2628.6 2379.3 2641.4 2366 2654.2 2352.8 2666 2340.7 2675.6 2330.8 2682 2324.2 2685.4 2319.9 2688.2 2317.7 2692.5 2318.4 2696.7 2320.7 2699.9 2323.5 2703.1 2327.1 2706.1 2330.1 2709.7 2333.7 2713.5 2337.5 2717.1 2341.1 2720.2 2344.1 2723.4 2347.6 2726.5 2350.5 2730.7 2353.3 2735 2354.7 2739.4 2353.3 2743.6 2350.5 2746.3 2348 2749.8 2344 2764.1 2329.4 2789 2303.8 2820.9 2270.9 2856.4 2234.5 2891.8 2198 2923.8 2165.2 2948.6 2139.6 2962.9 2124.9 2966.6 2121.1 2969.2 2118.5" stroke="#788df8"/>
<path d="M2535 2576.5L2537.7 2573.8 2541.4 2570.2 2548 2563.7 2558.1 2553.8 2570.4 2541.7 2583.9 2528.4 2597.4 2515.2 2609.7 2503.1 2619.8 2493.2 2626.5 2486.6 2630 2482.7 2632.9 2480.3 2637 2479.4 2641.4 2479.5 2645.3 2480.5 2650 2482.1 2654.6 2483.6 2660.5 2485.4 2666.9 2487.4 2673.4 2489.4 2679.3 2491.2 2683.9 2492.6 2688.4 2494.2 2692.5 2495.2 2696.7 2495.4 2701.3 2495.1 2705.2 2494 2708.3 2491.5 2711.6 2487.6 2716.7 2482.5 2724.1 2475.2 2732.9 2466.4 2742.5 2456.9 2752.1 2447.4 2760.9 2438.6 2768.2 2431.3 2773.4 2426.2 2776.8 2422.2 2779.7 2419.9 2785 2419.5 2790.4 2420.7 2794.1 2422.7 2798.1 2425.4 2802.1 2427.9 2807 2430.9 2812.1 2434 2817 2437 2821 2439.5 2825 2442.1 2828.7 2444.1 2833.9 2445.9 2839.3 2446.3 2843.1 2444.9 2846.7 2442.5 2850 2439.9 2852.7 2437.2 2856.2 2433.4 2867.3 2421.7 2885.8 2402.3 2909.2 2377.7 2935.1 2350.5 2961.1 2323.3 2984.5 2298.7 3003 2279.2 3014.1 2267.6 3017.7 2263.8 3020.3 2261.1" stroke="#ad55f1"/>
<path d="M3103.3 2177.2L3106.6 2174.1 3109.9 2171.1 3113.1 2168.1 3116.3 2165.1 3119.6 2162 3122.9 2158.9" stroke="#ad55f1"/>
<path d="M2735 2576.5L2738.2 2573.8 2741.8 2570.6 2745.4 2567.4 2749.7 2563.5 2754.4 2559.4 2758.8 2555.5 2762.4 2552.3 2765.7 2549 2769.1 2546.3 2772.9 2544.4 2777.4 2542.5 2782 2541 2786.1 2539.9 2790.3 2539.6 2795.1 2539.6 2799.4 2539.5 2804.9 2539.3 2811.3 2539.1 2818.1 2538.9 2824.8 2538.6 2831.2 2538.4 2836.7 2538.2 2841 2538.1 2846 2538.2 2850 2537.8 2854.2 2536 2858 2533.8 2860.6 2532.5 2863.2 2531.2 2867.3 2529.4 2871.3 2527.2 2874.3 2524.2 2877.4 2520.5 2880.5 2517.2 2884 2513.3 2887.6 2509.5 2890.7 2506.1 2893.6 2502.3 2896.8 2499.5 2902 2498.6 2908.2 2498.8 2913.8 2499.5 2918.1 2500.6 2922.5 2502.1 2926.9 2503.4 2932.3 2505 2938 2506.7 2943.4 2508.3 2947.8 2509.7 2952.3 2511.3 2956.4 2512.3 2960.7 2512.2 2965.2 2511.5 2969.2 2510.1 2972.4 2507.7 2975.8 2504 2979.4 2500.7 2984.2 2496.3 2989.8 2491.2 2995.8 2485.7 3001.8 2480.1 3007.4 2475 3012.2 2470.6 3015.8 2467.3 3019.4 2463.9 3022.4 2461.2" stroke="#c810b8"/>
<path d="M3103.3 2376L3106.3 2372.8 3109.4 2369.4 3113.1 2365.4 3116.8 2361.4 3119.9 2358 3122.9 2354.7" stroke="#c810b8"/>
<path d="M3052.2 2560.4L3056.2 2560.3 3061.2 2560.2 3066 2560.1 3072.3 2560 3079.7 2559.9 3087.5 2559.7 3095.4 2559.6 3102.8 2559.5 3109.1 2559.3 3113.9 2559.3 3118.8 2559.2 3122.9 2559.1" stroke="#bd0d63"/>
</g>
<g clip-path="url(#cpi)">
<text transform="translate(2129.7,2200.2) rotate(-45)" text-anchor="middle" dy="16.0" font-size="45" fill="#62f063">450</text>
<text transform="translate(2129.7,2400.3) rotate(-45)" text-anchor="middle" dy="16.0" font-size="45" fill="#20dca8">300</text>
<text transform="translate(2735.0,2153.4) rotate(-45)" text-anchor="middle" dy="16.0" font-size="45" fill="#30b8e2">150</text>
<text transform="translate(2420.0,2489.7) rotate(-45)" text-anchor="middle" dy="16.0" font-size="45" fill="#788df8">0</text>
<text transform="translate(3065.0,2214.7) rotate(-47)" text-anchor="middle" dy="16.0" font-size="45" fill="#ad55f1">−150</text>
<text transform="translate(3065.0,2416.9) rotate(-50)" text-anchor="middle" dy="16.0" font-size="45" fill="#c810b8">−300</text>
<text transform="translate(2995.6,2557.4) rotate(-15)" text-anchor="middle" dy="16.0" font-size="45" fill="#bd0d63">−450</text>
</g>
<g clip-path="url(#csj)" fill="none" stroke-width="5.2" stroke-linecap="butt" stroke-linejoin="round">
<path d="M3172.6 2499.5L3176.6 2499.5 3180.7 2499.6 3186.6 2499.7 3205.7 2499.9 3236.2 2500.2 3274.1 2500.7 3315.9 2501.2 3357.6 2501.7 3395.6 2502.1 3426 2502.5 3445.1 2502.7 3452 2502.5 3456.9 2502.2 3459.1 2502.9 3456.9 2505.6 3452.7 2508.9" stroke="#be0c6a"/>
<path d="M3457.9 2530.6L3462 2530.8 3466.2 2531 3471.8 2531.3 3481.9 2531.8 3496 2532.5 3512.7 2533.3 3530.9 2534.2 3549 2535.1 3565.8 2535.9 3579.9 2536.6 3589.9 2537.1 3595.6 2537.4 3599.7 2537.6 3603.9 2537.8 3608 2538 3612.1 2538.3 3617.9 2538.6 3630.5 2539.3 3649.2 2540.4 3671.8 2541.7 3696.5 2543.1 3721.1 2544.5 3743.7 2545.8 3762.4 2546.9 3775.1 2547.6 3780.9 2548 3785 2548.2 3789.1 2548.4 3793.2 2548.8 3797.3 2549.1 3803 2549.7 3814.7 2550.7 3831.6 2552.2 3852 2554 3874.2 2555.9 3896.4 2557.8 3916.8 2559.6 3933.7 2561.1 3945.4 2562.1 3951.1 2562.6 3955.2 2563 3959.3 2563.3 3963.5 2563.8 3967.7 2564.3 3973.3 2564.9 3981.1 2565.8 3991.5 2567 4003.7 2568.4 4016.8 2569.9 4029.9 2571.4 4042.1 2572.8 4052.6 2574 4060.4 2574.9 4065.9 2575.6 4070.1 2576.1 4074.3 2576.5" stroke="#be0c6a"/>
<path d="M3172.6 2400.7L3176.7 2400.7 3180.7 2400.8 3186.6 2400.8 3202.4 2400.8 3226.7 2400.9 3256.6 2401 3289.3 2401.1 3322 2401.3 3351.9 2401.4 3376.1 2401.5 3391.9 2401.5 3397.8 2401.5 3401.9 2401.5 3405.9 2401.6 3410.1 2401.7 3414.4 2401.8 3419.9 2402 3427.7 2402.2 3438.2 2402.5 3450.3 2402.9 3463.4 2403.3 3476.4 2403.7 3488.6 2404 3499 2404.3 3506.9 2404.6 3512.5 2405 3516.8 2405.3 3520.9 2405 3526.3 2402.6 3531.5 2399.4" stroke="#c12be0"/>
<path d="M3559.2 2433.5L3563.6 2433.8 3568 2434.1 3573.1 2434.4 3577.8 2434.7 3583.2 2435.1 3589.1 2435.4 3595.2 2435.8 3601.1 2436.2 3606.6 2436.6 3611.2 2436.9 3616.4 2437 3620.8 2437.1 3625.2 2437.8 3630.2 2439.4 3635.3 2441.7 3640.1 2444.1 3644.2 2446.5 3648.1 2449.1 3651.9 2451.6 3655.4 2453.7 3658.8 2455.8 3662.2 2458 3665.9 2460.4 3669.7 2462.9 3674.1 2465.4 3678.6 2467.7 3683.7 2470.1 3689 2472.5 3694.5 2474.6 3699.7 2476.1 3705.2 2477 3710.6 2477.3 3716 2477.4 3720.9 2477.4 3725.3 2477.3 3729.3 2477.1 3734.9 2476.9 3746.3 2476.5 3762.8 2476 3782.5 2475.3 3804 2474.6 3825.4 2473.9 3845.2 2473.2 3861.6 2472.7 3873 2472.3 3878.7 2471.9 3882.8 2471.6 3887 2471.8 3892.6 2473.1 3898.5 2475 3904 2476.9 3908.3 2478.4 3912.4 2480 3917.1 2481.8 3921.5 2483.4 3926.4 2485.2 3931.7 2487.1 3936.9 2489.1 3941.9 2490.9 3946.2 2492.5 3951 2494.3 3955.1 2495.9 3959.3 2497.4 3963.8 2498.8 3968.2 2500 3972.8 2501.4 3978 2502.9 3983.3 2504.5 3988.5 2506.1 3992.9 2507.6 3997.2 2509 4001.9 2510.1 4007 2510.8 4012.5 2511.2 4018.1 2511.4 4023.2 2511.4 4027.6 2511.2 4031.6 2510.9 4037.2 2510.4 4047.1 2509.7 4061.1 2508.6 4077.8 2507.4 4095.8 2506.1 4113.8 2504.8 4130.4 2503.5 4144.4 2502.5 4154.4 2501.8 4160.1 2501.4 4164.2 2501.1 4168.4 2500.8" stroke="#c12be0"/>
<path d="M3172.6 2302.4L3176.6 2302.4 3180.6 2302.5 3186.6 2302.5 3208.2 2302.8 3243.3 2303.1 3287.4 2303.6 3336.1 2304.1 3384.8 2304.6 3428.9 2305.1 3464 2305.4 3485.6 2305.6 3491.6 2305.5 3495.7 2305.4 3499.6 2305.8 3503.9 2306.8 3508 2308.4 3512.3 2310.9 3515.7 2313.7 3519.2 2317.2 3522.8 2321.2 3526.4 2325.5 3530 2329.6 3533.6 2333.5 3537.9 2337.7 3542.2 2341.9 3546.5 2346 3550.7 2349.7 3554.9 2352.6 3559.9 2355.3 3564.9 2357.1 3569.8 2358.2 3574.1 2358.4 3578.4 2357.9 3583.8 2357.4 3589.7 2357.1 3597.1 2356.7 3605.6 2356.3 3614.5 2355.8 3623.5 2355.3 3631.9 2354.9 3639.3 2354.5 3645.2 2354.2 3650.6 2353.9 3654.9 2353.7 3659.2 2353.5" stroke="#927cf8"/>
<path d="M3699.7 2378.2L3704 2378 3708.4 2377.8 3713.6 2377.6 3718.5 2377.4 3724.4 2377.2 3731 2376.9 3738 2376.7 3744.9 2376.4 3751.5 2376.1 3757.4 2375.9 3762.3 2375.7 3767.6 2375.3 3772 2374.9 3776.3 2375.2 3780.7 2376.3 3785 2378.1 3789.1 2380.3 3792.9 2383 3796.6 2386 3800.1 2388.9 3804 2392 3807.9 2395.1 3811.2 2397.7 3814.7 2400.6 3818.9 2403.7 3823 2406.7 3827.9 2410.2 3833.2 2413.9 3838.6 2417.5 3843.9 2420.6 3848.7 2422.9 3854.6 2424.8 3860.2 2425.8 3865.7 2426.3 3869.8 2426.2 3873.7 2425.8 3879.6 2425.2 3899.7 2423.6 3932.1 2421.1 3972.5 2418 4017 2414.6 4061.6 2411.1 4102 2408 4134.3 2405.5 4154.4 2403.9 4160.4 2403.5 4164.4 2403.2 4168.4 2402.9" stroke="#927cf8"/>
<path d="M3172.6 2201.9L3176.7 2202 3180.7 2202 3186.6 2202 3204.6 2202.2 3232.8 2202.5 3267.8 2202.8 3306.3 2203.2 3344.8 2203.6 3379.8 2203.9 3408 2204.2 3426 2204.3 3432 2204.2 3436.1 2204 3440 2204.5 3445.4 2206.4 3450.6 2210 3453.7 2213.1 3456.9 2217.1 3460.1 2221.7 3463.4 2226.5 3466.6 2231.2 3469.8 2235.5 3473.2 2240.2 3476.7 2245.1 3480.1 2249.7 3483.5 2253.8 3486.8 2256.8 3492 2259.7 3497.4 2261.1 3501.4 2261.3 3505.6 2260.9 3511.4 2260.4 3524.1 2259.9 3542.8 2259 3565.4 2258 3590 2256.8 3614.7 2255.7 3637.3 2254.7 3656 2253.8 3668.6 2253.2 3674.5 2252.7 3678.7 2252.3 3682.6 2252.6 3688 2253.9 3693.3 2256.8 3696.3 2259.6 3699.4 2263.2 3702.5 2267.3 3705.7 2271.8 3709 2276.2 3712.4 2280.2 3716.2 2284.4 3720.2 2288.8 3724.4 2293.1 3728.4 2297.2 3732.3 2300.8 3735.8 2303.7 3741.1 2307.1 3746.5 2309.2 3751.9 2309.8 3757.8 2309.6 3763.5 2309.2 3768.3 2308.9 3773 2308.4 3777.5 2308 3782.7 2307.5 3787.9 2307 3792.4 2306.6 3797.1 2306.2 3801.8 2305.8" stroke="#35b5e4"/>
<path d="M3835.9 2329.2L3839.9 2328.9 3843.9 2328.6 3849.8 2328.1 3871.7 2326.4 3907.5 2323.7 3952.5 2320.2 4002.1 2316.4 4051.8 2312.6 4096.8 2309.2 4132.5 2306.4 4154.4 2304.7 4160.4 2304.3 4164.4 2304 4168.4 2303.7" stroke="#35b5e4"/>
<path d="M3403.8 2118.5L3407 2123.6 3410.3 2128.9 3413.6 2134.2 3416.9 2139.3 3420 2144.1 3422.9 2148.3 3426.5 2153.3 3429.9 2157.7 3433.6 2161 3438.7 2163.4 3444.2 2164.5 3448.2 2164.6 3452.3 2164.2 3458.2 2163.8 3471 2163.2 3489.9 2162.3 3512.9 2161.2 3537.9 2160 3562.9 2158.8 3585.8 2157.7 3604.7 2156.8 3617.6 2156.2 3623.5 2155.6 3627.8 2155.1 3631.5 2155.5 3635.9 2157.5 3640.1 2161 3642.7 2164.2 3645.6 2168.2 3648.5 2172.7 3651.4 2177.5 3654.3 2182.2 3657.1 2186.6 3660.1 2191.2 3663.2 2195.9 3666.2 2200.5 3669.1 2204.5 3672 2207.9 3676 2211.8 3680.5 2214.3 3684.7 2215 3689.7 2215 3694.9 2214.6 3699.7 2214.3 3703.9 2214 3707.9 2213.6 3713.6 2213.1 3727.8 2212 3749.2 2210.2 3775.4 2208.1 3804 2205.7 3832.5 2203.4 3858.7 2201.3 3880.1 2199.5 3894.3 2198.4 3900.1 2197.9 3904.2 2197.6 3908.3 2197.2" stroke="#24dea5"/>
<path d="M3942.3 2221.5L3946.4 2221.2 3950.4 2220.8 3956.3 2220.3 3971.6 2219.1 3995 2217.1 4023.8 2214.7 4055.3 2212.1 4086.9 2209.5 4115.7 2207.1 4139.1 2205.2 4154.4 2203.9 4160.3 2203.4 4164.3 2203.1 4168.4 2202.8" stroke="#24dea5"/>
<path d="M3623 2119.3L3627.6 2119.4 3632.1 2119.5 3637 2119.6 3642.5 2119.7 3648.6 2119.8 3654.6 2119.9 3660.1 2119.9 3665 2120 3669.6 2120.1 3674.1 2120.2" stroke="#80f444"/>
</g>
<g clip-path="url(#cpj)">
<text transform="translate(3926.1,2210.0) rotate(80)" text-anchor="middle" dy="16.0" font-size="45" fill="#24dea5">600</text>
<text transform="translate(3822.3,2317.7) rotate(72)" text-anchor="middle" dy="16.0" font-size="45" fill="#35b5e4">450</text>
<text transform="translate(3694.1,2361.1) rotate(70)" text-anchor="middle" dy="16.0" font-size="45" fill="#927cf8">300</text>
<text transform="translate(3543.0,2421.6) rotate(62)" text-anchor="middle" dy="16.0" font-size="45" fill="#c12be0">150</text>
<text transform="translate(3429.3,2526.3) rotate(90)" text-anchor="middle" dy="16.0" font-size="45" fill="#be0c6a">0</text>
</g>
<g clip-path="url(#csa)" fill="none" stroke-linecap="butt" stroke-linejoin="round">
<g clip-path="url(#una)" stroke-width="5.2">
<path d="M107.4 349.5L112.9 349.6 118.1 349.7 123.3 349.7 128.5 349.8 133.9 349.8 139.6 349.9 145.7 349.9 152.4 350 165.6 350.2 181.1 350.3 198 350.5 215.7 350.7 233.5 350.9 250.4 351.1 265.9 351.2 279.1 351.4 285.8 351.4 291.9 351.5 297.6 351.6 303 351.6 308.2 351.7 313.4 351.7 318.6 351.8 324.1 351.9 329.5 351.9 334.8 352 339.9 352 345.1 352.1 350.5 352.2 356.2 352.3 362.3 352.3 369.1 352.4 382.4 352.6 397.9 352.8 415 353 432.9 353.2 450.7 353.5 467.8 353.7 483.4 353.9 496.7 354.1 503.4 354.1 509.5 354.2 515.2 354.3 520.6 354.4 525.8 354.4 531 354.5 536.2 354.6 541.7 354.6" stroke="#3eea90"/>
<path d="M1145.8 563.4L1150.4 566.8 1154.9 570.2 1159.7 572.7 1164.8 573.9 1170.1 574.2 1175.9 574.1 1181 573.7 1186.5 573 1192.2 572.2 1198 571.2 1203.7 570.4" stroke="#3eea90"/>
<path d="M37 486.1L42.4 486.1 47.5 486.2 52.5 486.2 57.5 486.2 62.8 486.3 68.6 486.3 74.9 486.4 82 486.4 101 486.5 124.8 486.7 151.8 486.9 180.6 487 209.3 487.2 236.3 487.4 260.2 487.6 279.1 487.7 286.2 487.7 292.6 487.8 298.3 487.8 303.6 487.8 308.6 487.8 313.6 487.9 318.7 487.9 324.1 488 329.5 488 334.6 488.1 339.5 488.1 344.6 488.2 349.8 488.3 355.6 488.4 361.9 488.4 369.1 488.5 388.4 488.8 412.7 489.1 440.5 489.4 469.9 489.8 499.4 490.2 527.1 490.5 551.5 490.9 570.7 491.1 578 491.1 584.7 491.1 590.9 491 596.5 490.9 601.8 490.9 606.7 491 611.3 491.2 615.7 491.7 621.1 492.4 625.8 493.2 630.2 494.4 634.3 496.3 637.8 498.8 640.9 501.9 644.1 505.6 648.1 510.2 655 517.9 663.7 528.4 673.6 540.6 684.3 553.7 695.1 566.7 705.4 578.7 714.7 588.7 722.2 595.8 727.4 599.9 731.9 602.8 736.2 604.9 740.7 606.5 745.1 607.4 749.4 607.6 754 607.5 759.3 607.4 763.8 607.4 768.5 607.2 773.5 607 778.8 606.7 784.5 606.3 790.6 605.9 797.1 605.5 804.2 605.2 820.2 604.4 839.6 603.4 861.4 602.3 884.3 601.2 907.2 600 928.9 598.9 948.3 598 964.3 597.2 971.3 596.8 977.5 596.5 983.2 596.2 988.5 595.9 993.6 595.7 998.7 595.4 1003.8 595.2 1009.3 594.9" stroke="#10d0c0"/>
<path d="M1115.7 588.9L1120.4 588.5 1125 587.9 1129.7 587.6 1134.3 588 1138.9 589 1143.4 590.6 1148 592.8 1152.8 595.8 1156.6 598.9 1160.5 602.6 1164.5 606.8 1168.5 611.4 1172.6 616.3 1176.8 621.2 1181 626 1185.2 630.6 1189.7 635.2 1194.4 639.9 1199.1 644.6 1203.8 649.4 1208.6 654.1 1213.3 658.7 1217.8 663.2 1222.2 667.6 1226.5 672 1230.8 676.6 1235.1 681.2 1239.2 685.6 1243.1 689.5 1246.7 692.9 1250 695.4 1254.8 697.7 1259.3 699.1" stroke="#10d0c0"/>
<path d="M1314.8 754.6L1320.1 754.2 1324.9 753.8 1329.5 753.4 1334.2 753 1339.3 752.6 1345 752.1 1351.7 751.6 1359.7 750.9 1401.5 747.4 1463.3 742.3 1538.5 736 1620.4 729.2 1702.2 722.3 1777.4 716.1 1839.3 710.9 1881.1 707.4 1889 706.8 1895.7 706.2 1901.5 705.7 1906.6 705.3 1911.3 704.9 1915.9 704.5 1920.7 704.1 1925.9 703.7" stroke="#10d0c0"/>
<path d="M107.4 621.3L112.8 621.4 117.8 621.4 122.6 621.5 127.6 621.6 132.8 621.6 138.5 621.7 145 621.8 152.4 621.9 176.5 622.2 208.4 622.6 245.5 623.1 285.2 623.6 324.9 624.1 362 624.6 393.9 625 418 625.3 425.4 625.4 431.9 625.5 437.6 625.6 442.8 625.6 447.7 625.7 452.6 625.8 457.6 625.8 463 625.9 468.4 626 473.6 626.1 478.7 626.2 483.9 626.3 489.2 626.4 494.9 626.6 501.1 626.7 508 626.8 522.4 627.1 539.6 627.5 558.7 627.8 578.7 628.2 598.7 628.6 617.8 629 635 629.4 649.5 629.7 656.4 629.8 662.7 629.8 668.6 629.8 674.2 629.8 679.5 629.8 684.6 630 689.5 630.2 694.4 630.6 700.6 631 706.4 631.5 712 632.2 717.3 633.4 722.2 635.2 726.2 637.5 729.5 640.2 732.7 643.5 736.3 647.2 740.7 651.4 748.6 658.7 758.5 668.1 769.7 679 781.6 690.4 793.7 701.8 805.2 712.3 815.5 721.2 824.1 727.8 829.4 731.3 834.2 734.2 838.6 736.4 842.9 738.1 847.2 739.4 851.7 740 856 740 860.6 739.7 865.7 739.4 870.3 739.2 875.2 738.9 880.3 738.6 885.8 738.3 891.6 737.9 897.7 737.5 904 737.1 910.7 736.7 921.9 736 934.8 735.2 948.6 734.4 963 733.6 977.3 732.7 991.2 731.9 1004 731.1 1015.3 730.5 1022.4 730 1029.9 729.6 1037.4 729.2 1044.5 728.8 1050.7 728.4 1055.7 728.1 1059 727.9 1060.2 727.8 1059.3 727.8 1057.9 727.8" stroke="#40b0e8"/>
<path d="M1141.2 778.7L1146.8 778.5 1152.5 778.2 1158.1 778 1163.8 777.8 1169.4 777.5 1175 777.3 1180.6 777 1186.2 776.8 1191.5 776.6 1196.7 776.4 1202 776.1 1207.2 775.9 1212.4 775.7 1217.6 775.5 1222.9 775.3 1228.2 775 1233.9 774.7 1239.8 774.3 1245.8 773.8 1251.8 773.3 1257.7 772.9 1263.3 772.7 1268.5 772.8 1273.1 773.1 1278.3 773.9 1282.8 775 1287 776.5 1291.7 778.7 1295.9 781.2 1300.3 784.4 1304.8 788 1309.4 791.9 1314.2 796 1319.1 800.2 1324.1 804.2 1329.4 808.3 1335 812.6 1340.8 817 1346.6 821.5 1352.6 825.9 1358.5 830.4 1364.5 834.7 1370.4 838.9 1376.2 843 1382.1 847.1 1388.1 851.3 1394 855.4 1399.9 859.3 1405.7 863 1411.3 866.2 1416.7 869 1422.6 871.7 1428.4 873.9 1433.9 875.7 1439.3 877.1 1444.4 878.2 1449.1 878.9 1453.4 879.2 1457.8 879.2 1463 879.2 1467.3 879 1471.7 878.8 1476.2 878.4 1481.1 878 1486.5 877.5 1492.7 876.9 1499.7 876.2 1507.8 875.5 1549.8 872.2 1611.9 867.1 1687.4 861 1769.7 854.4 1851.9 847.8 1927.5 841.7 1989.6 836.6 2031.5 833.3 2039.5 832.6 2046.2 832.1 2052 831.6 2057 831.2 2061.7 830.8 2066.3 830.4 2071.1 830.1 2076.4 829.6" stroke="#40b0e8"/>
<path d="M36.9 757.6L42.3 757.7 47.2 757.7 52 757.7 56.9 757.8 62 757.8 67.8 757.9 74.3 757.9 81.9 758 110.2 758.2 148.9 758.5 194.5 758.8 243.6 759.2 292.7 759.6 338.3 759.9 376.9 760.2 405.2 760.4 412.8 760.5 419.4 760.5 425.1 760.6 430.3 760.6 435.2 760.6 440 760.6 444.9 760.7 450.2 760.8 455.6 760.9 460.6 761 465.5 761.2 470.4 761.3 475.6 761.5 481.3 761.7 487.8 761.9 495.2 762.1 519.7 762.8 552.1 763.7 589.9 764.8 630.3 766 670.8 767.1 708.6 768.2 741 769.1 765.5 769.8 773 770.1 779.7 770.2 785.8 770.4 791.3 770.6 796.4 770.7 801.2 770.8 805.8 771 810.4 771.1 816.6 771.4 822.2 771.6 827.5 771.8 833 772" stroke="#8888f8"/>
<path d="M880.2 829.7L885.2 830.2 890.1 830.6 895.1 831.3 900.5 832.8 904.8 834.7 909.5 837.3 914.3 840.3 919.3 843.6 924.3 847.1 929.3 850.6 934 853.9 938.6 856.8 943.3 859.8 947.9 862.7 952.3 865.5 956.7 868.2 961.2 871.1 966 874.1 970.5 876.9 975.3 879.9 980.3 882.9 985.3 886 990.3 889.1 995.1 892.2 999.7 895.2 1004.1 898.1 1009 901.8 1013.5 905.7 1017.8 909.4 1022.2 912.6 1027 915.2 1032 917 1037.2 918.1 1042.5 918.9 1048.1 919.4 1054 919.7 1058.8 919.9 1063.6 919.9 1068.4 919.7 1073.5 919.3 1078.9 918.9 1084.9 918.5 1091.5 918 1099 917.6 1122.8 916.5 1154.2 915.1 1190.6 913.4 1229.6 911.6 1268.6 909.8 1305.1 908.1 1336.5 906.7 1360.3 905.6 1367.7 905.2 1374.4 904.7 1380.4 904.2 1385.8 903.8 1390.9 903.4 1395.7 903.2 1400.4 903.2 1405.2 903.5 1410.9 904.1 1416.1 904.8 1421.1 905.9 1426.4 907.3 1432.2 909.4 1438.9 912.1 1446 915.6 1453.6 919.7 1461.5 924.2 1469.7 929 1478.1 933.8 1486.6 938.6 1495.3 943.1 1505.9 948.5 1517.3 954.3 1529.1 960.3 1541 966.3 1552.9 972 1564.4 977.3 1575.3 982 1585.3 985.9 1591.6 988.1 1597.4 990 1603.1 991.7 1608.5 993.2 1613.8 994.5 1619.2 995.6 1624.7 996.4 1630.3 997.2 1636.4 997.6 1642.5 997.8 1648.7 997.6 1654.9 997.3 1661.2 996.9 1667.4 996.5 1673.7 996.1 1679.9 995.8" stroke="#8888f8"/>
<path d="M1785.7 986.8L1791.1 986.4 1796.1 986 1801.1 985.7 1806.1 985.3 1811.4 984.9 1817.1 984.5 1823.4 984.1 1830.6 983.5 1849.8 982.1 1874.2 980.4 1901.9 978.4 1931.3 976.2 1960.8 974.1 1988.5 972.1 2012.8 970.3 2032.1 968.9 2039.3 968.4 2045.6 967.9 2051.3 967.5 2056.6 967.1 2061.6 966.8 2066.5 966.4 2071.6 966 2077 965.6" stroke="#8888f8"/>
<path d="M272.4 895.9L277.7 895.9 282.7 896 287.4 896.1 292.3 896.2 297.5 896.3 303.2 896.3 309.8 896.5 317.4 896.6 346.6 897 386.7 897.7 434.1 898.4 485.1 899.2 536.2 900 583.6 900.8 623.7 901.4 652.9 901.9 660.5 902 667.1 902.1 672.8 902.2 678 902.3 682.8 902.4 687.6 902.4 692.5 902.5 697.9 902.6" stroke="#b34bef"/>
<path d="M751.9 958.9L757.4 959.2 762.5 959.5 767.6 959.8 772.7 960.1 778.1 960.4 783.8 960.7 790 961 796.8 961.4 811.9 962.3 830 963.3 850.1 964.5 871.2 965.6 892.4 966.8 912.5 968 930.6 969 945.6 969.9 952.7 970.3 959.5 970.7 965.8 971.1 971.8 971.4 977.3 971.8 982.3 972 986.7 972.3 990.5 972.4 995.2 972.3 1000 972.4 1005.5 972.8 1012.6 973.4 1020.9 974.2 1030 975.2 1039.6 976.4 1049.3 977.8 1058.8 979.5 1067.5 981.4 1076 983.7 1084.3 986.5 1092.6 989.5 1100.8 992.8 1109.1 996.1 1117.5 999.6 1126.2 1002.9 1135.1 1006.2 1145.8 1009.9 1157.1 1013.9 1168.8 1018 1180.6 1022.1 1192.3 1026 1203.8 1029.6 1214.8 1032.8 1225.1 1035.4 1232.5 1037.1 1239.8 1038.4 1246.8 1039.6 1253.6 1040.6 1260.2 1041.4 1266.7 1042.1 1273 1042.6 1279.2 1043.1 1284.6 1043.4 1289.8 1043.5 1294.9 1043.5 1299.8 1043.4 1304.8 1043.3 1309.9 1043.2 1315.2 1043.1 1320.3 1043 1325.3 1043 1330.3 1042.9 1335.3 1042.8 1340.7 1042.7 1346.5 1042.6 1353 1042.5 1360.2 1042.4 1379.5 1042.1 1404 1041.7 1431.9 1041.3 1461.5 1040.8 1491.1 1040.4 1519 1040 1543.5 1039.6 1562.8 1039.3 1570 1039.1 1576.5 1038.9 1582.3 1038.6 1587.7 1038.4 1592.8 1038.3 1597.7 1038.2 1602.7 1038.3 1607.8 1038.6 1613.1 1039 1618.1 1039.6 1622.9 1040.2 1627.8 1041 1632.8 1042 1638.1 1043.1 1643.9 1044.4 1652.2 1046.7 1661.5 1049.6 1671.4 1052.9 1681.7 1056.4 1692 1060 1702.1 1063.5 1711.6 1066.6 1720.4 1069.2 1726.4 1070.8 1732.1 1072.2 1737.6 1073.5 1742.9 1074.7 1748.2 1075.9 1753.4 1077 1758.7 1078.2 1764.2 1079.4 1770.1 1080.8 1776 1082.2 1781.9 1083.6 1787.9 1085 1793.9 1086.4 1799.9 1087.7 1805.8 1089.1 1811.6 1090.5 1817.1 1091.8 1822.3 1093.2 1827.5 1094.6 1832.6 1095.9 1837.9 1097.2 1843.4 1098.5 1849.2 1099.7 1855.5 1100.7 1865.4 1102.1 1876.4 1103.3 1888.2 1104.4 1900.4 1105.4 1912.6 1106.2 1924.4 1106.8 1935.5 1107.3 1945.5 1107.5 1951.9 1107.5 1957.9 1107.3 1963.6 1107 1969.1 1106.7 1974.4 1106.3 1979.7 1105.9 1985 1105.5 1990.5 1105.2 1996.5 1104.9 2002.4 1104.6 2008.3 1104.2 2014.2 1103.9 2020.1 1103.6 2026 1103.3 2032.1 1103 2037.6 1102.7 2043.2 1102.5 2048.8 1102.2 2054.4 1101.9 2060.1 1101.6 2065.7 1101.3 2071.4 1101 2077 1100.7" stroke="#b34bef"/>
<path d="M658.3 1055.7L666.8 1060.9 675.4 1066.5 684 1072.2 692.6 1077.9 701.2 1083.2 709.6 1088 717.8 1091.9 725.8 1094.9 731.5 1096.3 736.7 1097.1 741.7 1097.4 746.7 1097.4 751.9 1097.2 757.5 1097 763.7 1097 770.7 1097.2 788.7 1098.1 811 1099.2 836.2 1100.5 862.9 1101.8 889.6 1103.2 914.8 1104.5 937.1 1105.6 955.1 1106.5 962.1 1106.9 968.4 1107.2 974.1 1107.5 979.4 1107.7 984.5 1107.9 989.5 1108.2 994.6 1108.5 1000 1108.8 1005.3 1109.2 1010.2 1109.5 1014.9 1109.9 1019.8 1110.3 1024.9 1110.7 1030.6 1111.2 1037.2 1111.7 1044.9 1112.3 1075.8 1114.7 1118.8 1118 1170 1121.9 1225.1 1126.2 1280.3 1130.4 1331.4 1134.3 1374.5 1137.7 1405.4 1140 1413 1140.6 1419.6 1141.1 1425.4 1141.5 1430.5 1141.9 1435.3 1142.3 1440 1142.6 1444.9 1143 1450.2 1143.5 1455.6 1144 1460.5 1144.4 1465.2 1144.9 1470 1145.4 1475.2 1145.9 1480.9 1146.4 1487.4 1147.1 1495 1147.8 1524.7 1150.7 1565.6 1154.7 1614.1 1159.4 1666.4 1164.4 1718.6 1169.5 1767.1 1174.2 1808 1178.2 1837.7 1181 1845.3 1181.8 1851.8 1182.4 1857.6 1183 1862.7 1183.5 1867.5 1183.9 1872.3 1184.4 1877.2 1184.9 1882.5 1185.4" stroke="#c40ca8"/>
<path d="M27.5 822.9L31.8 824.3 37.4 826.1 44.8 828.4 54.8 831.5 66.8 835.2 80.1 839.4 94.3 843.8 108.6 848.2 122.6 852.6 135.6 856.7 147.9 860.6 160.2 864.4 172.4 868.3 184.7 872.2 197 876.1 209.4 880 221.9 884.1 234.6 888.2 248.4 892.7 262.3 897.3 276.3 902 290.5 906.7 304.7 911.5 318.9 916.3" stroke="#b34bef" stroke-width="6.0"/>
<path d="M318.9 916.3L333.1 921.2 347.2 926 361.5 930.9 376 936 390.7 941.1 405.3 946.2 419.7 951.3 433.7 956.2 447.1 961 459.7 965.6 469 969 477.9 972.3 486.4 975.4 494.7 978.5 502.8 981.5 510.9 984.7 519 987.9 527.3 991.3 535.8 994.9 544.2 998.7 552.7 1002.5 561.1 1006.4 569.6 1010.4 578 1014.3 586.4 1018.4 594.8 1022.4 603.3 1026.4 611.8 1030.4 620.2 1034.4" stroke="#c40ca8" stroke-width="6.0"/>
<path d="M704.8 896L738.9 861.7 769.9 830.4 794.7 805.4 810.2 789.7 815 784.7 818.2 781.2" stroke="#b34bef" stroke-width="6.4"/>
<path d="M818.2 781.2L821.5 778.3 826.4 774.9 831.7 773 836.4 773.7 841.3 775.8 846 778.3 850.3 781.3 854.3 784.7 858.5 788.3 862.4 791.5 866.5 794.7 870.6 798 874.5 801.1 878.7 804.6 882.8 807.9 887 811.1 891.5 814 896.1 816.7 900.7 819.3 905.2 822 909.7 824.7 914.2 827.4 918.7 830.3 923.2 833.1 927.9 835.7 932.6 837.9 937.4 839.8 942.2 840.6 947.1 839.9 952 838.1 956.6 835.7 960 832.8 963.1 829.2 967.6 824.1 980.9 810.3 1001.5 788.9 1026.9 762.4 1054.8 733.3" stroke="#8888f8" stroke-width="6.4"/>
<path d="M1054.8 733.3L1082.7 704.3 1108.1 677.8 1128.7 656.3 1142 642.5 1146.6 637.5 1149.7 634 1153 631 1157 627.8 1161.1 625 1165.3 623.6" stroke="#40b0e8" stroke-width="6.4"/>
<path d="M1165.3 623.6L1169.4 624.3 1173.6 626.4 1177.6 628.9 1181.5 632.2 1185.1 636.2 1188.9 640.3 1192.4 643.7 1196 647.4 1199.6 651 1203.1 654.5 1207 658.3 1210.7 662.1 1214.4 665.8 1218.3 669.5 1222.3 673.2 1226.1 676.7 1229.3 679.7 1232.3 682.6 1235.5 685.5 1239.3 689.3 1243.2 693.3 1247.2 696.5 1252.3 699.3 1257.4 700.6 1262.6 699.3 1267.6 696.5 1271.1 693.6 1274.5 689.9 1279 685.2 1285.7 678.5 1294.7 669.4 1305.4 658.8 1316.8 647.4 1328.2 635.9 1338.8 625.3 1347.9 616.3 1354.6 609.6 1359.1 605 1362.5 601.6 1365.9 598.2" stroke="#10d0c0" stroke-width="6.4"/>
<path d="M666.2 1046.8L671 1042 685.4 1027.2 708.1 1004 736.3 975.2 767.2 943.5" stroke="#c40ca8" stroke-width="6.4"/>
<path d="M767.2 943.5L798.2 911.8 826.4 883 849.1 859.8 863.5 845 868.2 839.9 871.4 836.4 874.7 833.6 879.6 830.8 884.9 829.5 889.6 830 894.5 831.5 899.2 833.6 903.6 836.2 907.7 839.4 912.3 842.9 916.6 845.9 921.4 849.3 926.3 852.7 931 856.1 935.3 859.2 939.6 862.4 943.6 865.3 948.4 868.4 952.7 870.8 957.9 873.5 963.6 876.3 969.5 879.1 975.3 881.7 980.6 883.9 985.2 885.6 990.4 887.4 995 888.6 999.5 888.9 1004.5 887.7" stroke="#b34bef" stroke-width="6.4"/>
<path d="M1004.5 887.7L1009.3 885.5 1013.9 882.7 1017.3 879.8 1020.4 876.3 1025 871.2 1037.7 858.1 1057.3 837.8 1081.5 812.9 1108 785.5 1134.5 758.2" stroke="#8888f8" stroke-width="6.4"/>
<path d="M1134.5 758.2L1158.7 733.2 1178.3 712.9 1191 699.8 1195.7 694.7 1198.8 691.1 1202.2 688.3 1207.2 685.4 1212.4 684.2 1216.5 684.9 1220.6 686.8 1224.7 689.1 1228.7 692.3 1232.4 696 1236.4 700 1240.2 703.5 1244.1 707.1 1248.1 710.8 1251.8 714.3 1255.8 718 1259.6 721.6 1263.6 725.1 1267.7 728.6 1272 732.1 1276 735.2 1279.9 738.4 1283.9 741.7 1287.8 745 1292 748.6 1296.3 751.7 1300.3 754.2 1304.5 756.3 1308.6 757.1 1312.8 755.9 1316.9 753.4 1320.9 750.5 1324.3 747.5" stroke="#40b0e8" stroke-width="6.4"/>
<path d="M1324.3 747.5L1327.5 743.9 1332 739 1341 729.7 1353.9 716.2 1369.5 700.1 1386.4 682.6 1403.2 665 1418.8 648.9 1431.7 635.5 1440.7 626.1 1445.3 621.4 1448.6 618 1451.8 614.6" stroke="#10d0c0" stroke-width="6.4"/>
<path d="M673.9 982.8L703.5 952.8 736 919.8 768.5 886.8 798.1 856.7 821.9 832.6 836.9 817.4 841.6 812.3 844.8 808.8 848.1 806 853 802.8 858.3 801.3 863 801.9 867.9 803.7 872.6 806 877 808.7 881 812 885.4 815.6 889.1 818.3 893.1 821.3 897.2 824.4 901.2 827.4 904.9 830.1 909.3 833.6 913.4 836.8 917.7 839.7 922.3 842.5 927.2 844.9 931.8 847.3 935.4 849.3 938.8 851.1 942.5 853.1 947 855.6 951.7 858.3 956.6 860.6 961.3 862.6 966.1 864.2 970.9 864.7 975.8 863.8 980.7 861.8 985.2 859.2 988.7 856.3 991.8 852.7 996.3 847.7 1009.3 834.2 1029.4 813.4 1054.2 787.6 1081.4 759.4 1108.6 731.2 1133.4 705.5 1153.5 684.6 1166.5 671.2 1171.1 666.1 1174.3 662.6 1177.6 659.6 1181.2 657 1185 654.9 1188.8 653.9 1193 654.6 1197.1 656.6 1201.1 659 1205.1 662.2 1208.8 666.1 1212.7 670.1 1216.3 673.6 1220.1 677.2 1223.8 680.9 1227.5 684.4 1231.4 688.2 1235.2 691.9 1239 695.5 1243 699.1 1247.1 702.6 1251 706 1255.4 709.8 1259.7 713.6 1263.5 717.2 1267.6 720.9 1271.7 724.1 1275.4 726.4 1279.2 728.1 1283 728.8 1286.8 728 1290.6 726 1294.3 723.5 1297.7 720.5 1301 716.9 1305.4 712.1 1313.3 704 1324.3 692.8 1337.4 679.4 1351.6 665 1365.7 650.5 1378.8 637.1 1389.8 625.9 1397.7 617.9 1402.2 613.2 1405.5 609.8 1408.9 606.4 1407.4 605.1 1365.7 596.8" stroke="#c40ca8" stroke-width="6.2"/>
</g>
<g clip-path="url(#ova)" stroke-width="5.2">
<path d="M516.2 241.7L519.4 247.1 522.6 252.7 525.9 258.5 529.1 264.3 532.4 269.8 535.5 274.9 538.6 279.5 541.7 283.3 545.2 287.2 548.6 290.4 552 293 555.6 294.9 559.8 296 564.2 296.3 569.4 296.3 573.5 296.3 577.8 296.2 582.4 296.1 587.5 295.8 593.1 295.4 599.4 295.1 606.5 294.7 614.4 294.3 648.4 292.8 696.7 290.6 754.6 288 817.1 285.2 879.7 282.4 937.5 279.8 985.8 277.6 1019.9 276.1 1027.6 275.7 1034.3 275.4 1040 275.2 1045.1 275 1049.9 274.7 1054.6 274.5 1059.5 274.3 1064.8 274.1" stroke="#8888f8"/>
<path d="M1171.3 268.1L1176.6 267.8 1181.5 267.5 1186.2 267.3 1191 267.1 1196.1 266.8 1201.9 266.5 1208.5 266.2 1216.2 265.8 1249 264.1 1295.1 261.8 1350.2 259 1409.7 256 1469.2 253 1524.3 250.2 1570.4 247.9 1603.2 246.3 1610.9 245.9 1617.5 245.5 1623.3 245.2 1628.4 244.9 1633.2 244.6 1637.9 244.4 1642.8 244.2 1648.1 244 1653.8 243.8 1659.3 243.6 1664.9 243.5 1670.5 243.4 1676.1 243.3 1681.8 243.2 1687.4 243.1 1693.1 242.9 1699.2 242.8 1705.3 242.6 1711.4 242.5 1717.6 242.4 1723.8 242.2 1729.9 242.1 1736 241.9 1742 241.8 1747.8 241.7 1753.4 241.5 1759.1 241.4 1764.7 241.3 1770.2 241.1 1775.8 241 1781.4 240.9 1787 240.7" stroke="#8888f8"/>
<path d="M358.8 307.9L364.3 307.9 369.8 308 375.2 308.1 380.6 308.2 386.1 308.3 391.8 308.3 397.6 308.4 403.8 308.5 412.3 308.6 421.5 308.8 431.1 308.9 441 309 450.8 309.2 460.4 309.3 469.6 309.4 478.2 309.6 484.5 309.6 490.8 309.6 497 309.5 503 309.5 508.7 309.5 514 309.6 518.8 309.8 523.1 310.2 528.5 310.8 532.9 311.7 537 313.4 540.5 315.8 543.7 318.8 547 322.5 550.9 327.3 557.2 335.8 565 347.5 573.8 361.3 583.1 376.1 592.4 390.7 601.3 404 609.3 414.9 615.7 422.2 620.7 426.2 625 428.6 629.6 430.1 633.8 430.8 638.2 430.9 642.9 430.7 648.1 430.6 652.5 430.5 657 430.3 661.7 430.1 666.7 429.8 672.2 429.5 678.4 429.1 685.3 428.7 693.1 428.3 724.1 426.8 767.3 424.7 818.7 422.2 874.1 419.4 929.5 416.7 980.8 414.2 1024 412.1 1055.1 410.5 1062.7 410.2 1069.3 409.9 1075.1 409.6 1080.2 409.3 1085 409.1 1089.8 408.9 1094.7 408.6 1100 408.3 1105.4 408 1110.3 407.7 1115.2 407.4 1120.1 407.1 1125.3 406.7 1131 406.4 1137.5 405.9 1144.9 405.5 1169.6 403.9 1202.4 401.8 1240.6 399.4 1281.5 396.8 1322.4 394.2 1360.6 391.7 1393.4 389.6 1418.1 388 1425.5 387.6 1432 387.1 1437.7 386.7 1442.9 386.4 1447.8 386.1 1452.6 385.7 1457.6 385.5 1463 385.2 1468.4 384.9 1473.5 384.7 1478.5 384.6 1483.5 384.4 1488.8 384.3 1494.5 384.1 1500.8 383.9 1507.9 383.7 1526.1 383.1 1548.9 382.3 1574.6 381.5 1601.9 380.6 1629.1 379.6 1654.8 378.8 1677.6 378 1695.8 377.4 1702.9 377.2 1709.2 377 1714.9 376.7 1720.2 376.5 1725.2 376.4 1730.2 376.2 1735.3 376 1740.7 375.9 1746.1 375.8 1751.1 375.8 1756 375.7 1761 375.7 1766.2 375.7 1772 375.7 1778.4 375.7 1785.7 375.6 1808.4 375.5 1837.9 375.3 1872.1 375 1908.6 374.8 1945 374.5 1979.2 374.3 2008.8 374.1 2031.4 373.9 2038.7 373.9 2045.2 373.8 2050.9 373.8 2056.1 373.8 2061.1 373.7 2066 373.7 2071 373.6 2076.4 373.6" stroke="#b34bef"/>
<path d="M1055.6 546.3L1060.9 546 1066 545.6 1070.9 545.3 1075.9 545 1081.1 544.7 1086.8 544.3 1093.2 543.9 1100.5 543.5 1121.5 542.1 1148.6 540.4 1179.8 538.4 1213 536.3 1246.1 534.2 1277.3 532.3 1304.4 530.6 1325.5 529.2 1332.7 528.8 1339.1 528.3 1344.8 528 1350.1 527.6 1355 527.3 1359.9 527 1365 526.7 1370.4 526.4 1375.7 526.1 1380.8 525.9 1385.7 525.8 1390.7 525.6 1395.9 525.4 1401.6 525.2 1408 525 1415.3 524.8 1437.1 524 1465.3 523 1497.8 521.8 1532.4 520.6 1567 519.4 1599.5 518.2 1627.7 517.2 1649.5 516.4 1656.8 516.2 1663.2 515.9 1668.9 515.7 1674.2 515.5 1679.1 515.3 1684 515.1 1689.1 515 1694.4 514.8 1699.8 514.7 1704.8 514.6 1709.6 514.5 1714.5 514.5 1719.7 514.4 1725.4 514.3 1731.9 514.3 1739.4 514.2 1765.5 513.8 1800.5 513.3 1841.5 512.7 1885.4 512 1929.4 511.4 1970.3 510.8 2005.3 510.3 2031.4 509.9 2038.9 509.8 2045.4 509.7 2051.1 509.6 2056.3 509.6 2061.2 509.5 2066.1 509.4 2071 509.3 2076.4 509.3" stroke="#c40ca8"/>
<path d="M1675.9 650L1681.3 649.9 1686.4 649.9 1691.4 649.8 1696.4 649.8 1701.7 649.7 1707.4 649.7 1713.8 649.6 1720.9 649.5 1740.2 649.3 1764.6 649 1792.3 648.7 1821.8 648.4 1851.2 648.1 1879 647.7 1903.3 647.5 1922.6 647.3 1929.8 647.2 1936.1 647.1 1941.8 647 1947.1 647 1952.1 646.9 1957.1 646.9 1962.2 646.8 1967.6 646.8" stroke="#b30f3d"/>
</g>
<path d="M38.2 235.5L43.3 236.7 48.6 238 53.8 239.2 58.9 240.4 63.9 241.5 69.1 242.8 74 243.9 79.2 245.1 85.4 246.5 92.7 248.2 101.6 250.3 111.5 252.6 122 255 132.4 257.4 142.3 259.7 151.2 261.8 158.6 263.5 164.8 265 170.1 266.2 174.9 267.3 180 268.5 185 269.6 189.9 270.8 195.2 272 201.4 273.4 208.8 275.1 217.7 277.1 227.6 279.4 238 281.8 248.4 284.2 258.3 286.5 267.2 288.5 274.6 290.2 280.8 291.6 286.1 292.8 291 294 296 295.1 301 296.3 305.8 297.4 311 298.7 317.4 300.2 327 302.4 339.1 305.3 352.9 308.6 367.7 312 382.4 315.5 396.2 318.8 408.4 321.6 417.9 323.9 424.4 325.4 429.6 326.6 434.3 327.7 439.3 328.9 444.4 330.2 449.3 331.4 454.6 332.7 460.6 334.2 466.7 335.8 473.7 337.5 481.4 339.4 489.4 341.4 497.5 343.4 505.2 345.3 512.2 347.1 518.2 348.6" stroke="#3eea90" stroke-width="6.5"/>
<path d="M518.2 348.6L524.4 350.1 529.8 351.5 534.8 352.7 539.6 353.9 544.7 354.9 549.4 355.7 553.9 357 557.9 358.7 561.7 360.8 565.4 363.3 569.3 367.1 573.1 371.5 576.8 376.2 580 380.5 583.2 385.2 586.3 389.9 589.3 394.4 592.5 399 595.6 403.5 598.8 408.2 601.6 412.4 604.6 416.7 607.7 421.3 611.2 426.4 614.3 430.8 617.7 435.8 621.4 441.1 625.3 446.7 629.2 452.2 633 457.5 636.6 462.3 639.9 466.5 643.6 471.2 647.1 475.5 650.5 479.2 654.2 482.2 658.9 484.8 663.7 486.6 668.5 488 672.5 488.7 676.5 488.9 680.8 489.4 685.2 490 689.6 490.7 695.1 491.6 702.5 492.8 731.2 497.4 776.6 504.6 833.1 513.5 895.1 523.4 957.2 533.2 1013.7 542.2 1059.1 549.4 1087.8 554 1095.1 555.1 1100.3 556 1104.7 556.6 1109.5 557.4 1114.4 558.2 1119 558.9 1124.2 559.7 1131.2 560.8 1148.7 563.5 1173.8 567.5 1203.9 572.2 1236.6 577.3 1269.3 582.4 1299.4 587.2 1324.5 591.1 1341.9 593.8 1348.9 594.9 1354.2 595.7 1358.8 596.4 1363.7 597.2" stroke="#10d0c0" stroke-width="6.5"/>
<path d="M1458.8 614.3L1463.3 615.2 1468.6 616.2 1475.6 617.6 1493.4 621 1519 625.9 1550 631.8 1583.6 638.2 1617.2 644.6 1648.1 650.5 1673.8 655.4 1691.6 658.8 1698.6 660.2 1703.8 661.2 1708.3 662 1713.2 663 1718 663.9 1722.4 664.8 1727.6 665.9 1734.8 667.3 1759.8 672.3 1798.4 680.1 1846.1 689.7 1898.4 700.2 1950.6 710.7" stroke="#10d0c0" stroke-width="6.5"/>
<path d="M1950.6 710.7L1998.3 720.3 2037 728.1 2062 733.2 2069.2 734.6 2074.4 735.7 2078.8 736.5 2083.6 737.5" stroke="#40b0e8" stroke-width="6.5"/>
</g>
<g clip-path="url(#cpa)">
<text transform="translate(54.2,347.2) rotate(0)" text-anchor="middle" dy="16.0" font-size="45" fill="#3eea90">500</text>
<text transform="translate(54.2,619.0) rotate(0)" text-anchor="middle" dy="16.0" font-size="45" fill="#40b0e8">300</text>
<text transform="translate(1062.5,590.3) rotate(-2)" text-anchor="middle" dy="16.0" font-size="45" fill="#10d0c0">400</text>
<text transform="translate(1118.1,268.1) rotate(-3)" text-anchor="middle" dy="16.0" font-size="45" fill="#8888f8">200</text>
<text transform="translate(2030.6,644.4) rotate(-1)" text-anchor="middle" dy="16.0" font-size="45" fill="#b30f3d">−100</text>
<text transform="translate(1732.6,988.2) rotate(-4)" text-anchor="middle" dy="16.0" font-size="45" fill="#8888f8">200</text>
<text transform="translate(1143.5,635.2) rotate(-45)" text-anchor="middle" dy="16.0" font-size="45" fill="#8888f8">200</text>
<text transform="translate(1317.1,637.5) rotate(-45)" text-anchor="middle" dy="16.0" font-size="45" fill="#b34bef">100</text>
<text transform="translate(1422.2,640.7) rotate(-48)" text-anchor="middle" dy="16.0" font-size="45" fill="#b34bef">100</text>
<text transform="translate(1361.1,704.6) rotate(-50)" text-anchor="middle" dy="16.0" font-size="45" fill="#10d0c0">400</text>
<text transform="translate(1129.6,760.2) rotate(-52)" text-anchor="middle" dy="16.0" font-size="45" fill="#40b0e8">300</text>
<text transform="translate(1248.6,706.9) rotate(-45)" text-anchor="middle" dy="16.0" font-size="45" fill="#c40ca8">0</text>
<text transform="translate(638.5,1013.8) rotate(-45)" text-anchor="middle" dy="16.0" font-size="45" fill="#c40ca8">0</text>
</g>
<line x1="36.5" x2="2077.0" y1="236.0" y2="236.0" stroke="#000" stroke-width="11"/>
<line x1="2127" x2="4167.5" y1="236.0" y2="236.0" stroke="#000" stroke-width="11"/>
<line x1="36.5" x2="1031.5" y1="1446.2" y2="1446.2" stroke="#000" stroke-width="11"/>
<line x1="1082" x2="2077.0" y1="1446.2" y2="1446.2" stroke="#000" stroke-width="11"/>
<line x1="2127" x2="3122.0" y1="1446.2" y2="1446.2" stroke="#000" stroke-width="11"/>
<line x1="3172.5" x2="4167.5" y1="1446.2" y2="1446.2" stroke="#000" stroke-width="11"/>
<line x1="36.5" x2="1031.5" y1="2112.9" y2="2112.9" stroke="#000" stroke-width="11"/>
<line x1="1082" x2="2077.0" y1="2112.9" y2="2112.9" stroke="#000" stroke-width="11"/>
<line x1="2127" x2="3122.0" y1="2112.9" y2="2112.9" stroke="#000" stroke-width="11"/>
<line x1="3172.5" x2="4167.5" y1="2112.9" y2="2112.9" stroke="#000" stroke-width="11"/>
<g clip-path="url(#cpd)">
<line x1="1334.7" y1="1488.0" x2="1360.0" y2="1535.6" stroke="#000" stroke-width="5.0"/><line x1="1347.3" y1="1511.8" x2="1369.6" y2="1500.0" stroke="#000" stroke-width="4.6"/><path d="M1386.2 1491.1L1369.0 1508.9L1367.9 1500.9L1361.9 1495.5Z" fill="#000"/><circle cx="1347.3" cy="1511.8" r="10.9" fill="#1dc3d7" stroke="#000" stroke-width="3.6"/>
<line x1="1525.1" y1="1752.5" x2="1566.3" y2="1787.1" stroke="#000" stroke-width="5.0"/><line x1="1545.7" y1="1769.8" x2="1561.9" y2="1750.5" stroke="#000" stroke-width="4.6"/><path d="M1574.0 1736.1L1564.7 1759.0L1560.7 1751.9L1553.1 1749.2Z" fill="#000"/><circle cx="1545.7" cy="1769.8" r="10.9" fill="#1dc3d7" stroke="#000" stroke-width="3.6"/>
<line x1="1719.0" y1="1859.9" x2="1770.9" y2="1873.8" stroke="#000" stroke-width="5.0"/><line x1="1745.0" y1="1866.8" x2="1751.5" y2="1842.5" stroke="#000" stroke-width="4.6"/><path d="M1756.4 1824.3L1757.6 1849.0L1751.0 1844.3L1742.9 1845.1Z" fill="#000"/><circle cx="1745.0" cy="1866.8" r="10.9" fill="#1dc3d7" stroke="#000" stroke-width="3.6"/>
<line x1="1917.0" y1="1894.3" x2="1970.6" y2="1899.0" stroke="#000" stroke-width="5.0"/><line x1="1943.8" y1="1896.6" x2="1946.0" y2="1871.5" stroke="#000" stroke-width="4.6"/><path d="M1947.6 1852.8L1953.1 1876.9L1945.8 1873.4L1938.0 1875.6Z" fill="#000"/><circle cx="1943.8" cy="1896.6" r="10.9" fill="#1dc3d7" stroke="#000" stroke-width="3.6"/>
</g>
<g clip-path="url(#cpe)">
<line x1="2166.9" y1="1455.1" x2="2219.3" y2="1467.2" stroke="#000" stroke-width="5.0"/><line x1="2193.1" y1="1461.1" x2="2198.8" y2="1436.6" stroke="#000" stroke-width="4.6"/><path d="M2203.0 1418.3L2205.1 1442.9L2198.4 1438.4L2190.3 1439.5Z" fill="#000"/><circle cx="2193.1" cy="1461.1" r="10.9" fill="#30b8e2" stroke="#000" stroke-width="3.6"/>
<line x1="2498.3" y1="1579.1" x2="2551.2" y2="1588.4" stroke="#000" stroke-width="5.0"/><line x1="2524.7" y1="1583.7" x2="2529.1" y2="1558.9" stroke="#000" stroke-width="4.6"/><path d="M2532.4 1540.4L2535.8 1564.9L2528.8 1560.8L2520.8 1562.2Z" fill="#000"/><circle cx="2524.7" cy="1583.7" r="10.9" fill="#30b8e2" stroke="#000" stroke-width="3.6"/>
<line x1="2829.9" y1="1632.7" x2="2882.9" y2="1642.1" stroke="#000" stroke-width="5.0"/><line x1="2856.4" y1="1637.4" x2="2860.8" y2="1612.6" stroke="#000" stroke-width="4.6"/><path d="M2864.0 1594.1L2867.4 1618.5L2860.4 1614.4L2852.4 1615.9Z" fill="#000"/><circle cx="2856.4" cy="1637.4" r="10.9" fill="#30b8e2" stroke="#000" stroke-width="3.6"/>
</g>
<g clip-path="url(#cpf)">
<line x1="3211.7" y1="1459.0" x2="3265.5" y2="1459.0" stroke="#000" stroke-width="5.0"/><line x1="3238.6" y1="1459.0" x2="3238.6" y2="1433.8" stroke="#000" stroke-width="4.6"/><path d="M3238.6 1415.0L3246.2 1438.5L3238.6 1435.7L3231.0 1438.5Z" fill="#000"/><circle cx="3238.6" cy="1459.0" r="10.9" fill="#30e49d" stroke="#000" stroke-width="3.6"/>
<line x1="3577.0" y1="1514.5" x2="3630.7" y2="1510.8" stroke="#000" stroke-width="5.0"/><line x1="3603.9" y1="1512.7" x2="3603.0" y2="1487.5" stroke="#000" stroke-width="4.6"/><path d="M3602.3 1468.7L3610.8 1491.9L3603.1 1489.3L3595.6 1492.4Z" fill="#000"/>
<line x1="3941.8" y1="1493.4" x2="3995.6" y2="1495.3" stroke="#000" stroke-width="5.0"/><line x1="3968.7" y1="1494.3" x2="3969.6" y2="1469.2" stroke="#000" stroke-width="4.6"/><path d="M3970.2 1450.4L3977.0 1474.1L3969.5 1471.0L3961.8 1473.6Z" fill="#000"/><circle cx="3968.7" cy="1494.3" r="10.9" fill="#30e49d" stroke="#000" stroke-width="3.6"/>
<line x1="3941.8" y1="1592.6" x2="3995.6" y2="1594.5" stroke="#000" stroke-width="5.0"/><line x1="3968.7" y1="1593.5" x2="3969.6" y2="1568.4" stroke="#000" stroke-width="4.6"/><path d="M3970.2 1549.6L3977.0 1573.3L3969.5 1570.2L3961.8 1572.8Z" fill="#000"/><circle cx="3968.7" cy="1593.5" r="10.9" fill="#1dc3d7" stroke="#000" stroke-width="3.6"/>
</g>
<g clip-path="url(#cpg)">
<line x1="488.5" y1="2127.1" x2="513.7" y2="2174.6" stroke="#000" stroke-width="5.0"/><line x1="501.1" y1="2150.8" x2="523.3" y2="2139.0" stroke="#000" stroke-width="4.6"/><path d="M539.9 2130.2L522.7 2147.9L521.7 2139.9L515.6 2134.5Z" fill="#000"/><circle cx="501.1" cy="2150.8" r="10.9" fill="#24dea5" stroke="#000" stroke-width="3.6"/>
<line x1="681.1" y1="2399.4" x2="720.4" y2="2436.1" stroke="#000" stroke-width="5.0"/><line x1="700.7" y1="2417.8" x2="717.9" y2="2399.3" stroke="#000" stroke-width="4.6"/><path d="M730.7 2385.6L720.3 2407.9L716.6 2400.7L709.2 2397.6Z" fill="#000"/><circle cx="700.7" cy="2417.8" r="10.9" fill="#24dea5" stroke="#000" stroke-width="3.6"/>
<line x1="874.2" y1="2519.3" x2="925.7" y2="2535.0" stroke="#000" stroke-width="5.0"/><line x1="900.0" y1="2527.2" x2="907.3" y2="2503.1" stroke="#000" stroke-width="4.6"/><path d="M912.8 2485.1L913.2 2509.8L906.8 2504.9L898.7 2505.3Z" fill="#000"/><circle cx="900.0" cy="2527.2" r="10.9" fill="#24dea5" stroke="#000" stroke-width="3.6"/>
</g>
<g clip-path="url(#cph)">
<line x1="1122.4" y1="2412.0" x2="1173.8" y2="2427.7" stroke="#000" stroke-width="5.0"/><line x1="1148.1" y1="2419.9" x2="1155.5" y2="2395.8" stroke="#000" stroke-width="4.6"/><path d="M1161.0 2377.8L1161.4 2402.5L1154.9 2397.6L1146.8 2398.1Z" fill="#000"/><circle cx="1148.1" cy="2419.9" r="10.9" fill="#bd0d63" stroke="#000" stroke-width="3.6"/>
<line x1="1322.1" y1="2481.7" x2="1370.9" y2="2504.5" stroke="#000" stroke-width="5.0"/><line x1="1346.5" y1="2493.1" x2="1357.1" y2="2470.3" stroke="#000" stroke-width="4.6"/><path d="M1365.1 2453.2L1362.0 2477.7L1356.4 2472.0L1348.3 2471.3Z" fill="#000"/><circle cx="1346.5" cy="2493.1" r="10.9" fill="#bd0d63" stroke="#000" stroke-width="3.6"/>
</g>
<g clip-path="url(#cpi)">
<line x1="2466.1" y1="2421.0" x2="2504.2" y2="2383.0" stroke="#000" stroke-width="5.0"/><line x1="2485.2" y1="2402.0" x2="2467.0" y2="2384.5" stroke="#000" stroke-width="4.6"/><path d="M2453.5 2371.4L2475.7 2382.3L2468.4 2385.8L2465.1 2393.2Z" fill="#000"/><circle cx="2485.2" cy="2402.0" r="10.9" fill="#669af8" stroke="#000" stroke-width="3.6"/>
<line x1="2613.0" y1="2366.5" x2="2651.0" y2="2328.5" stroke="#000" stroke-width="5.0"/><line x1="2632.0" y1="2347.5" x2="2613.9" y2="2330.0" stroke="#000" stroke-width="4.6"/><path d="M2600.4 2316.9L2622.6 2327.8L2615.2 2331.3L2612.0 2338.7Z" fill="#000"/><circle cx="2632.0" cy="2347.5" r="10.9" fill="#669af8" stroke="#000" stroke-width="3.6"/>
<line x1="2758.6" y1="2305.7" x2="2796.6" y2="2267.6" stroke="#000" stroke-width="5.0"/><line x1="2777.6" y1="2286.6" x2="2759.5" y2="2269.1" stroke="#000" stroke-width="4.6"/><path d="M2746.0 2256.1L2768.2 2266.9L2760.8 2270.4L2757.6 2277.9Z" fill="#000"/><circle cx="2777.6" cy="2286.6" r="10.9" fill="#669af8" stroke="#000" stroke-width="3.6"/>
<line x1="2466.1" y1="2474.7" x2="2504.2" y2="2436.6" stroke="#000" stroke-width="5.0"/><line x1="2485.2" y1="2455.6" x2="2467.0" y2="2438.1" stroke="#000" stroke-width="4.6"/><path d="M2453.5 2425.1L2475.7 2435.9L2468.4 2439.4L2465.1 2446.9Z" fill="#000"/><circle cx="2485.2" cy="2455.6" r="10.9" fill="#8489f8" stroke="#000" stroke-width="3.6"/>
<line x1="2613.0" y1="2419.7" x2="2651.0" y2="2381.7" stroke="#000" stroke-width="5.0"/><line x1="2632.0" y1="2400.7" x2="2613.9" y2="2383.2" stroke="#000" stroke-width="4.6"/><path d="M2600.4 2370.2L2622.6 2381.0L2615.2 2384.5L2612.0 2391.9Z" fill="#000"/><circle cx="2632.0" cy="2400.7" r="10.9" fill="#8489f8" stroke="#000" stroke-width="3.6"/>
<line x1="2758.6" y1="2357.6" x2="2796.6" y2="2319.5" stroke="#000" stroke-width="5.0"/><line x1="2777.6" y1="2338.6" x2="2759.5" y2="2321.1" stroke="#000" stroke-width="4.6"/><path d="M2746.0 2308.0L2768.2 2318.9L2760.8 2322.4L2757.6 2329.8Z" fill="#000"/><circle cx="2777.6" cy="2338.6" r="10.9" fill="#8489f8" stroke="#000" stroke-width="3.6"/>
</g>
<g clip-path="url(#cpj)">
<line x1="3211.7" y1="2213.4" x2="3265.5" y2="2213.4" stroke="#000" stroke-width="5.0"/><line x1="3238.6" y1="2213.4" x2="3238.6" y2="2188.2" stroke="#000" stroke-width="4.6"/><path d="M3238.6 2169.4L3246.2 2192.9L3238.6 2190.1L3231.0 2192.9Z" fill="#000"/>
<line x1="3211.7" y1="2312.6" x2="3265.5" y2="2312.6" stroke="#000" stroke-width="5.0"/><line x1="3238.6" y1="2312.6" x2="3238.6" y2="2287.4" stroke="#000" stroke-width="4.6"/><path d="M3238.6 2268.6L3246.2 2292.1L3238.6 2289.3L3231.0 2292.1Z" fill="#000"/>
<line x1="3577.0" y1="2270.2" x2="3630.7" y2="2267.3" stroke="#000" stroke-width="5.0"/><line x1="3603.9" y1="2268.8" x2="3603.0" y2="2243.6" stroke="#000" stroke-width="4.6"/><path d="M3602.3 2224.8L3610.8 2248.0L3603.1 2245.4L3595.6 2248.5Z" fill="#000"/>
<line x1="3577.0" y1="2368.9" x2="3630.7" y2="2366.1" stroke="#000" stroke-width="5.0"/><line x1="3603.9" y1="2367.5" x2="3603.0" y2="2342.3" stroke="#000" stroke-width="4.6"/><path d="M3602.3 2323.5L3610.8 2346.8L3603.1 2344.2L3595.6 2347.3Z" fill="#000"/>
<line x1="3941.9" y1="2331.1" x2="3995.5" y2="2327.3" stroke="#000" stroke-width="5.0"/><line x1="3968.7" y1="2329.2" x2="3967.4" y2="2304.0" stroke="#000" stroke-width="4.6"/><path d="M3966.4 2285.3L3975.2 2308.3L3967.5 2305.9L3960.0 2309.1Z" fill="#000"/>
<line x1="3941.9" y1="2431.1" x2="3995.5" y2="2427.4" stroke="#000" stroke-width="5.0"/><line x1="3968.7" y1="2429.2" x2="3967.4" y2="2404.1" stroke="#000" stroke-width="4.6"/><path d="M3966.4 2385.3L3975.2 2408.4L3967.5 2406.0L3960.0 2409.2Z" fill="#000"/>
<line x1="3211.7" y1="2412.2" x2="3265.5" y2="2412.2" stroke="#000" stroke-width="5.0"/><line x1="3238.6" y1="2412.2" x2="3238.6" y2="2387.0" stroke="#000" stroke-width="4.6"/><path d="M3238.6 2368.2L3246.2 2391.7L3238.6 2388.9L3231.0 2391.7Z" fill="#000"/><circle cx="3238.6" cy="2412.2" r="10.9" fill="#c12be0" stroke="#000" stroke-width="3.6"/>
<line x1="3577.0" y1="2447.5" x2="3630.8" y2="2449.3" stroke="#000" stroke-width="5.0"/><line x1="3603.9" y1="2448.4" x2="3604.8" y2="2423.2" stroke="#000" stroke-width="4.6"/><path d="M3605.4 2404.4L3612.2 2428.2L3604.7 2425.1L3597.0 2427.7Z" fill="#000"/><circle cx="3603.9" cy="2448.4" r="10.9" fill="#c12be0" stroke="#000" stroke-width="3.6"/>
<line x1="3577.0" y1="2546.7" x2="3630.8" y2="2548.5" stroke="#000" stroke-width="5.0"/><line x1="3603.9" y1="2547.6" x2="3604.8" y2="2522.4" stroke="#000" stroke-width="4.6"/><path d="M3605.4 2503.6L3612.2 2527.4L3604.7 2524.3L3597.0 2526.8Z" fill="#000"/><circle cx="3603.9" cy="2547.6" r="10.9" fill="#be0c6a" stroke="#000" stroke-width="3.6"/>
</g>
<rect x="36.5" y="100" width="2040.5" height="1087.7" fill="none" stroke="#000" stroke-width="3.2"/>
<rect x="2127" y="100" width="2040.5" height="1087.7" fill="none" stroke="#000" stroke-width="3.2"/>
<rect x="36.5" y="1380" width="995.0" height="530.0" fill="none" stroke="#000" stroke-width="3.2"/>
<rect x="1082" y="1380" width="995.0" height="530.0" fill="none" stroke="#000" stroke-width="3.2"/>
<rect x="2127" y="1380" width="995.0" height="530.0" fill="none" stroke="#000" stroke-width="3.2"/>
<rect x="3172.5" y="1380" width="995.0" height="530.0" fill="none" stroke="#000" stroke-width="3.2"/>
<rect x="36.5" y="2046.7" width="995.0" height="530.0" fill="none" stroke="#000" stroke-width="3.2"/>
<rect x="1082" y="2046.7" width="995.0" height="530.0" fill="none" stroke="#000" stroke-width="3.2"/>
<rect x="2127" y="2046.7" width="995.0" height="530.0" fill="none" stroke="#000" stroke-width="3.2"/>
<rect x="3172.5" y="2046.7" width="995.0" height="530.0" fill="none" stroke="#000" stroke-width="3.2"/>
<text x="36.2" y="79.2" font-size="74">a) Synthetic Implicit Field</text>
<text x="2126.7" y="79.2" font-size="74">b) Lithology</text>
<text x="36.2" y="1357.4" font-size="74">c) Event ID</text>
<text x="1081.7" y="1357.4" font-size="74">d) Listric Fault<tspan font-family="Liberation Serif, serif" dx="21">(</tspan><tspan font-style="italic" dx="2.5">f</tspan><tspan font-size="48.8" dy="9.6" dx="1">2</tspan><tspan font-family="Liberation Serif, serif" dy="-9.6" dx="0">)</tspan></text>
<text x="2126.7" y="1357.4" font-size="74">e) Unconformity<tspan font-family="Liberation Serif, serif" dx="21">(</tspan><tspan font-style="italic" dx="2.5">d</tspan><tspan font-size="48.8" dy="9.6" dx="-1">2</tspan><tspan font-family="Liberation Serif, serif" dy="-9.6" dx="0">)</tspan></text>
<text x="3172.2" y="1357.4" font-size="74">f) Overburden<tspan font-family="Liberation Serif, serif" dx="21">(</tspan><tspan font-style="italic" dx="2.5">s</tspan><tspan font-size="48.8" dy="9.6" dx="-3">2</tspan><tspan font-family="Liberation Serif, serif" dy="-9.6" dx="0">)</tspan></text>
<text x="36.2" y="2024.1000000000001" font-size="74">g) Listric Fault<tspan font-family="Liberation Serif, serif" dx="21">(</tspan><tspan font-style="italic" dx="2.5">f</tspan><tspan font-size="48.8" dy="9.6" dx="1">1</tspan><tspan font-family="Liberation Serif, serif" dy="-9.6" dx="-4">)</tspan></text>
<text x="1081.7" y="2024.1000000000001" font-size="74">h) Intrusion<tspan font-family="Liberation Serif, serif" dx="21">(</tspan><tspan font-style="italic" dx="2.5">d</tspan><tspan font-size="48.8" dy="9.6" dx="-1">1</tspan><tspan font-family="Liberation Serif, serif" dy="-9.6" dx="-4">)</tspan></text>
<text x="2126.7" y="2024.1000000000001" font-size="74">i) Dyke<tspan font-family="Liberation Serif, serif" dx="21">(</tspan><tspan font-style="italic" dx="2.5">s</tspan><tspan font-size="48.8" dy="9.6" dx="-3">1</tspan><tspan font-family="Liberation Serif, serif" dy="-9.6" dx="-4">)</tspan></text>
<text x="3172.2" y="2024.1000000000001" font-size="74">j) Stratigraphy<tspan font-family="Liberation Serif, serif" dx="21">(</tspan><tspan font-style="italic" dx="2.5">s</tspan><tspan font-size="48.8" dy="9.6" dx="-3">0</tspan><tspan font-family="Liberation Serif, serif" dy="-9.6" dx="0">)</tspan></text>
</svg></body></html>
